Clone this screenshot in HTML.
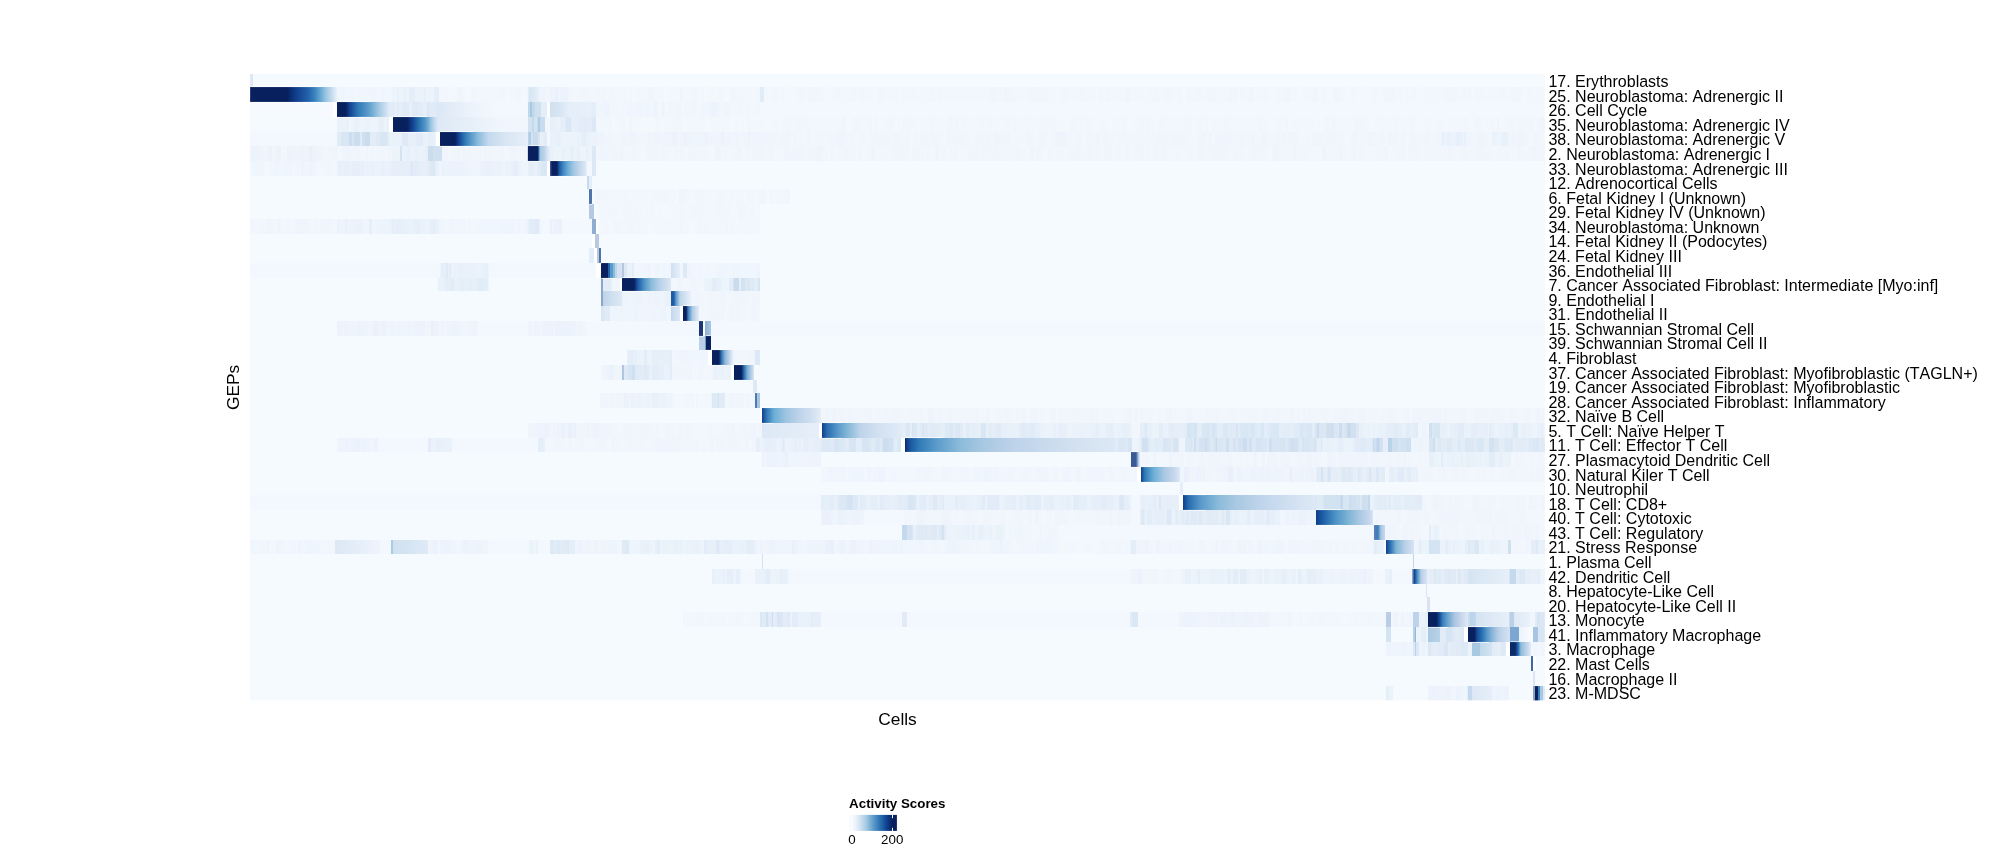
<!DOCTYPE html>
<html lang="en"><head><meta charset="utf-8"><title>GEP activity heatmap</title>
<style>html,body{margin:0;padding:0;background:#fff}body{width:2006px;height:851px;overflow:hidden;position:relative}#h{position:absolute;left:250px;top:0;width:1295px}#h div{position:absolute;left:0;width:1295px}svg{position:absolute;left:0;top:0;display:block;will-change:transform;transform:translateZ(0)}text{font-family:"Liberation Sans",Arial,Helvetica,sans-serif;fill:#000;font-kerning:none}.l{font-size:16.03px}.t{font-size:17.33px}.k{font-size:13.33px}.b{font-size:13.33px;font-weight:bold}</style></head><body>
<div id="h">
<div style="top:74px;height:13px;background:linear-gradient(90deg,#dce8f5 0.3px,#dce8f5 3px,#f5fafe 3.5px,#f5fafe 1294.7px)"></div>
<div style="top:87px;height:15px;background:linear-gradient(90deg,#08205d 0.3px,#08205d 37.5px,#0d3580 43px,#134493 48px,#2262aa 58px,#3d85c0 65px,#62a5d3 70px,#9dc6e1 76px,#c8dcf0 82px,#e6eff9 86.5px,#f0f6fd 86.7px,#eff5fd 86.9px 88px,#f0f6fd 88.4px 90px,#f0f6fd 90.4px 92px,#eff5fd 92.4px 96px,#f1f7fd 96.4px 97.5px,#eff6fd 97.9px 102.5px,#eff5fd 102.9px 105px,#f1f7fd 105.4px 107px,#eff6fd 107.4px 111px,#f0f6fd 111.4px 114px,#f0f6fd 114.4px 120px,#f0f6fd 120.4px 123px,#eff5fd 123.4px 125px,#f0f6fd 125.4px 126.5px,#f1f7fd 126.9px 129.5px,#f0f6fd 129.9px 131.5px,#eef4fd 131.9px 134px,#eff6fd 134.4px 136px,#f1f7fd 136.4px 138.5px,#f0f6fd 138.9px 141.8px,#eaf2fa 142px,#edf4fb 142.2px 146.8px,#e9f1fa 147.2px 148.8px,#ebf3fb 149.2px 151.8px,#ecf3fb 152.2px 153.3px,#e8f1f9 153.7px 155.8px,#ecf4fb 156.2px 158.8px,#e5eef8 159.2px 164.8px,#eaf2fa 165.2px 167.8px,#ebf3fa 168.2px 173.8px,#e7f0f9 174.2px 175.8px,#edf4fb 176.2px 177.8px,#eaf2fa 178.2px 180.8px,#edf4fb 181.2px 183.8px,#e7f0f9 184.2px 185.8px,#e4eef8 186.2px 188.8px,#f2f7fd 189px,#f2f7fd 189.2px 192.8px,#f2f7fd 193.2px 194.8px,#f2f7fd 195.2px 197.8px,#f3f8fd 198.2px 199.8px,#f3f8fd 200.2px 204.8px,#f2f7fd 205.2px 207.8px,#f0f5fc 208.2px 212.8px,#f2f7fd 213.2px 214.8px,#f3f8fd 215.2px 219.8px,#f2f7fd 220.2px 221.8px,#f1f6fd 222.2px 224.3px,#f2f7fd 224.7px 230.3px,#f2f7fd 230.7px 236.3px,#f2f7fd 236.7px 238.3px,#f2f7fd 238.7px 240.3px,#f2f7fd 240.7px 244.3px,#f2f7fd 244.7px 246.3px,#f2f7fd 246.7px 251.3px,#f1f6fd 251.7px 254.3px,#f3f8fd 254.7px 259.3px,#f2f7fd 259.7px 261.3px,#f2f7fd 261.7px 265.3px,#f2f7fd 265.7px 266.8px,#f1f6fd 267.2px 270.8px,#f3f8fd 271.2px 275.8px,#f2f7fd 276.2px 278.3px,#d5e4f2 278.7px,#dde9f6 284px,#e6eff9 288px,#f1f6fd 291px,#eff4fc 291.2px 295.8px,#f1f6fd 296.2px 297.8px,#f0f5fd 298.2px 299.8px,#eef4fc 300px,#edf3fc 300.2px 305.8px,#e9f0fb 306.2px 308.3px,#f0f6fd 308.7px 310.3px,#ecf3fc 310.7px 312.3px,#edf3fc 312.7px 314.3px,#ecf3fc 314.7px 316.3px,#edf3fc 316.7px 317.8px,#f1f6fd 318px,#f1f6fd 318.2px 321.8px,#f2f7fd 322.2px 323.3px,#f2f7fd 323.7px 329.3px,#f1f6fd 329.7px 332.3px,#f1f6fd 332.7px 337.3px,#f2f7fd 337.7px 343.3px,#f2f7fd 343.7px 345.3px,#f1f6fd 345.7px 349.8px,#f2f7fd 350px,#f2f7fd 350.2px 351.3px,#f1f6fd 351.7px 355.3px,#f2f7fd 355.7px 361.3px,#f1f6fd 361.7px 363.8px,#f2f7fd 364.2px 365.8px,#f2f7fd 366.2px 367.8px,#f2f7fd 368.2px 369.8px,#f2f7fd 370.2px 372.8px,#f1f6fd 373.2px 375.8px,#f3f8fd 376.2px 377.3px,#f2f7fd 377.7px 382.3px,#f3f8fd 382.7px 386.3px,#f2f7fd 386.7px 391.3px,#f1f6fd 391.7px 393.3px,#f2f7fd 393.7px 398.3px,#f0f5fc 398.7px 403.3px,#f2f7fd 403.7px 407.3px,#f2f7fd 407.7px 413.3px,#f3f8fd 413.7px 419.3px,#f2f7fd 419.7px 424.3px,#f2f7fd 424.7px 427.3px,#f3f8fd 427.7px 429.3px,#f0f5fc 429.7px 431.8px,#f1f6fd 432.2px 433.8px,#f3f8fd 434.2px 436.8px,#f2f7fd 437.2px 440.8px,#f1f6fd 441.2px 442.3px,#f1f6fd 442.7px 445.3px,#f2f7fd 445.7px 448.3px,#f3f8fd 448.7px 450.3px,#f2f7fd 450.7px 451.8px,#f2f7fd 452.2px 453.8px,#f3f8fd 454.2px 458.8px,#f2f7fd 459.2px 463.8px,#f3f8fd 464.2px 466.3px,#f2f7fd 466.7px 469.3px,#f1f6fd 469.7px 471.3px,#f2f7fd 471.7px 474.3px,#f3f8fd 474.7px 480.3px,#f1f6fd 480.7px 485.3px,#f2f7fd 485.7px 489.3px,#f2f7fd 489.7px 490.8px,#f1f6fd 491.2px 492.8px,#f2f7fd 493.2px 497.8px,#f2f7fd 498.2px 501.8px,#f3f8fd 502.2px 503.8px,#f2f7fd 504.2px 506.8px,#f2f7fd 507.2px 509.8px,#e0ecf7 510px,#e0ecf7 514px,#f2f7fd 514px,#f2f7fd 514.2px 515.8px,#f2f7fd 516.2px 518.8px,#f3f8fd 519.2px 520.8px,#f2f7fd 521.2px 523.3px,#f1f6fd 523.7px 526.3px,#f1f6fd 526.7px 528.3px,#f3f8fd 528.7px 529.8px,#f2f7fd 530.2px 534.8px,#f3f8fd 535.2px 539.8px,#f3f8fd 540.2px 545.8px,#f2f7fd 546.2px 547.8px,#f2f7fd 548.2px 549.8px,#f1f6fd 550.2px 551.8px,#f1f6fd 552.2px 554.8px,#f3f8fd 555.2px 556.8px,#f1f6fd 557.2px 562.8px,#f1f6fd 563.2px 568.8px,#f1f6fd 569.2px 570.8px,#f2f7fd 571.2px 573.8px,#f3f8fd 574.2px 577.8px,#f3f8fd 578.2px 580.8px,#f2f7fd 581.2px 584.8px,#f2f7fd 585.2px 587.3px,#f1f6fd 587.7px 589.8px,#f2f7fd 590.2px 591.3px,#f2f7fd 591.7px 594.3px,#f3f8fd 594.7px 595.8px,#f2f7fd 596.2px 598.8px,#f2f7fd 599.2px 600.3px,#f1f6fd 600.7px 603.3px,#f1f6fd 603.7px 606.3px,#f3f8fd 606.7px 608.8px,#f1f6fd 609.2px 613.8px,#f2f7fd 614.2px 617.8px,#f2f7fd 618.2px 622.8px,#f3f8fd 623.2px 624.8px,#f3f8fd 625.2px 627.8px,#f1f6fd 628.2px 633.8px,#f2f7fd 634.2px 635.3px,#f2f7fd 635.7px 640.3px,#f2f7fd 640.7px 646.3px,#f2f7fd 646.7px 648.8px,#f3f8fd 649.2px 651.3px,#f2f7fd 651.7px 653.8px,#f2f7fd 654.2px 655.8px,#f2f7fd 656.2px 660.8px,#f1f6fd 661.2px 663.8px,#f2f7fd 664.2px 666.3px,#f2f7fd 666.7px 672.3px,#f2f7fd 672.7px 674.3px,#f3f8fd 674.7px 675.8px,#f2f7fd 676.2px 678.3px,#f1f6fd 678.7px 683.3px,#f2f7fd 683.7px 686.3px,#f2f7fd 686.7px 687.8px,#f1f6fd 688.2px 691.8px,#f2f7fd 692.2px 696.8px,#f2f7fd 697.2px 699.8px,#f2f7fd 700.2px 702.8px,#f2f7fd 703.2px 704.3px,#f2f7fd 704.7px 708.3px,#f2f7fd 708.7px 713.3px,#f2f7fd 713.7px 715.8px,#f2f7fd 716.2px 720.8px,#f3f8fd 721.2px 722.3px,#f1f6fd 722.7px 723.8px,#f2f7fd 724.2px 725.8px,#f2f7fd 726.2px 728.3px,#f2f7fd 728.7px 730.3px,#f2f7fd 730.7px 733.3px,#f2f7fd 733.7px 738.3px,#f1f6fd 738.7px 740.3px,#f0f5fc 740.7px 745.3px,#f1f6fd 745.7px 748.3px,#f1f6fd 748.7px 750.3px,#f1f6fd 750.7px 751.8px,#f3f8fd 752.2px 753.3px,#f0f5fc 753.7px 758.3px,#f1f6fd 758.7px 761.3px,#f1f6fd 761.7px 764.3px,#f2f7fd 764.7px 768.3px,#f2f7fd 768.7px 770.3px,#f2f7fd 770.7px 772.3px,#f2f7fd 772.7px 774.3px,#f2f7fd 774.7px 777.3px,#f1f6fd 777.7px 783.3px,#f1f6fd 783.7px 789.3px,#f1f6fd 789.7px 791.3px,#f1f6fd 791.7px 796.3px,#f2f7fd 796.7px 799.3px,#f2f7fd 799.7px 804.3px,#f3f8fd 804.7px 809.3px,#f2f7fd 809.7px 811.8px,#f1f6fd 812.2px 813.8px,#f1f6fd 814.2px 817.8px,#f2f7fd 818.2px 819.8px,#f2f7fd 820.2px 825.8px,#f2f7fd 826.2px 828.8px,#f1f6fd 829.2px 830.8px,#f1f6fd 831.2px 834.8px,#f3f8fd 835.2px 836.3px,#f1f6fd 836.7px 838.3px,#f2f7fd 838.7px 839.8px,#f2f7fd 840.2px 845.8px,#f3f8fd 846.2px 848.3px,#f1f6fd 848.7px 850.8px,#f1f6fd 851.2px 852.8px,#f3f8fd 853.2px 854.8px,#f1f6fd 855.2px 860.8px,#f2f7fd 861.2px 862.8px,#f2f7fd 863.2px 865.8px,#f2f7fd 866.2px 868.3px,#f2f7fd 868.7px 870.8px,#f1f6fd 871.2px 872.8px,#f2f7fd 873.2px 875.3px,#f0f5fc 875.7px 880.3px,#f2f7fd 880.7px 883.3px,#f2f7fd 883.7px 885.3px,#f2f7fd 885.7px 890.3px,#f1f6fd 890.7px 892.3px,#f2f7fd 892.7px 894.3px,#f3f8fd 894.7px 897.3px,#f2f7fd 897.7px 899.8px,#f2f7fd 900.2px 902.8px,#f1f6fd 903.2px 908.8px,#f2f7fd 909.2px 910.8px,#f2f7fd 911.2px 913.8px,#f1f6fd 914.2px 919.8px,#f1f6fd 920.2px 922.3px,#f2f7fd 922.7px 924.8px,#f2f7fd 925.2px 927.3px,#f2f7fd 927.7px 929.3px,#f1f6fd 929.7px 930.8px,#f3f8fd 931.2px 936.8px,#f1f6fd 937.2px 939.3px,#f1f6fd 939.7px 940.8px,#f2f7fd 941.2px 942.8px,#f2f7fd 943.2px 944.3px,#f1f6fd 944.7px 949.3px,#f1f6fd 949.7px 951.3px,#f2f7fd 951.7px 954.3px,#f2f7fd 954.7px 957.3px,#f1f6fd 957.7px 963.3px,#f1f6fd 963.7px 964.8px,#f2f7fd 965.2px 967.8px,#f3f8fd 968.2px 969.8px,#f2f7fd 970.2px 971.8px,#f2f7fd 972.2px 973.8px,#f2f7fd 974.2px 978.8px,#f0f5fc 979.2px 981.8px,#f1f6fd 982.2px 987.8px,#f3f8fd 988.2px 990.3px,#f0f5fc 990.7px 992.3px,#f2f7fd 992.7px 995.3px,#f2f7fd 995.7px 997.3px,#f1f6fd 997.7px 998.8px,#f0f5fc 999.2px 1003.8px,#f3f8fd 1004.2px 1005.8px,#f2f7fd 1006.2px 1009.8px,#f2f7fd 1010.2px 1011.3px,#f2f7fd 1011.7px 1013.3px,#f1f6fd 1013.7px 1015.3px,#f1f6fd 1015.7px 1016.8px,#f2f7fd 1017.2px 1018.8px,#f3f8fd 1019.2px 1024.8px,#f2f7fd 1025.2px 1027.8px,#f2f7fd 1028.2px 1029.8px,#f2f7fd 1030.2px 1031.8px,#f2f7fd 1032.2px 1034.3px,#f0f5fc 1034.7px 1040.3px,#f2f7fd 1040.7px 1045.3px,#f2f7fd 1045.7px 1046.8px,#f3f8fd 1047.2px 1049.8px,#f3f8fd 1050.2px 1052.8px,#f2f7fd 1053.2px 1054.3px,#f2f7fd 1054.7px 1056.3px,#f2f7fd 1056.7px 1061.3px,#f1f6fd 1061.7px 1064.3px,#f0f5fc 1064.7px 1067.3px,#f3f8fd 1067.7px 1072.3px,#f1f6fd 1072.7px 1075.3px,#f2f7fd 1075.7px 1077.3px,#f3f8fd 1077.7px 1083.3px,#f0f5fc 1083.7px 1089.3px,#f2f7fd 1089.7px 1093.3px,#f2f7fd 1093.7px 1095.3px,#f3f8fd 1095.7px 1101.3px,#f2f7fd 1101.7px 1103.3px,#f2f7fd 1103.7px 1106.3px,#f3f8fd 1106.7px 1108.3px,#f3f8fd 1108.7px 1110.8px,#f2f7fd 1111.2px 1113.8px,#f3f8fd 1114.2px 1116.8px,#f3f8fd 1117.2px 1119.3px,#f3f8fd 1119.7px 1120.8px,#f2f7fd 1121.2px 1123.8px,#f2f7fd 1124.2px 1128.8px,#f3f8fd 1129.2px 1132.8px,#f2f7fd 1133.2px 1135.3px,#f1f6fd 1135.7px 1140.3px,#f1f6fd 1140.7px 1142.3px,#f0f5fc 1142.7px 1144.3px,#f2f7fd 1144.7px 1148.3px,#f2f7fd 1148.7px 1150.3px,#f2f7fd 1150.7px 1152.3px,#f3f8fd 1152.7px 1154.8px,#f2f7fd 1155.2px 1159.8px,#f2f7fd 1160.2px 1163.8px,#f1f6fd 1164.2px 1165.8px,#f3f8fd 1166.2px 1168.3px,#f3f8fd 1168.7px 1172.3px,#f3f8fd 1172.7px 1174.3px,#f2f7fd 1174.7px 1177.3px,#f2f7fd 1177.7px 1179.8px,#f3f8fd 1180.2px 1181.3px,#f2f7fd 1181.7px 1186.3px,#f3f8fd 1186.7px 1188.3px,#f2f7fd 1188.7px 1190.3px,#f2f7fd 1190.7px 1193.3px,#f1f6fd 1193.7px 1195.3px,#f1f6fd 1195.7px 1198.3px,#f1f6fd 1198.7px 1201.3px,#f1f6fd 1201.7px 1207.3px,#f2f7fd 1207.7px 1213.3px,#f1f6fd 1213.7px 1215.8px,#f2f7fd 1216.2px 1218.8px,#f1f6fd 1219.2px 1220.8px,#f3f8fd 1221.2px 1224.8px,#f1f6fd 1225.2px 1227.8px,#f1f6fd 1228.2px 1231.8px,#f2f7fd 1232.2px 1233.3px,#f2f7fd 1233.7px 1237.3px,#f2f7fd 1237.7px 1240.3px,#f2f7fd 1240.7px 1244.3px,#f2f7fd 1244.7px 1249.3px,#f2f7fd 1249.7px 1251.3px,#f1f6fd 1251.7px 1254.3px,#f2f7fd 1254.7px 1260.3px,#f1f6fd 1260.7px 1264.3px,#f1f6fd 1264.7px 1269.3px,#f1f6fd 1269.7px 1271.3px,#f3f8fd 1271.7px 1272.8px,#f3f8fd 1273.2px 1274.8px,#f3f8fd 1275.2px 1276.8px,#f2f7fd 1277.2px 1279.8px,#f2f7fd 1280.2px 1282.3px,#f3f8fd 1282.7px 1285.3px,#f2f7fd 1285.7px 1286.8px,#f2f7fd 1287.2px 1289.8px,#f3f8fd 1290.2px 1291.8px,#f2f7fd 1292.2px 1294.5px)"></div>
<div style="top:102px;height:15px;background:linear-gradient(90deg,#f6faff 0.3px,#f6faff 83px,#fff 83px,#fff 86.5px,#08205d 86.7px,#08205d 95.4px,#134493 100px,#2f79b5 108px,#5a9acb 118px,#9dc6e1 128px,#c8dcf0 135px,#e0eaf6 139px,#e3edf8 139px,#e2ecf8 139.2px 144.8px,#e7f0f9 145.2px 146.8px,#e1ebf7 147.2px 148.8px,#e6eff9 149.2px 150.3px,#e4eef8 150.7px 151.8px,#e0ebf7 152.2px 153.8px,#e0ebf7 154.2px 158.8px,#e7f0f9 159.2px 161.8px,#dfeaf7 162.2px 167.8px,#e2ecf8 168.2px 172.8px,#e7f0f9 173.2px 174.8px,#e4eef8 175.2px 176.8px,#dae7f5 177.2px 178.8px,#e0ebf7 179.2px 184.8px,#dfeaf7 185.2px 186.3px,#dce8f6 186.7px 188.5px,#dce8f5 190px,#e4eef8 205px,#eef4fc 225px,#f3f8fe 250px,#f3f8fe 277.6px,#b3d0e6 278.7px,#c3daec 278.9px 280px,#a7c8e2 280.4px 282px,#c2daec 282.4px 284.8px,#cfe0ef 285.3px,#cfe0ef 291px,#e4eef8 291.3px,#e4eef8 297px,#fafcff 297px,#fafcff 300px,#d0e0f0 300px,#d8e5f3 310px,#e4eef8 318px,#e8f0fa 340px,#e4eef8 342px,#e4eef8 346px,#f0f6fd 346px,#eff5fd 346.2px 348.3px,#f0f6fd 348.7px 351.3px,#f1f6fd 351.7px 353.3px,#eef4fd 353.7px 359.3px,#f1f7fd 359.7px 360.8px,#f0f6fd 361.2px 363.8px,#eff6fd 364.2px 366.8px,#f1f7fd 367.2px 368.3px,#f1f7fd 368.7px 372.3px,#f0f6fd 372.7px 374.3px,#f1f7fd 374.7px 377.3px,#eff5fd 377.7px 381.3px,#eff6fd 381.7px 384.3px,#eff5fd 384.7px 389.3px,#eff5fd 389.7px 392.3px,#eff6fd 392.7px 396.3px,#eff5fd 396.7px 399.3px,#f0f6fd 399.7px 404.3px,#edf3fc 404.7px 407.3px,#f1f7fd 407.7px 409.3px,#f1f7fd 409.7px 411.3px,#edf3fc 411.7px 414.3px,#f1f7fd 414.7px 418.3px,#eef5fd 418.7px 420.8px,#f1f6fd 421.2px 423.3px,#f0f6fd 423.7px 426.3px,#eff5fd 426.7px 431.3px,#f1f7fd 431.7px 434.3px,#eff5fd 434.7px 436.3px,#f0f6fd 436.7px 439.3px,#f0f6fd 439.7px 441.8px,#eff5fd 442.2px 445.8px,#f1f7fd 446.2px 450.8px,#f0f6fd 451.2px 452.3px,#eff5fd 452.7px 454.3px,#f1f7fd 454.7px 455.8px,#f0f6fd 456.2px 460.8px,#edf3fc 461.2px 465.8px,#edf4fc 466.2px 468.8px,#f0f6fd 469.2px 470.3px,#f1f6fd 470.7px 474.3px,#eef4fd 474.7px 477.3px,#eff5fd 477.7px 479.3px,#f1f7fd 479.7px 485.3px,#f1f7fd 485.7px 487.3px,#f0f6fd 487.7px 491.3px,#f1f7fd 491.7px 495.3px,#f1f7fd 495.7px 497.3px,#eff5fd 497.7px 498.8px,#f1f7fd 499.2px 504.8px,#f0f6fd 505.2px 506.8px,#f0f6fd 507.2px 509.8px,#f3f8fe 510px,#f3f8fe 1294.7px)"></div>
<div style="top:117px;height:15px;background:linear-gradient(90deg,#f5fafe 0.3px,#f5fafe 86.7px,#eaf2fa 86.7px,#eaf2fa 86.9px 91.5px,#eaf2fa 91.9px 96.5px,#e4eef8 96.9px 98px,#edf4fb 98.4px 104px,#e9f2fa 104.4px 107px,#e9f1fa 107.4px 108.5px,#edf4fb 108.9px 114.5px,#eaf2fa 114.9px 120.5px,#edf4fb 120.9px 123.5px,#edf4fb 123.9px 127.5px,#e8f0f9 127.9px 129.5px,#e7f0f9 129.9px 133.5px,#eaf2fa 133.9px 136.5px,#e8f0f9 136.9px 138.8px,#fff 139px,#fff 142.5px,#08205d 142.7px,#08205d 157px,#134493 163px,#2f79b5 170px,#5a9acb 176px,#9dc6e1 181px,#c8dcf0 185px,#dce8f5 188px,#dee9f6 188px,#e6eff9 220px,#f0f6fd 250px,#f1f6fd 277.6px,#caddee 278.7px,#d2e2f1 278.9px 281.5px,#c5d9ec 281.9px 284px,#d2e3f1 284.4px 287.3px,#b0cce5 288px,#b0cce5 290px,#c9dbee 290.3px,#c9dbee 295px,#f1f6fd 295px,#f1f6fd 300px,#e6eff9 300px,#e7f0f9 300.2px 303.8px,#e9f1fa 304.2px 307.8px,#eaf2fa 308.2px 310.3px,#e4edf8 310.7px 313.3px,#e6eff9 313.7px 315.3px,#dce7f6 315.7px 321.3px,#e8f1fa 321.7px 323.3px,#e6eff9 323.7px 328.3px,#e3edf8 328.7px 330.8px,#e4eef8 331.2px 333.8px,#e2ecf8 334.2px 337.8px,#e3ecf8 338.2px 341.8px,#dce8f5 342px,#dce8f5 346px,#f2f7fd 346px,#f2f7fd 346.2px 347.3px,#f3f8fd 347.7px 348.8px,#f2f7fd 349.2px 354.8px,#f2f7fd 355.2px 356.8px,#f2f7fd 357.2px 359.8px,#f1f6fd 360.2px 361.8px,#f3f8fd 362.2px 364.8px,#f2f7fd 365.2px 368.8px,#f1f6fd 369.2px 374.8px,#f3f8fd 375.2px 378.8px,#f0f5fc 379.2px 381.8px,#f2f7fd 382.2px 384.3px,#f2f7fd 384.7px 386.8px,#f2f7fd 387.2px 388.8px,#f3f8fd 389.2px 391.8px,#f3f8fd 392.2px 394.3px,#f3f8fd 394.7px 399.3px,#f3f8fd 399.7px 405.3px,#f1f6fd 405.7px 406.8px,#f2f7fd 407.2px 408.8px,#f2f7fd 409.2px 411.8px,#f3f8fd 412.2px 414.8px,#f2f7fd 415.2px 420.8px,#f2f7fd 421.2px 422.3px,#f1f6fd 422.7px 427.3px,#f1f6fd 427.7px 430.3px,#f1f6fd 430.7px 432.8px,#f3f8fd 433.2px 434.8px,#f2f7fd 435.2px 438.8px,#f2f7fd 439.2px 440.8px,#f2f7fd 441.2px 443.8px,#f2f7fd 444.2px 446.8px,#f2f7fd 447.2px 450.8px,#f2f7fd 451.2px 454.8px,#f3f8fd 455.2px 460.8px,#f2f7fd 461.2px 463.8px,#f2f7fd 464.2px 468.8px,#f2f7fd 469.2px 473.8px,#f2f7fd 474.2px 479.8px,#f3f8fd 480.2px 484.8px,#f2f7fd 485.2px 487.8px,#f3f8fd 488.2px 491.8px,#f2f7fd 492.2px 494.3px,#f3f8fd 494.7px 497.3px,#f1f6fd 497.7px 500.3px,#f2f7fd 500.7px 502.3px,#f3f8fd 502.7px 504.3px,#f2f7fd 504.7px 507.3px,#f3f8fd 507.7px 509.3px,#f2f7fd 509.7px 515.3px,#f3f8fd 515.7px 520.3px,#f2f7fd 520.7px 522.8px,#f2f7fd 523.2px 525.8px,#f2f7fd 526.2px 528.8px,#f3f8fd 529.2px 532.8px,#f1f6fd 533.2px 535.8px,#f1f6fd 536.2px 538.8px,#f1f6fd 539.2px 542.8px,#f2f7fd 543.2px 544.3px,#f1f6fd 544.7px 547.3px,#f0f5fc 547.7px 549.8px,#f1f6fd 550.2px 552.8px,#f1f6fd 553.2px 558.8px,#f2f7fd 559.2px 561.3px,#f2f7fd 561.7px 565.3px,#f2f7fd 565.7px 571.3px,#f2f7fd 571.7px 577.3px,#f2f7fd 577.7px 578.8px,#f2f7fd 579.2px 581.3px,#f2f7fd 581.7px 584.3px,#f2f7fd 584.7px 590.3px,#f1f6fd 590.7px 592.3px,#f0f5fc 592.7px 595.3px,#f3f8fd 595.7px 597.3px,#f3f8fd 597.7px 600.3px,#f2f7fd 600.7px 603.3px,#f1f6fd 603.7px 608.3px,#f2f7fd 608.7px 614.3px,#f2f7fd 614.7px 617.3px,#f2f7fd 617.7px 618.8px,#f1f6fd 619.2px 621.8px,#f3f8fd 622.2px 623.3px,#f1f6fd 623.7px 627.3px,#f3f8fd 627.7px 630.3px,#f2f7fd 630.7px 636.3px,#f1f6fd 636.7px 641.3px,#f1f6fd 641.7px 642.8px,#f2f7fd 643.2px 644.8px,#f3f8fd 645.2px 647.8px,#f2f7fd 648.2px 649.3px,#f2f7fd 649.7px 650.8px,#f3f8fd 651.2px 652.3px,#f1f6fd 652.7px 658.3px,#f1f6fd 658.7px 660.3px,#f1f6fd 660.7px 662.3px,#f2f7fd 662.7px 664.3px,#f2f7fd 664.7px 667.3px,#f3f8fd 667.7px 670.3px,#f2f7fd 670.7px 675.3px,#f2f7fd 675.7px 679.3px,#f1f6fd 679.7px 684.3px,#f2f7fd 684.7px 690.3px,#f2f7fd 690.7px 692.3px,#f2f7fd 692.7px 698.3px,#f0f5fc 698.7px 701.3px,#f1f6fd 701.7px 703.3px,#f2f7fd 703.7px 704.8px,#f0f5fc 705.2px 707.8px,#f2f7fd 708.2px 710.3px,#f2f7fd 710.7px 713.3px,#f0f5fc 713.7px 715.3px,#f2f7fd 715.7px 720.3px,#f2f7fd 720.7px 722.3px,#f2f7fd 722.7px 725.3px,#f2f7fd 725.7px 728.3px,#f2f7fd 728.7px 731.3px,#f1f6fd 731.7px 733.8px,#f2f7fd 734.2px 736.8px,#f1f6fd 737.2px 741.8px,#f2f7fd 742.2px 743.8px,#f2f7fd 744.2px 746.8px,#f2f7fd 747.2px 751.8px,#f2f7fd 752.2px 753.8px,#f2f7fd 754.2px 755.8px,#f1f6fd 756.2px 758.8px,#f2f7fd 759.2px 760.8px,#f2f7fd 761.2px 762.8px,#f1f6fd 763.2px 766.8px,#f2f7fd 767.2px 768.8px,#f2f7fd 769.2px 771.8px,#f2f7fd 772.2px 773.8px,#f2f7fd 774.2px 775.8px,#f1f6fd 776.2px 777.8px,#f2f7fd 778.2px 780.8px,#f2f7fd 781.2px 786.8px,#f2f7fd 787.2px 789.3px,#f1f6fd 789.7px 792.3px,#f1f6fd 792.7px 797.3px,#f2f7fd 797.7px 799.3px,#f1f6fd 799.7px 804.3px,#f1f6fd 804.7px 806.3px,#f3f8fd 806.7px 810.3px,#f2f7fd 810.7px 813.3px,#f3f8fd 813.7px 818.3px,#f2f7fd 818.7px 820.3px,#f1f6fd 820.7px 821.8px,#f1f6fd 822.2px 824.8px,#f2f7fd 825.2px 829.8px,#f1f6fd 830.2px 832.3px,#f2f7fd 832.7px 836.3px,#f1f6fd 836.7px 840.3px,#f2f7fd 840.7px 844.3px,#f3f8fd 844.7px 849.3px,#f2f7fd 849.7px 852.3px,#f2f7fd 852.7px 854.8px,#f2f7fd 855.2px 856.8px,#f3f8fd 857.2px 861.8px,#f2f7fd 862.2px 867.8px,#f2f7fd 868.2px 870.8px,#f2f7fd 871.2px 873.3px,#f1f6fd 873.7px 876.3px,#f3f8fd 876.7px 878.3px,#f3f8fd 878.7px 880.8px,#f3f8fd 881.2px 882.8px,#f2f7fd 883.2px 888.8px,#f1f6fd 889.2px 891.8px,#f1f6fd 892.2px 893.8px,#f2f7fd 894.2px 895.3px,#f1f6fd 895.7px 897.3px,#f1f6fd 897.7px 899.3px,#f2f7fd 899.7px 904.3px,#f3f8fd 904.7px 906.3px,#f3f8fd 906.7px 908.3px,#f1f6fd 908.7px 912.3px,#f2f7fd 912.7px 914.3px,#f2f7fd 914.7px 920.3px,#f2f7fd 920.7px 922.3px,#f2f7fd 922.7px 926.3px,#f2f7fd 926.7px 928.3px,#f2f7fd 928.7px 934.3px,#f2f7fd 934.7px 938.3px,#f1f6fd 938.7px 941.3px,#f3f8fd 941.7px 943.3px,#f2f7fd 943.7px 947.3px,#f2f7fd 947.7px 949.3px,#f0f5fc 949.7px 952.3px,#f3f8fd 952.7px 953.8px,#f1f6fd 954.2px 955.8px,#f1f6fd 956.2px 958.3px,#f3f8fd 958.7px 961.3px,#f1f6fd 961.7px 963.3px,#f2f7fd 963.7px 969.3px,#f2f7fd 969.7px 971.3px,#f2f7fd 971.7px 973.3px,#f1f6fd 973.7px 977.3px,#f1f6fd 977.7px 978.8px,#f2f7fd 979.2px 981.8px,#f2f7fd 982.2px 984.8px,#f2f7fd 985.2px 986.8px,#f2f7fd 987.2px 989.8px,#f2f7fd 990.2px 994.8px,#f2f7fd 995.2px 997.8px,#f2f7fd 998.2px 1001.8px,#f3f8fd 1002.2px 1003.8px,#f2f7fd 1004.2px 1007.8px,#f0f5fc 1008.2px 1009.3px,#f1f6fd 1009.7px 1013.3px,#f2f7fd 1013.7px 1016.3px,#f2f7fd 1016.7px 1019.3px,#f3f8fd 1019.7px 1022.3px,#f2f7fd 1022.7px 1023.8px,#f3f8fd 1024.2px 1025.3px,#f1f6fd 1025.7px 1028.3px,#f2f7fd 1028.7px 1030.3px,#f1f6fd 1030.7px 1031.8px,#f2f7fd 1032.2px 1035.8px,#f0f5fc 1036.2px 1037.8px,#f3f8fd 1038.2px 1041.8px,#f2f7fd 1042.2px 1044.8px,#f2f7fd 1045.2px 1047.8px,#f2f7fd 1048.2px 1053.8px,#f2f7fd 1054.2px 1055.8px,#f2f7fd 1056.2px 1058.3px,#f2f7fd 1058.7px 1064.3px,#f3f8fd 1064.7px 1067.3px,#f2f7fd 1067.7px 1069.3px,#f3f8fd 1069.7px 1073.3px,#f1f6fd 1073.7px 1079.3px,#f2f7fd 1079.7px 1082.3px,#f0f5fc 1082.7px 1085.3px,#f2f7fd 1085.7px 1091.3px,#f2f7fd 1091.7px 1094.3px,#f2f7fd 1094.7px 1097.3px,#f2f7fd 1097.7px 1099.3px,#f2f7fd 1099.7px 1102.3px,#f3f8fd 1102.7px 1103.8px,#f1f6fd 1104.2px 1106.8px,#f1f6fd 1107.2px 1108.8px,#f1f6fd 1109.2px 1111.8px,#f1f6fd 1112.2px 1115.8px,#f2f7fd 1116.2px 1119.8px,#f3f8fd 1120.2px 1122.8px,#f3f8fd 1123.2px 1124.8px,#f2f7fd 1125.2px 1130.8px,#f1f6fd 1131.2px 1132.8px,#f2f7fd 1133.2px 1134.8px,#f2f7fd 1135.2px 1136.8px,#f2f7fd 1137.2px 1139.8px,#f2f7fd 1140.2px 1144.8px,#f1f6fd 1145.2px 1146.8px,#f2f7fd 1147.2px 1148.8px,#f2f7fd 1149.2px 1154.8px,#f2f7fd 1155.2px 1160.8px,#f1f6fd 1161.2px 1163.8px,#f2f7fd 1164.2px 1166.8px,#f3f8fd 1167.2px 1172.8px,#f3f8fd 1173.2px 1174.3px,#f2f7fd 1174.7px 1179.3px,#f2f7fd 1179.7px 1182.3px,#f3f8fd 1182.7px 1185.3px,#f2f7fd 1185.7px 1189.3px,#f2f7fd 1189.7px 1193.3px,#f3f8fd 1193.7px 1196.3px,#f3f8fd 1196.7px 1197.8px,#f2f7fd 1198.2px 1203.8px,#f2f7fd 1204.2px 1205.8px,#f2f7fd 1206.2px 1208.3px,#f2f7fd 1208.7px 1210.8px,#f2f7fd 1211.2px 1213.8px,#f1f6fd 1214.2px 1215.8px,#f2f7fd 1216.2px 1218.8px,#f3f8fd 1219.2px 1223.8px,#f2f7fd 1224.2px 1225.3px,#f1f6fd 1225.7px 1227.3px,#f1f6fd 1227.7px 1232.3px,#f3f8fd 1232.7px 1234.3px,#f2f7fd 1234.7px 1239.3px,#f2f7fd 1239.7px 1241.3px,#f1f6fd 1241.7px 1243.8px,#f3f8fd 1244.2px 1246.8px,#f0f5fc 1247.2px 1248.8px,#f3f8fd 1249.2px 1251.8px,#f3f8fd 1252.2px 1253.8px,#f2f7fd 1254.2px 1256.8px,#f1f6fd 1257.2px 1261.8px,#f1f6fd 1262.2px 1264.3px,#f2f7fd 1264.7px 1266.8px,#f2f7fd 1267.2px 1268.8px,#f1f6fd 1269.2px 1273.8px,#f1f6fd 1274.2px 1279.8px,#f0f5fc 1280.2px 1282.8px,#f2f7fd 1283.2px 1285.8px,#f2f7fd 1286.2px 1288.8px,#f0f5fc 1289.2px 1294.5px)"></div>
<div style="top:132px;height:14px;background:linear-gradient(90deg,#f3f8fe 0.3px,#f3f8fe 86.7px,#dce8f5 86.7px,#e2ecf7 86.9px 90.5px,#d9e6f4 90.9px 96.5px,#d8e5f4 96.9px 99px,#cdddf0 99.4px 101.5px,#d7e5f3 101.9px 103.5px,#cdddf0 103.9px 109.5px,#e1ebf7 109.9px 111.5px,#d0e0f1 111.9px 114.5px,#cbdcef 114.9px 119.5px,#e3edf7 119.9px 125.5px,#dfeaf6 125.9px 129.5px,#dae6f4 129.9px 131.5px,#d8e5f3 131.9px 136.5px,#e0ebf6 136.9px 138.8px,#eaf2fa 139px,#eaf2fa 142px,#e6eff9 142px,#e9f1fa 142.2px 146.8px,#e9f1fa 147.2px 151.8px,#e0eaf7 152.2px 157.8px,#e7eff9 158.2px 160.8px,#e7eff9 161.2px 165.8px,#e2ecf8 166.2px 170.8px,#e2ecf8 171.2px 172.8px,#e8f0fa 173.2px 175.3px,#e9f1fa 175.7px 177.8px,#e6eff9 178.2px 182.8px,#e9f1fa 183.2px 186.3px,#fff 186.5px,#fff 189.5px,#08205d 189.8px,#08205d 205px,#134493 209px,#2f79b5 215px,#5a9acb 221px,#8bbbda 228px,#c5d9ee 238.6px,#d8e5f3 255px,#e6eff9 277.6px,#b0cfe6 278.7px,#b0cfe6 281px,#d0e0f0 281.3px,#d3e2f1 281.5px 283.1px,#c9dbed 283.5px 288.1px,#d8e5f3 288.5px 289.8px,#e4eef8 290.3px,#e8f1f9 290.5px 291.6px,#e6eff9 292px 294.1px,#e1ecf7 294.5px 296.8px,#f3f8fe 297px,#f3f8fe 300px,#eaf2fa 300px,#e9f1fa 300.2px 305.8px,#e8f1f9 306.2px 307.3px,#e7f0f9 307.7px 309.8px,#eaf2fa 310.2px 312.8px,#edf4fb 313.2px 314.3px,#ecf4fb 314.7px 320.3px,#ecf3fb 320.7px 324.3px,#ecf3fb 324.7px 327.3px,#e8f0f9 327.7px 329.3px,#edf4fb 329.7px 330.8px,#e6eff9 331.2px 333.8px,#e4eef8 334.2px 335.8px,#e9f1fa 336.2px 340.8px,#ecf3fb 341.2px 344.8px,#eff5fc 345px,#ecf2fb 345.2px 347.3px,#edf4fb 347.7px 350.3px,#eef4fc 350.7px 351.8px,#eef4fc 352.2px 354.8px,#f0f6fc 355.2px 357.3px,#eff5fc 357.7px 361.3px,#f0f6fc 361.7px 367.3px,#f1f6fd 367.7px 370.3px,#f0f6fc 370.7px 372.3px,#eef4fc 372.7px 374.3px,#eff5fc 374.7px 379.3px,#eef4fc 379.7px 384.3px,#eef4fc 384.7px 386.3px,#f0f6fc 386.7px 389.3px,#f0f6fc 389.7px 392.3px,#f0f6fc 392.7px 397.3px,#eef4fc 397.7px 399.8px,#eff5fc 400.2px 402.8px,#eef4fc 403.2px 404.8px,#eef4fc 405.2px 407.8px,#eef4fc 408.2px 409.3px,#eff5fc 409.7px 410.8px,#f0f6fc 411.2px 412.8px,#eff5fc 413.2px 414.8px,#eef4fc 415.2px 418.8px,#eef4fc 419.2px 421.8px,#edf3fb 422.2px 427.8px,#f1f6fd 428.2px 429.8px,#edf4fb 430.2px 433.8px,#ebf2fb 434.2px 436.8px,#eef4fc 437.2px 439.8px,#eef4fc 440.2px 442.8px,#eff5fc 443.2px 445.3px,#eff5fc 445.7px 446.8px,#eef4fc 447.2px 449.3px,#eef4fc 449.7px 455.3px,#ecf2fb 455.7px 457.3px,#eff5fc 457.7px 463.3px,#eff5fc 463.7px 465.8px,#f0f5fc 466.2px 470.8px,#ecf2fb 471.2px 473.8px,#eff5fc 474.2px 475.8px,#eff5fc 476.2px 477.8px,#eef4fc 478.2px 479.8px,#f0f6fc 480.2px 481.3px,#f0f6fc 481.7px 484.3px,#eef5fc 484.7px 485.8px,#eef4fc 486.2px 487.8px,#f0f6fc 488.2px 491.8px,#eff5fc 492.2px 497.8px,#ecf3fb 498.2px 499.8px,#eff5fc 500.2px 504.8px,#eff5fc 505.2px 507.3px,#eff5fc 507.7px 509.8px,#f1f6fd 510px,#f0f5fd 510.2px 514.8px,#f0f5fd 515.2px 519.8px,#f0f5fd 520.2px 524.8px,#f1f6fd 525.2px 529.8px,#f0f5fd 530.2px 535.8px,#eff4fc 536.2px 538.8px,#f1f6fd 539.2px 541.3px,#f2f7fd 541.7px 544.3px,#eff4fc 544.7px 545.8px,#f2f7fd 546.2px 549.8px,#f1f6fd 550.2px 552.8px,#f2f7fd 553.2px 555.8px,#f0f5fd 556.2px 557.8px,#f0f5fd 558.2px 559.8px,#f2f7fd 560.2px 564.8px,#f1f6fd 565.2px 567.3px,#f1f6fd 567.7px 570.3px,#f1f6fd 570.7px 573.3px,#f2f7fd 573.7px 576.3px,#f1f6fd 576.7px 578.3px,#f1f6fd 578.7px 584.3px,#f0f5fd 584.7px 588.3px,#eef3fc 588.7px 591.3px,#f0f5fd 591.7px 592.8px,#f0f5fd 593.2px 596.8px,#f2f7fd 597.2px 598.8px,#f1f6fd 599.2px 604.8px,#f2f7fd 605.2px 607.8px,#f2f7fd 608.2px 610.8px,#f1f6fd 611.2px 616.8px,#f2f7fd 617.2px 619.8px,#f0f5fd 620.2px 622.3px,#f0f5fd 622.7px 625.3px,#f0f5fd 625.7px 626.8px,#f0f5fd 627.2px 631.8px,#f0f5fd 632.2px 633.3px,#f0f5fd 633.7px 635.3px,#f1f6fd 635.7px 637.3px,#f0f5fd 637.7px 640.3px,#f2f7fd 640.7px 641.8px,#f0f5fd 642.2px 647.8px,#f1f6fd 648.2px 650.8px,#f1f6fd 651.2px 653.8px,#f1f6fd 654.2px 656.8px,#f0f5fd 657.2px 658.8px,#f2f7fd 659.2px 661.3px,#f2f7fd 661.7px 664.3px,#f0f5fd 664.7px 666.3px,#f2f7fd 666.7px 669.3px,#f0f5fd 669.7px 671.3px,#f0f5fd 671.7px 676.3px,#f1f6fd 676.7px 681.3px,#f0f5fd 681.7px 686.3px,#f1f6fd 686.7px 689.3px,#f1f6fd 689.7px 692.3px,#f2f7fd 692.7px 696.3px,#f0f5fd 696.7px 699.3px,#f1f6fd 699.7px 705.3px,#f1f6fd 705.7px 708.3px,#f0f5fd 708.7px 709.8px,#f0f5fd 710.2px 711.8px,#f1f6fd 712.2px 717.8px,#f1f6fd 718.2px 720.8px,#f2f7fd 721.2px 723.3px,#f2f7fd 723.7px 725.3px,#f0f5fd 725.7px 727.3px,#f1f6fd 727.7px 729.3px,#f1f6fd 729.7px 731.3px,#f1f6fd 731.7px 734.3px,#f0f5fd 734.7px 739.3px,#f1f6fd 739.7px 741.3px,#f1f6fd 741.7px 744.3px,#eff4fc 744.7px 747.3px,#f0f5fd 747.7px 749.8px,#f1f6fd 750.2px 751.8px,#f0f5fd 752.2px 753.8px,#f1f6fd 754.2px 756.8px,#f0f5fd 757.2px 758.3px,#eff4fd 758.7px 760.8px,#f2f7fd 761.2px 766.8px,#f1f6fd 767.2px 769.8px,#f2f7fd 770.2px 775.8px,#f0f5fd 776.2px 780.8px,#f1f6fd 781.2px 783.3px,#f2f7fd 783.7px 785.8px,#f2f7fd 786.2px 788.8px,#f0f5fd 789.2px 794.8px,#f0f5fd 795.2px 796.8px,#f2f7fd 797.2px 799.8px,#f1f6fd 800.2px 802.8px,#f0f5fd 803.2px 805.8px,#eff4fc 806.2px 810.8px,#eff4fc 811.2px 815.8px,#f1f6fd 816.2px 821.8px,#f2f7fd 822.2px 823.8px,#f2f7fd 824.2px 825.8px,#f0f5fd 826.2px 831.8px,#f2f7fd 832.2px 835.8px,#f0f5fd 836.2px 837.3px,#f1f6fd 837.7px 839.8px,#f1f6fd 840.2px 845.8px,#f0f5fd 846.2px 847.8px,#f0f5fd 848.2px 849.8px,#f2f7fd 850.2px 852.8px,#f0f5fd 853.2px 855.8px,#f1f6fd 856.2px 861.8px,#f1f6fd 862.2px 864.3px,#f2f7fd 864.7px 866.3px,#f1f6fd 866.7px 867.8px,#f1f6fd 868.2px 872.8px,#f1f6fd 873.2px 875.8px,#f1f6fd 876.2px 878.8px,#f1f6fd 879.2px 884.8px,#f1f6fd 885.2px 887.8px,#f1f6fd 888.2px 893.8px,#f2f7fd 894.2px 895.3px,#f1f6fd 895.7px 901.3px,#f1f6fd 901.7px 903.8px,#f1f6fd 904.2px 906.8px,#f0f5fd 907.2px 910.8px,#f0f5fd 911.2px 916.8px,#f1f6fd 917.2px 922.8px,#f0f5fd 923.2px 928.8px,#f0f5fd 929.2px 930.3px,#f1f6fd 930.7px 931.8px,#f0f5fd 932.2px 934.3px,#f1f6fd 934.7px 936.8px,#f1f6fd 937.2px 939.8px,#f2f7fd 940.2px 944.8px,#f2f7fd 945.2px 947.8px,#f1f6fd 948.2px 949.3px,#f0f5fd 949.7px 955.3px,#f0f5fd 955.7px 956.8px,#f2f7fd 957.2px 958.8px,#eff4fc 959.2px 960.8px,#f2f7fd 961.2px 964.8px,#f0f5fd 965.2px 970.8px,#f0f5fd 971.2px 975.8px,#f0f5fd 976.2px 981.8px,#f1f6fd 982.2px 986.8px,#f1f6fd 987.2px 988.8px,#f0f5fd 989.2px 991.8px,#f0f5fd 992.2px 993.8px,#f0f5fd 994.2px 995.3px,#f1f6fd 995.7px 998.3px,#f1f6fd 998.7px 1002.3px,#eef3fc 1002.7px 1003.8px,#f1f6fd 1004.2px 1005.3px,#f1f6fd 1005.7px 1007.3px,#f1f6fd 1007.7px 1012.3px,#eef3fc 1012.7px 1015.3px,#f0f5fd 1015.7px 1017.3px,#f1f6fd 1017.7px 1019.8px,#f1f6fd 1020.2px 1022.8px,#f1f6fd 1023.2px 1024.8px,#f0f5fd 1025.2px 1027.8px,#f0f5fd 1028.2px 1029.3px,#f1f6fd 1029.7px 1031.3px,#f0f5fd 1031.7px 1034.3px,#f0f5fd 1034.7px 1036.3px,#f1f6fd 1036.7px 1038.3px,#f0f5fd 1038.7px 1039.8px,#f0f5fd 1040.2px 1041.8px,#f0f5fd 1042.2px 1047.8px,#f2f7fd 1048.2px 1053.8px,#f2f7fd 1054.2px 1057.8px,#f0f5fd 1058.2px 1059.3px,#f2f7fd 1059.7px 1062.3px,#f0f5fd 1062.7px 1064.3px,#f0f5fd 1064.7px 1069.3px,#f0f5fd 1069.7px 1072.3px,#f2f7fd 1072.7px 1073.8px,#f0f5fd 1074.2px 1075.8px,#f0f5fd 1076.2px 1077.3px,#f0f5fd 1077.7px 1079.3px,#f1f6fd 1079.7px 1081.3px,#f0f5fd 1081.7px 1085.3px,#f1f6fd 1085.7px 1087.3px,#f1f6fd 1087.7px 1093.3px,#f2f7fd 1093.7px 1094.8px,#f2f7fd 1095.2px 1100.8px,#f0f5fd 1101.2px 1103.8px,#eff4fc 1104.2px 1106.8px,#f1f6fd 1107.2px 1112.8px,#f2f7fd 1113.2px 1114.3px,#f1f6fd 1114.7px 1118.3px,#eff4fc 1118.7px 1120.3px,#f0f5fd 1120.7px 1124.3px,#f1f6fd 1124.7px 1126.8px,#f1f6fd 1127.2px 1129.8px,#f0f5fd 1130.2px 1133.8px,#f1f6fd 1134.2px 1137.8px,#eef3fc 1138.2px 1140.8px,#f0f5fd 1141.2px 1142.3px,#f1f6fd 1142.7px 1144.8px,#f0f5fd 1145.2px 1147.8px,#f2f7fd 1148.2px 1150.8px,#eff4fd 1151.2px 1153.8px,#f1f6fd 1154.2px 1155.8px,#f2f7fd 1156.2px 1158.8px,#f0f5fd 1159.2px 1160.8px,#f0f5fd 1161.2px 1164.8px,#f0f5fd 1165.2px 1166.3px,#f1f6fd 1166.7px 1168.8px,#f1f6fd 1169.2px 1172.8px,#f2f7fd 1173.2px 1174.3px,#f0f5fd 1174.7px 1179.3px,#f2f7fd 1179.7px 1182.3px,#f1f6fd 1182.7px 1186.3px,#f0f5fd 1186.7px 1191.8px,#e9f1fb 1192px,#e6effa 1192.2px 1193.8px,#ebf3fc 1194.2px 1196.3px,#e8f0fb 1196.7px 1199.3px,#eaf1fb 1199.7px 1200.8px,#eaf2fb 1201.2px 1202.8px,#ebf3fc 1203.2px 1204.8px,#e9f1fb 1205.2px 1206.8px,#e5eefa 1207.2px 1208.8px,#e8f0fb 1209.2px 1211.8px,#eaf2fb 1212.2px 1213.8px,#e7f0fb 1214.2px 1215.8px,#f1f6fd 1216px,#f0f5fd 1216.2px 1218.3px,#f0f5fd 1218.7px 1221.3px,#f1f6fd 1221.7px 1222.8px,#f1f6fd 1223.2px 1227.8px,#eff4fc 1228.2px 1233.8px,#f0f5fd 1234.2px 1235.8px,#f1f6fd 1236.2px 1238.8px,#f2f7fd 1239.2px 1241.8px,#eaf2fa 1242px,#eaf2fa 1242.2px 1244.8px,#eaf2fa 1245.2px 1246.3px,#edf4fb 1246.7px 1251.3px,#e8f1f9 1251.7px 1257.3px,#ecf4fb 1257.7px 1258.8px,#f1f6fd 1259px,#f1f6fd 1259.2px 1261.3px,#eef3fc 1261.7px 1264.3px,#f0f5fd 1264.7px 1265.8px,#f1f6fd 1266.2px 1267.8px,#eff4fc 1268.2px 1273.8px,#f0f5fd 1274.2px 1275.3px,#f0f5fd 1275.7px 1277.3px,#f2f7fd 1277.7px 1279.3px,#f2f7fd 1279.7px 1284.3px,#f0f5fd 1284.7px 1286.3px,#f1f6fd 1286.7px 1290.3px,#f2f7fd 1290.7px 1292.3px,#f2f7fd 1292.7px 1294.5px)"></div>
<div style="top:146px;height:15px;background:linear-gradient(90deg,#eef4fb 0.3px,#edf3fb 0.5px 5.1px,#edf3fa 5.5px 9.1px,#eff4fb 9.5px 12.1px,#eff5fc 12.5px 17.1px,#edf3fa 17.5px 20.1px,#ebf1fa 20.5px 21.6px,#eff5fb 22px 24.6px,#edf3fa 25px 26.6px,#ecf2fa 27px 30.6px,#f0f6fc 31px 36.6px,#edf3fa 37px 39.6px,#eef4fb 40px 44.6px,#eef4fb 45px 47.6px,#eff4fb 48px 49.1px,#edf3fa 49.5px 55.1px,#eef4fb 55.5px 57.6px,#ecf2fa 58px 59.6px,#e9f0f9 60px 62.1px,#edf3fa 62.5px 67.1px,#eff5fb 67.5px 69.1px,#edf4fb 69.5px 73.1px,#f0f6fc 73.5px 79.1px,#f0f5fc 79.5px 81.6px,#eff5fb 82px 84.6px,#eef4fb 85px 86.5px,#f1f6fd 86.7px,#f2f7fd 86.9px 90.5px,#f1f6fd 90.9px 92px,#f0f5fd 92.4px 96px,#eff4fc 96.4px 99px,#f0f5fd 99.4px 101px,#f1f6fd 101.4px 103.5px,#f0f5fd 103.9px 106.5px,#f0f5fd 106.9px 109.5px,#f2f7fd 109.9px 115.5px,#eff4fd 115.9px 117.5px,#f2f7fd 117.9px 119.5px,#f1f6fd 119.9px 124.5px,#f2f7fd 124.9px 126.5px,#f1f6fd 126.9px 130.5px,#f1f6fd 130.9px 134.5px,#f2f7fd 134.9px 137.5px,#f0f5fd 137.9px 141.8px,#e8f0fa 142px,#ecf3fb 142.2px 147.8px,#ebf3fb 148.2px 149.8px,#d5e4f2 150px,#d5e4f2 152px,#e8f0fa 152px,#e9f1fa 152.2px 156.8px,#e7effa 157.2px 159.8px,#ebf2fb 160.2px 162.8px,#ebf2fb 163.2px 164.8px,#e7f0fa 165.2px 166.8px,#e9f1fa 167.2px 168.8px,#eaf2fb 169.2px 174.8px,#e5eef9 175.2px 177.8px,#cfe0ef 178px,#cbdded 178.2px 182.8px,#d1e1f0 183.2px 184.8px,#d0e0f0 187px,#d0e0f0 192px,#f1f6fd 192px,#f0f5fd 192.2px 195.8px,#f0f5fd 196.2px 197.8px,#f2f7fd 198.2px 202.8px,#f1f6fd 203.2px 207.8px,#eff4fc 208.2px 209.8px,#f1f6fd 210.2px 211.8px,#f0f5fd 212.2px 215.8px,#f1f6fd 216.2px 217.3px,#f0f5fd 217.7px 219.3px,#f1f6fd 219.7px 225.3px,#f2f7fd 225.7px 226.8px,#f1f6fd 227.2px 229.8px,#f1f6fd 230.2px 232.8px,#f2f7fd 233.2px 234.3px,#eff4fc 234.7px 235.8px,#f1f6fd 236.2px 237.8px,#f0f5fd 238.2px 239.8px,#f1f6fd 240.2px 245.8px,#f1f6fd 246.2px 248.8px,#f0f5fd 249.2px 253.8px,#f2f7fd 254.2px 258.8px,#f0f5fd 259.2px 261.8px,#f0f5fd 262.2px 263.3px,#f0f5fd 263.7px 267.3px,#f1f6fd 267.7px 270.3px,#f1f6fd 270.7px 272.3px,#f1f6fd 272.7px 274.3px,#f1f6fd 274.7px 277.4px,#08205d 278.2px,#08205d 288px,#4d93c5 289px,#a9c8e2 290.5px,#bdd0ea 294px,#dce8f5 298px,#e6eff9 300px,#eaf2fa 300px,#e8f0f9 300.2px 302.8px,#ecf3fb 303.2px 305.8px,#ecf4fb 306.2px 307.8px,#ecf4fb 308.2px 311.8px,#e8f1f9 312.2px 314.3px,#eaf2fa 314.7px 316.3px,#ebf3fa 316.7px 320.3px,#e5eff8 320.7px 323.3px,#ecf3fb 323.7px 325.3px,#eaf2fa 325.7px 326.8px,#e8f0f9 327.2px 329.8px,#edf4fb 330.2px 335.8px,#e8f1f9 336.2px 338.3px,#ecf4fb 338.7px 341.8px,#dce8f5 342px,#dce8f5 346px,#f1f6fd 346px,#f2f7fd 346.2px 348.8px,#f0f5fd 349.2px 351.3px,#f0f5fd 351.7px 356.3px,#f1f6fd 356.7px 359.3px,#f1f6fd 359.7px 361.3px,#f0f5fd 361.7px 363.3px,#eff4fd 363.7px 366.3px,#f1f6fd 366.7px 369.3px,#eff4fc 369.7px 373.3px,#f2f7fd 373.7px 375.3px,#f1f6fd 375.7px 379.3px,#f2f7fd 379.7px 381.3px,#eff4fd 381.7px 385.3px,#f0f5fd 385.7px 387.3px,#f1f6fd 387.7px 389.8px,#f2f7fd 390.2px 392.8px,#f2f7fd 393.2px 396.8px,#eff4fd 397.2px 402.8px,#f0f5fd 403.2px 408.8px,#f2f7fd 409.2px 410.3px,#f0f5fd 410.7px 411.8px,#f0f5fd 412.2px 413.8px,#f1f6fd 414.2px 419.8px,#f2f7fd 420.2px 423.8px,#f0f5fd 424.2px 425.3px,#f1f6fd 425.7px 431.3px,#f0f5fd 431.7px 433.3px,#f2f7fd 433.7px 436.3px,#f2f7fd 436.7px 437.8px,#f1f6fd 438.2px 439.8px,#f1f6fd 440.2px 442.8px,#f0f5fd 443.2px 444.8px,#f1f6fd 445.2px 446.3px,#f1f6fd 446.7px 449.3px,#f1f6fd 449.7px 452.3px,#f1f6fd 452.7px 458.3px,#f2f7fd 458.7px 460.8px,#f2f7fd 461.2px 464.8px,#eef3fc 465.2px 467.8px,#eff4fc 468.2px 470.3px,#f2f7fd 470.7px 473.3px,#f1f6fd 473.7px 476.3px,#f2f7fd 476.7px 482.3px,#f1f6fd 482.7px 487.3px,#f0f5fd 487.7px 491.3px,#f2f7fd 491.7px 496.3px,#eff4fd 496.7px 498.3px,#f1f6fd 498.7px 504.3px,#f1f6fd 504.7px 506.3px,#f1f6fd 506.7px 508.3px,#f0f5fd 508.7px 514.3px,#f1f6fd 514.7px 520.3px,#f0f5fd 520.7px 523.3px,#f2f7fd 523.7px 528.3px,#f2f7fd 528.7px 533.3px,#f0f5fd 533.7px 536.3px,#f0f5fd 536.7px 540.3px,#f1f6fd 540.7px 542.3px,#f0f5fd 542.7px 547.3px,#f0f5fd 547.7px 553.3px,#f0f5fd 553.7px 554.8px,#f2f7fd 555.2px 557.3px,#f0f5fd 557.7px 560.3px,#f0f5fd 560.7px 564.3px,#f0f5fd 564.7px 566.3px,#eff4fc 566.7px 571.3px,#f0f5fd 571.7px 573.3px,#f1f6fd 573.7px 578.3px,#f2f7fd 578.7px 580.8px,#eff4fc 581.2px 582.8px,#f2f7fd 583.2px 585.8px,#f2f7fd 586.2px 587.8px,#f1f6fd 588.2px 589.8px,#f1f6fd 590.2px 592.8px,#f0f5fd 593.2px 597.8px,#f1f6fd 598.2px 600.8px,#f1f6fd 601.2px 603.8px,#f1f6fd 604.2px 605.8px,#f2f7fd 606.2px 608.3px,#f0f5fd 608.7px 611.3px,#f2f7fd 611.7px 616.3px,#f1f6fd 616.7px 618.8px,#f0f5fd 619.2px 621.8px,#eef3fc 622.2px 624.8px,#f2f7fd 625.2px 628.8px,#f1f6fd 629.2px 630.8px,#f2f7fd 631.2px 633.8px,#f1f6fd 634.2px 635.3px,#f2f7fd 635.7px 641.3px,#f0f5fd 641.7px 646.3px,#f1f6fd 646.7px 649.3px,#f0f5fd 649.7px 651.3px,#f1f6fd 651.7px 653.3px,#f1f6fd 653.7px 659.3px,#f2f7fd 659.7px 662.3px,#f0f5fd 662.7px 664.8px,#eff4fd 665.2px 669.8px,#f2f7fd 670.2px 671.8px,#f0f5fd 672.2px 673.3px,#f2f7fd 673.7px 676.3px,#f1f6fd 676.7px 678.3px,#f1f6fd 678.7px 680.3px,#f2f7fd 680.7px 685.3px,#eff4fc 685.7px 688.3px,#f2f7fd 688.7px 690.3px,#f1f6fd 690.7px 691.8px,#eff4fd 692.2px 695.8px,#f2f7fd 696.2px 698.8px,#f1f6fd 699.2px 704.8px,#f0f5fd 705.2px 706.8px,#f2f7fd 707.2px 710.8px,#f2f7fd 711.2px 712.8px,#f2f7fd 713.2px 715.3px,#f2f7fd 715.7px 717.3px,#f1f6fd 717.7px 721.3px,#f1f6fd 721.7px 724.3px,#f0f5fd 724.7px 729.3px,#f1f6fd 729.7px 732.3px,#f0f5fd 732.7px 734.3px,#f1f6fd 734.7px 740.3px,#f1f6fd 740.7px 743.3px,#f0f5fd 743.7px 747.3px,#f0f5fd 747.7px 751.3px,#f2f7fd 751.7px 752.8px,#f1f6fd 753.2px 755.3px,#f1f6fd 755.7px 758.3px,#f2f7fd 758.7px 761.3px,#f1f6fd 761.7px 764.3px,#f2f7fd 764.7px 765.8px,#f0f5fd 766.2px 770.8px,#f2f7fd 771.2px 772.8px,#f1f6fd 773.2px 775.3px,#f2f7fd 775.7px 779.3px,#f0f5fd 779.7px 780.8px,#f0f5fd 781.2px 783.8px,#f2f7fd 784.2px 785.3px,#f0f5fd 785.7px 788.3px,#f0f5fd 788.7px 790.8px,#f2f7fd 791.2px 793.8px,#f2f7fd 794.2px 797.8px,#f1f6fd 798.2px 799.3px,#f1f6fd 799.7px 801.3px,#f2f7fd 801.7px 806.3px,#f1f6fd 806.7px 807.8px,#f1f6fd 808.2px 812.8px,#f2f7fd 813.2px 814.8px,#f2f7fd 815.2px 818.8px,#f1f6fd 819.2px 820.3px,#f1f6fd 820.7px 824.3px,#f0f5fd 824.7px 826.3px,#f1f6fd 826.7px 827.8px,#f0f5fd 828.2px 830.3px,#f1f6fd 830.7px 831.8px,#f1f6fd 832.2px 834.8px,#f1f6fd 835.2px 837.8px,#f0f5fd 838.2px 842.8px,#f2f7fd 843.2px 844.8px,#f0f5fd 845.2px 849.8px,#f2f7fd 850.2px 852.3px,#f2f7fd 852.7px 854.3px,#f0f5fd 854.7px 856.3px,#f1f6fd 856.7px 862.3px,#f2f7fd 862.7px 864.3px,#f2f7fd 864.7px 866.3px,#f0f5fd 866.7px 867.8px,#f1f6fd 868.2px 869.8px,#f1f6fd 870.2px 871.3px,#f2f7fd 871.7px 874.3px,#f1f6fd 874.7px 876.3px,#eff4fd 876.7px 879.3px,#f2f7fd 879.7px 881.3px,#f1f6fd 881.7px 883.3px,#f1f6fd 883.7px 885.8px,#f1f6fd 886.2px 887.8px,#f0f5fd 888.2px 893.8px,#f2f7fd 894.2px 895.8px,#f0f5fd 896.2px 898.8px,#f1f6fd 899.2px 901.8px,#f1f6fd 902.2px 903.8px,#f0f5fd 904.2px 906.8px,#f1f6fd 907.2px 911.8px,#f0f5fd 912.2px 914.8px,#f1f6fd 915.2px 917.3px,#f2f7fd 917.7px 919.3px,#f2f7fd 919.7px 924.3px,#f2f7fd 924.7px 926.3px,#f1f6fd 926.7px 928.3px,#f1f6fd 928.7px 930.3px,#f2f7fd 930.7px 936.3px,#f2f7fd 936.7px 938.8px,#f1f6fd 939.2px 940.3px,#f1f6fd 940.7px 942.3px,#f2f7fd 942.7px 947.3px,#f0f5fd 947.7px 953.3px,#f1f6fd 953.7px 959.3px,#f1f6fd 959.7px 961.3px,#f0f5fd 961.7px 967.3px,#f1f6fd 967.7px 968.8px,#f0f5fd 969.2px 970.3px,#f1f6fd 970.7px 973.3px,#f0f5fd 973.7px 976.3px,#f1f6fd 976.7px 978.3px,#f1f6fd 978.7px 980.3px,#f2f7fd 980.7px 982.3px,#f1f6fd 982.7px 984.3px,#f0f5fd 984.7px 986.3px,#f1f6fd 986.7px 990.3px,#f1f6fd 990.7px 994.3px,#f2f7fd 994.7px 997.3px,#f1f6fd 997.7px 999.3px,#f1f6fd 999.7px 1001.8px,#f0f5fd 1002.2px 1006.8px,#f1f6fd 1007.2px 1009.8px,#f1f6fd 1010.2px 1015.8px,#f2f7fd 1016.2px 1021.8px,#f1f6fd 1022.2px 1023.3px,#eef3fc 1023.7px 1028.3px,#f1f6fd 1028.7px 1029.8px,#f1f6fd 1030.2px 1035.8px,#f1f6fd 1036.2px 1038.8px,#f1f6fd 1039.2px 1043.8px,#eff4fc 1044.2px 1045.8px,#f1f6fd 1046.2px 1048.8px,#f1f6fd 1049.2px 1050.8px,#f1f6fd 1051.2px 1056.8px,#f2f7fd 1057.2px 1058.8px,#f2f7fd 1059.2px 1061.8px,#f2f7fd 1062.2px 1065.8px,#f2f7fd 1066.2px 1071.8px,#f0f5fd 1072.2px 1073.3px,#eff4fc 1073.7px 1076.3px,#f2f7fd 1076.7px 1078.3px,#f1f6fd 1078.7px 1084.3px,#f1f6fd 1084.7px 1090.3px,#eff4fc 1090.7px 1091.8px,#f1f6fd 1092.2px 1097.8px,#f2f7fd 1098.2px 1099.8px,#eff4fd 1100.2px 1105.8px,#f2f7fd 1106.2px 1108.3px,#f1f6fd 1108.7px 1112.3px,#f1f6fd 1112.7px 1113.8px,#f2f7fd 1114.2px 1118.8px,#f2f7fd 1119.2px 1124.8px,#f1f6fd 1125.2px 1129.8px,#f1f6fd 1130.2px 1132.8px,#f1f6fd 1133.2px 1135.3px,#eff4fc 1135.7px 1137.3px,#f2f7fd 1137.7px 1143.3px,#f2f7fd 1143.7px 1146.3px,#f1f6fd 1146.7px 1147.8px,#f1f6fd 1148.2px 1152.8px,#eff4fd 1153.2px 1154.8px,#f2f7fd 1155.2px 1157.3px,#f1f6fd 1157.7px 1159.3px,#f1f6fd 1159.7px 1165.3px,#f0f5fd 1165.7px 1166.8px,#f0f5fd 1167.2px 1169.3px,#f2f7fd 1169.7px 1173.3px,#f1f6fd 1173.7px 1176.3px,#f1f6fd 1176.7px 1177.8px,#f1f6fd 1178.2px 1180.8px,#f1f6fd 1181.2px 1185.8px,#f1f6fd 1186.2px 1191.8px,#f1f6fd 1192.2px 1197.8px,#f0f5fd 1198.2px 1201.8px,#eff4fd 1202.2px 1203.3px,#f1f6fd 1203.7px 1206.3px,#f2f7fd 1206.7px 1210.3px,#f1f6fd 1210.7px 1213.3px,#f0f5fd 1213.7px 1217.3px,#f1f6fd 1217.7px 1221.3px,#f1f6fd 1221.7px 1224.3px,#f1f6fd 1224.7px 1226.3px,#f0f5fd 1226.7px 1231.3px,#f1f6fd 1231.7px 1237.3px,#f1f6fd 1237.7px 1241.3px,#f2f7fd 1241.7px 1243.8px,#f2f7fd 1244.2px 1246.3px,#f1f6fd 1246.7px 1248.3px,#f1f6fd 1248.7px 1250.3px,#f1f6fd 1250.7px 1255.3px,#f0f5fd 1255.7px 1257.3px,#f1f6fd 1257.7px 1259.3px,#f1f6fd 1259.7px 1260.8px,#f2f7fd 1261.2px 1263.3px,#f1f6fd 1263.7px 1264.8px,#f2f7fd 1265.2px 1267.3px,#f0f5fd 1267.7px 1268.8px,#f0f5fd 1269.2px 1270.3px,#f2f7fd 1270.7px 1272.3px,#f1f6fd 1272.7px 1274.8px,#f2f7fd 1275.2px 1276.3px,#f2f7fd 1276.7px 1277.8px,#f1f6fd 1278.2px 1281.8px,#eff4fc 1282.2px 1285.8px,#f1f6fd 1286.2px 1287.8px,#f1f6fd 1288.2px 1294.5px)"></div>
<div style="top:161px;height:15px;background:linear-gradient(90deg,#f0f6fd 0.3px,#f1f7fd 0.5px 3.1px,#eff5fd 3.5px 5.6px,#eff5fd 6px 7.1px,#f0f6fd 7.5px 10.1px,#eff5fd 10.5px 14.1px,#f1f7fd 14.5px 17.1px,#f1f7fd 17.5px 18.6px,#f1f7fd 19px 20.6px,#eff5fd 21px 22.1px,#f0f6fd 22.5px 25.1px,#eff5fd 25.5px 29.1px,#eff6fd 29.5px 31.1px,#f0f6fd 31.5px 34.1px,#eff5fd 34.5px 36.1px,#eff5fd 36.5px 42.1px,#f1f7fd 42.5px 44.6px,#eff6fd 45px 46.6px,#eef4fd 47px 48.1px,#f0f6fd 48.5px 51.1px,#eef4fd 51.5px 52.6px,#eff5fd 53px 57.6px,#f1f7fd 58px 59.1px,#eef4fd 59.5px 63.1px,#eff5fd 63.5px 65.6px,#f1f7fd 66px 70.6px,#f1f7fd 71px 75.6px,#f0f6fd 76px 81.6px,#f1f7fd 82px 84.6px,#f1f7fd 85px 86.5px,#e8f0fa 86.7px,#eaf1fa 86.9px 88.5px,#e4edf9 88.9px 90px,#e8f0fa 90.4px 94px,#e7effa 94.4px 100px,#e8f0fa 100.4px 102px,#e6eff9 102.4px 108px,#e6eff9 108.4px 109.5px,#e9f0fa 109.9px 112.5px,#e6eef9 112.9px 114px,#eaf2fb 114.4px 117px,#e9f1fa 117.4px 122px,#e8f0fa 122.4px 124.5px,#ebf2fb 124.9px 129.5px,#eaf2fb 129.9px 132px,#e7effa 132.4px 133.5px,#eaf1fb 133.9px 135px,#ebf2fb 135.4px 138.8px,#e6eff9 139px,#e8f0fa 139.2px 141.3px,#e6eff9 141.7px 145.3px,#e6eff9 145.7px 151.3px,#e5eef9 151.7px 153.3px,#e6eff9 153.7px 155.3px,#e6eff9 155.7px 160.3px,#dde8f6 160.7px 162.3px,#e2ecf8 162.7px 166.3px,#e3edf8 166.7px 169.3px,#e6eff9 169.7px 173.3px,#e7eff9 173.7px 176.3px,#e4edf8 176.7px 179.3px,#dce8f6 179.7px 185.3px,#e9f1fa 185.7px 188.5px,#ecf3fb 188.7px,#eef5fc 188.9px 191.5px,#eaf1fa 191.9px 193.5px,#ebf3fb 193.9px 195px,#edf3fb 195.4px 197.5px,#ebf2fb 197.9px 199.5px,#eaf1fa 199.9px 202px,#ebf2fb 202.4px 208px,#ebf2fb 208.4px 214px,#ecf3fb 214.4px 217px,#edf4fb 217.4px 220px,#eef5fc 220.4px 226px,#eef5fc 226.4px 228px,#eef5fc 228.4px 230px,#ebf2fb 230.4px 232px,#eaf1fa 232.4px 237px,#eaf1fa 237.4px 241px,#eaf1fa 241.4px 243px,#ebf2fb 243.4px 244.5px,#eaf2fa 244.9px 250.5px,#ecf3fb 250.9px 252.5px,#edf4fb 252.9px 255.5px,#ebf2fb 255.9px 257.5px,#ecf3fb 257.9px 260.5px,#eaf1fa 260.9px 263px,#e6eff9 263.4px 268px,#ebf2fb 268.4px 270px,#ecf3fb 270.4px 271.5px,#eef5fc 271.9px 277.4px,#e6eff9 278.7px,#e4eef8 278.9px 283.5px,#e8f0fa 283.9px 287.8px,#dce8f5 288px,#e1ebf7 288.2px 290.8px,#d9e6f4 291.2px 296.8px,#fff 297px,#fff 300px,#4a5a98 300.2px,#08205d 302px,#08205d 307px,#1a55a0 309px,#3d85c0 313px,#6baed6 318px,#9ec4e0 323px,#c0d5ea 329px,#dce8f5 336px,#f3f8fe 337px,#f3f8fe 342px,#dce8f5 342px,#dce8f5 346px,#f5fafe 346px,#f5fafe 1294.7px)"></div>
<div style="top:176px;height:13px;background:linear-gradient(90deg,#f5fafe 0.3px,#f5fafe 337px,#c9d9ec 337px,#c9d9ec 339px,#e4eef8 339px,#e4eef8 341.6px,#f5fafe 341.6px,#f5fafe 1294.7px)"></div>
<div style="top:189px;height:15px;background:linear-gradient(90deg,#f5fafe 0.3px,#f5fafe 339px,#4f74a8 339px,#4f74a8 342px,#f5fafe 342px,#f5fafe 344.8px,#f2f7fd 344.8px,#f1f6fd 345px 350.6px,#f2f7fd 351px 352.6px,#f1f6fd 353px 354.1px,#f1f6fd 354.5px 356.1px,#f2f7fd 356.5px 358.1px,#f2f7fd 358.5px 364.1px,#f2f7fd 364.5px 366.6px,#f3f8fd 367px 369.1px,#f2f7fd 369.5px 371.6px,#f3f8fd 372px 373.6px,#f1f6fd 374px 376.1px,#f2f7fd 376.5px 378.1px,#f2f7fd 378.5px 381.1px,#f2f7fd 381.5px 384.1px,#f2f7fd 384.5px 388.1px,#f2f7fd 388.5px 391.1px,#f2f7fd 391.5px 397.1px,#f3f8fd 397.5px 400.1px,#f2f7fd 400.5px 403.1px,#f2f7fd 403.5px 408.1px,#f1f6fd 408.5px 409.6px,#f2f7fd 410px 411.6px,#f1f6fd 412px 413.1px,#f1f6fd 413.5px 417.1px,#f2f7fd 417.5px 423.1px,#f2f7fd 423.5px 425.1px,#f3f8fd 425.5px 429.1px,#f0f5fc 429.5px 435.1px,#f1f6fd 435.5px 437.1px,#f2f7fd 437.5px 441.1px,#f3f8fd 441.5px 444.1px,#f2f7fd 444.5px 447.1px,#f1f6fd 447.5px 452.1px,#f1f6fd 452.5px 454.1px,#f2f7fd 454.5px 455.6px,#f2f7fd 456px 461.6px,#f2f7fd 462px 464.1px,#f2f7fd 464.5px 466.1px,#f2f7fd 466.5px 467.6px,#f1f6fd 468px 473.6px,#f2f7fd 474px 475.6px,#f1f6fd 476px 477.1px,#f3f8fd 477.5px 480.1px,#f2f7fd 480.5px 484.1px,#f3f8fd 484.5px 486.1px,#f2f7fd 486.5px 489.1px,#f2f7fd 489.5px 494.1px,#f3f8fd 494.5px 495.6px,#f2f7fd 496px 497.6px,#f1f6fd 498px 499.6px,#f2f7fd 500px 501.1px,#f2f7fd 501.5px 502.6px,#f2f7fd 503px 504.6px,#f3f8fd 505px 507.6px,#f2f7fd 508px 509.6px,#f1f6fd 510px 512.6px,#f0f5fc 513px 514.6px,#f2f7fd 515px 516.1px,#f3f8fd 516.5px 518.6px,#f2f7fd 519px 520.1px,#f1f6fd 520.5px 523.1px,#f3f8fd 523.5px 525.1px,#f2f7fd 525.5px 527.6px,#f2f7fd 528px 530.1px,#f2f7fd 530.5px 533.1px,#f1f6fd 533.5px 534.6px,#f1f6fd 535px 537.1px,#f1f6fd 537.5px 539.8px,#f5fafe 540px,#f5fafe 1294.7px)"></div>
<div style="top:204px;height:15px;background:linear-gradient(90deg,#f5fafe 0.3px,#f5fafe 339.4px,#b5c9e2 339.4px,#b5c9e2 343.7px,#f5fafe 343.7px,#f5fafe 347px,#f2f7fd 347px,#f3f8fd 347.2px 348.8px,#f2f7fd 349.2px 354.8px,#f2f7fd 355.2px 356.8px,#f2f7fd 357.2px 359.3px,#f1f6fd 359.7px 361.8px,#f2f7fd 362.2px 367.8px,#f3f8fd 368.2px 372.8px,#f1f6fd 373.2px 375.8px,#f1f6fd 376.2px 380.8px,#f2f7fd 381.2px 382.3px,#f2f7fd 382.7px 385.3px,#f1f6fd 385.7px 388.3px,#f2f7fd 388.7px 393.3px,#f3f8fd 393.7px 395.3px,#f1f6fd 395.7px 398.3px,#f3f8fd 398.7px 400.3px,#f1f6fd 400.7px 402.8px,#f3f8fd 403.2px 405.8px,#f3f8fd 406.2px 408.8px,#f2f7fd 409.2px 411.8px,#f3f8fd 412.2px 417.8px,#f2f7fd 418.2px 420.8px,#f3f8fd 421.2px 422.8px,#f2f7fd 423.2px 425.8px,#f2f7fd 426.2px 429.8px,#f1f6fd 430.2px 432.8px,#f1f6fd 433.2px 434.8px,#f2f7fd 435.2px 436.3px,#f2f7fd 436.7px 442.3px,#f1f6fd 442.7px 447.3px,#f2f7fd 447.7px 448.8px,#f1f6fd 449.2px 450.3px,#f2f7fd 450.7px 455.3px,#f2f7fd 455.7px 461.3px,#f2f7fd 461.7px 464.3px,#f1f6fd 464.7px 469.3px,#f1f6fd 469.7px 470.8px,#f2f7fd 471.2px 472.8px,#f1f6fd 473.2px 474.8px,#f2f7fd 475.2px 476.3px,#f2f7fd 476.7px 478.3px,#f1f6fd 478.7px 480.3px,#f3f8fd 480.7px 482.8px,#f3f8fd 483.2px 485.8px,#f3f8fd 486.2px 487.3px,#f1f6fd 487.7px 493.3px,#f1f6fd 493.7px 496.3px,#f2f7fd 496.7px 501.3px,#f1f6fd 501.7px 504.3px,#f3f8fd 504.7px 508.3px,#f2f7fd 508.7px 509.8px,#f5fafe 510px,#f5fafe 1294.7px)"></div>
<div style="top:219px;height:15px;background:linear-gradient(90deg,#f1f6fd 0.3px,#f1f6fd 0.5px 2.6px,#f2f7fd 3px 6.6px,#f2f7fd 7px 9.1px,#f1f6fd 9.5px 15.1px,#f1f6fd 15.5px 17.1px,#eff4fc 17.5px 20.1px,#f0f5fd 20.5px 23.1px,#f1f6fd 23.5px 25.1px,#f2f7fd 25.5px 26.6px,#f0f5fd 27px 28.1px,#eff4fc 28.5px 29.6px,#f1f6fd 30px 31.1px,#f2f7fd 31.5px 33.1px,#f2f7fd 33.5px 36.1px,#f1f6fd 36.5px 38.6px,#f1f6fd 39px 40.6px,#f2f7fd 41px 44.6px,#f0f5fd 45px 47.1px,#eff4fc 47.5px 50.1px,#f0f5fd 50.5px 52.1px,#eef3fc 52.5px 54.6px,#f0f5fd 55px 59.6px,#f2f7fd 60px 62.6px,#f1f6fd 63px 64.6px,#f1f6fd 65px 66.6px,#f1f6fd 67px 68.1px,#f2f7fd 68.5px 69.6px,#f0f5fd 70px 73.6px,#f1f6fd 74px 76.6px,#eff4fd 77px 79.6px,#f1f6fd 80px 84.6px,#f2f7fd 85px 86.5px,#ecf3fb 86.7px,#eaf2fa 86.9px 88.5px,#edf4fb 88.9px 94.5px,#eaf1fa 94.9px 97px,#edf4fb 97.4px 101px,#ecf3fb 101.4px 104px,#ebf2fb 104.4px 108px,#ebf2fb 108.4px 112px,#edf4fb 112.4px 113.5px,#eef5fc 113.9px 118.5px,#e6eef9 118.9px 121.5px,#eef5fc 121.9px 125.5px,#edf4fb 125.9px 129.5px,#ecf3fb 129.9px 134.5px,#ecf3fb 134.9px 138.8px,#e8f0fa 142px,#e5edf9 142.2px 143.8px,#e8f0fa 144.2px 145.8px,#e6eff9 146.2px 150.8px,#e6effa 151.2px 155.8px,#e9f0fa 156.2px 158.8px,#eaf2fb 159.2px 160.8px,#e9f1fa 161.2px 162.8px,#e8f0fa 163.2px 164.8px,#e6eef9 165.2px 167.3px,#e5eef9 167.7px 169.8px,#e9f1fa 170.2px 174.8px,#ebf2fb 175.2px 179.8px,#e6eef9 180.2px 185.8px,#e8f0fa 186.2px 188.5px,#f0f6fd 188.7px,#eff5fd 188.9px 190.5px,#f0f6fd 190.9px 193.5px,#eff5fd 193.9px 195px,#f1f7fd 195.4px 199px,#eff5fd 199.4px 205px,#eff6fd 205.4px 207.5px,#f1f6fd 207.9px 210px,#f0f6fd 210.4px 213px,#eff5fd 213.4px 215px,#f1f7fd 215.4px 218px,#eff5fd 218.4px 219.5px,#f1f7fd 219.9px 225.5px,#f0f6fd 225.9px 228.5px,#f1f6fd 228.9px 231px,#f0f6fd 231.4px 234px,#f0f6fd 234.4px 240px,#f0f6fd 240.4px 245px,#f0f6fd 245.4px 248px,#eff5fd 248.4px 249.5px,#eff5fd 249.9px 253.5px,#f0f6fd 253.9px 255px,#eff5fd 255.4px 260px,#eff5fd 260.4px 262.5px,#eff5fd 262.9px 264px,#f1f7fd 264.4px 267px,#eff5fd 267.4px 270px,#f0f6fd 270.4px 276px,#edf3fc 276.4px 277.4px,#e8f0fa 278.7px,#e2ebf8 278.9px 284.5px,#dfe9f7 284.9px 288.5px,#ebf2fb 288.9px 290.4px,#f3f8fe 290.6px,#f3f8fe 300px,#ecf3fb 300px,#e7eff9 300.2px 301.3px,#eef5fc 301.7px 304.3px,#eaf2fa 304.7px 305.8px,#ecf3fb 306.2px 307.3px,#ecf3fb 307.7px 308.8px,#eaf1fa 309.2px 311.8px,#f3f8fe 312px,#f3f8fe 342px,#8fadd0 342.4px,#8fadd0 345.7px,#fff 345.7px,#fff 347.5px,#f5fafe 347.5px,#f5fafe 350px,#f2f7fd 350px,#f2f7fd 350.2px 355.8px,#f1f6fd 356.2px 357.8px,#f3f8fd 358.2px 362.8px,#f1f6fd 363.2px 364.3px,#f1f6fd 364.7px 368.3px,#f1f6fd 368.7px 370.8px,#f2f7fd 371.2px 376.8px,#f1f6fd 377.2px 378.8px,#f1f6fd 379.2px 384.8px,#f2f7fd 385.2px 387.8px,#f1f6fd 388.2px 390.3px,#f2f7fd 390.7px 392.3px,#f2f7fd 392.7px 394.3px,#f2f7fd 394.7px 396.8px,#f3f8fd 397.2px 399.8px,#f3f8fd 400.2px 403.8px,#f2f7fd 404.2px 407.8px,#f2f7fd 408.2px 413.8px,#f2f7fd 414.2px 419.8px,#f1f6fd 420.2px 421.3px,#f2f7fd 421.7px 423.8px,#f2f7fd 424.2px 429.8px,#f0f5fc 430.2px 432.3px,#f2f7fd 432.7px 437.3px,#f2f7fd 437.7px 439.3px,#f3f8fd 439.7px 442.3px,#f3f8fd 442.7px 445.3px,#f2f7fd 445.7px 448.3px,#f1f6fd 448.7px 452.3px,#f2f7fd 452.7px 453.8px,#f1f6fd 454.2px 456.8px,#f2f7fd 457.2px 458.3px,#f2f7fd 458.7px 460.8px,#f2f7fd 461.2px 464.8px,#f2f7fd 465.2px 468.8px,#f2f7fd 469.2px 473.8px,#f3f8fd 474.2px 475.3px,#f0f5fc 475.7px 477.3px,#f2f7fd 477.7px 481.3px,#f1f6fd 481.7px 484.3px,#f3f8fd 484.7px 487.3px,#f2f7fd 487.7px 488.8px,#f2f7fd 489.2px 490.3px,#f2f7fd 490.7px 491.8px,#f2f7fd 492.2px 494.3px,#f2f7fd 494.7px 496.3px,#f2f7fd 496.7px 501.3px,#f3f8fd 501.7px 503.3px,#f2f7fd 503.7px 505.3px,#f2f7fd 505.7px 507.3px,#f2f7fd 507.7px 509.8px,#f5fafe 510px,#f5fafe 1294.7px)"></div>
<div style="top:234px;height:14px;background:linear-gradient(90deg,#f5fafe 0.3px,#f5fafe 342.5px,#fff 342.5px,#fff 344.8px,#b9c9e0 344.8px,#b9c9e0 348.7px,#f5fafe 348.7px,#f5fafe 1294.7px)"></div>
<div style="top:248px;height:15px;background:linear-gradient(90deg,#f5fafe 0.3px,#f5fafe 339px,#e4eef8 339px,#e4eef8 344.5px,#fff 344.5px,#fff 346.8px,#bac9e0 347px,#bac9e0 349px,#4f74a8 349px,#4f74a8 351px,#f5fafe 351px,#f5fafe 1294.7px)"></div>
<div style="top:263px;height:15px;background:linear-gradient(90deg,#f3f8fe 0.3px,#f3f8fe 190px,#e8f0fa 190.8px,#e6eff9 191px 195.6px,#e0eaf7 196px 197.6px,#e9f1fa 198px 199.1px,#e2ebf8 199.5px 200.6px,#ebf2fb 201px 203.6px,#e9f1fa 204px 205.6px,#ebf2fb 206px 208.1px,#e9f0fa 208.5px 210.1px,#e8f0fa 210.5px 215.1px,#e9f1fa 215.5px 218.1px,#eaf1fa 218.5px 219.6px,#e9f1fa 220px 225.6px,#ebf2fb 226px 231.6px,#e8f0fa 232px 235.6px,#e7effa 236px 238.4px,#f3f8fe 238.6px,#f3f8fe 346px,#fff 346px,#fff 350.8px,#08205d 351.2px,#08205d 357.8px,#2262aa 358.3px,#2262aa 359.8px,#5a9acb 360.3px,#5a9acb 362.8px,#8bbbda 363.3px,#8bbbda 364.8px,#c0d5ea 365.3px,#c0d5ea 366.8px,#d5e2f1 367.3px,#d5e2f1 371.8px,#b9c5de 372px,#b9c5de 373.7px,#dce8f5 373.9px,#dce8f5 377px,#e8f0fa 377.2px,#eaf1fb 377.4px 380px,#eaf1fb 380.4px 381.5px,#e3ecf9 381.9px 383.8px,#f0f6fd 384px,#f0f6fd 384.2px 389.8px,#eff6fd 390.2px 392.8px,#eff5fd 393.2px 395.8px,#eff5fd 396.2px 397.8px,#edf4fc 398.2px 400.8px,#f1f7fd 401.2px 403.3px,#f1f6fd 403.7px 405.3px,#eff5fd 405.7px 406.8px,#eff5fd 407.2px 409.8px,#f1f7fd 410.2px 412.3px,#eff5fd 412.7px 415.3px,#f1f7fd 415.7px 417.3px,#eff5fd 417.7px 420.6px,#d0e0f0 421.2px,#e6eff9 430px,#f0f6fd 430px,#f0f6fd 433px,#dee9f6 433px,#dee9f6 437px,#f0f6fd 437px,#eef4fd 437.2px 439.3px,#eff5fd 439.7px 440.8px,#f0f6fd 441.2px 442.3px,#f0f6fd 442.7px 447.3px,#f0f6fd 447.7px 450.3px,#eff5fd 450.7px 452.3px,#f1f7fd 452.7px 455.3px,#f0f6fd 455.7px 461.3px,#f1f7fd 461.7px 466.3px,#eef5fd 466.7px 471.3px,#eff5fd 471.7px 476.3px,#f0f6fd 476.7px 479.3px,#f0f6fd 479.7px 482.3px,#edf4fc 482.7px 484.3px,#eff5fd 484.7px 488.3px,#eff5fd 488.7px 490.3px,#f0f6fd 490.7px 496.3px,#f0f6fd 496.7px 502.3px,#f0f6fd 502.7px 505.3px,#eff5fd 505.7px 506.8px,#eef4fd 507.2px 509.5px,#f5fafe 509.7px,#f5fafe 1294.7px)"></div>
<div style="top:278px;height:13px;background:linear-gradient(90deg,#f5fafe 0.3px,#f5fafe 188px,#e4eef8 188.7px,#e9f1fa 188.9px 194.5px,#e5eef8 194.9px 198.5px,#e4eef8 198.9px 200.5px,#e1ecf7 200.9px 203.5px,#e8f1f9 203.9px 208.5px,#e6f0f9 208.9px 210.5px,#e3eef8 210.9px 213.5px,#e6f0f9 213.9px 219.5px,#e2ecf7 219.9px 221px,#e5eff8 221.4px 226px,#e6eff9 226.4px 227.5px,#e0ecf7 227.9px 233.5px,#e4eef8 233.9px 236px,#e4eef8 236.4px 238.4px,#f5fafe 238.6px,#f5fafe 351px,#8fa6cb 351.2px,#8fa6cb 352.7px,#e4eef8 352.7px,#e2edf7 352.9px 354.5px,#e1ecf7 354.9px 359.5px,#e4eef8 359.9px 361.8px,#f1f6fd 362px,#f1f6fd 362.2px 363.3px,#f1f6fd 363.7px 365.8px,#f0f5fd 366.2px 367.3px,#f1f6fd 367.7px 369.6px,#fff 370px,#fff 371.9px,#08205d 372.1px,#08205d 384px,#1e5ba8 388px,#4d93c5 394.2px,#8bbbda 401.3px,#b9d0e8 409.5px,#d5e2f1 418.7px,#dce8f5 420.8px,#f0f6fd 420.8px,#f0f6fd 421px 422.1px,#f1f7fd 422.5px 427.1px,#edf4fc 427.5px 430.1px,#eef5fd 430.5px 433.1px,#f1f7fd 433.5px 437.1px,#f1f7fd 437.5px 439.1px,#f1f6fd 439.5px 440.6px,#eff5fd 441px 445.6px,#f1f7fd 446px 447.1px,#f0f6fd 447.5px 449.6px,#f1f7fd 450px 454.3px,#eaf2fa 454.5px,#ebf3fa 454.7px 456.8px,#eaf2fa 457.2px 459.3px,#e9f1fa 459.7px 462.3px,#e3edf7 462.7px 466.3px,#e8f0f9 466.7px 468.3px,#e7f0f9 468.7px 471.3px,#ecf4fb 471.7px 476.3px,#edf4fb 476.7px 478.8px,#e3edf8 479.2px 482.8px,#cadbed 484px,#cadbed 489.3px,#e6eff9 489.3px,#e6eff9 491.3px,#d0e3f0 491.3px,#d0e3f0 495.4px,#e0ebf6 495.4px,#dbe8f4 495.6px 500.2px,#dfebf6 500.6px 501.7px,#dde9f5 502.1px 503.7px,#e3edf7 504.1px 507.7px,#d7e5f3 508.1px 509.5px,#f5fafe 509.7px,#f5fafe 1294.7px)"></div>
<div style="top:291px;height:15px;background:linear-gradient(90deg,#f5fafe 0.3px,#f5fafe 351px,#8fa6cb 351.2px,#8fa6cb 352.7px,#bdd3ea 352.7px,#cfe0ef 362.5px,#dee9f6 372px,#eef4fc 372px,#edf3fc 372.2px 373.8px,#eef4fc 374.2px 378.8px,#eff5fc 379.2px 382.8px,#eef4fc 383.2px 385.8px,#eef4fc 386.2px 387.3px,#edf3fc 387.7px 391.3px,#eff5fc 391.7px 397.3px,#edf3fc 397.7px 399.8px,#eef4fc 400.2px 402.3px,#f0f5fc 402.7px 404.3px,#edf3fc 404.7px 409.3px,#eef4fc 409.7px 412.3px,#f0f5fc 412.7px 414.3px,#ebf1fb 414.7px 420.8px,#1d5ba6 421.4px,#1d5ba6 423.8px,#5a9acb 425.9px,#c0d5ea 430px,#dee9f6 438px,#eef4fc 442px,#f1f6fd 442px,#f2f7fd 442.2px 443.8px,#eff4fd 444.2px 448.8px,#f1f6fd 449.2px 453.8px,#f2f7fd 454.2px 456.8px,#f1f6fd 457.2px 462.8px,#f1f6fd 463.2px 468.8px,#f1f6fd 469.2px 470.3px,#f0f5fd 470.7px 476.3px,#f2f7fd 476.7px 477.8px,#f2f7fd 478.2px 479.8px,#f1f6fd 480.2px 485.8px,#f0f5fd 486.2px 488.3px,#f1f6fd 488.7px 489.8px,#f0f5fd 490.2px 492.8px,#f1f6fd 493.2px 494.3px,#f1f6fd 494.7px 497.3px,#f2f7fd 497.7px 502.3px,#f0f5fd 502.7px 504.3px,#f1f6fd 504.7px 507.3px,#f0f5fd 507.7px 509.5px,#f5fafe 509.7px,#f5fafe 1294.7px)"></div>
<div style="top:306px;height:15px;background:linear-gradient(90deg,#f5fafe 0.3px,#f5fafe 351px,#dce8f5 351.2px,#d9e6f4 351.4px 354px,#e1ebf7 354.4px 360.2px,#eef4fc 360.4px,#eff5fc 360.6px 362.2px,#eef4fc 362.6px 367.2px,#eef4fc 367.6px 373.2px,#eff5fc 373.6px 378.2px,#eff5fc 378.6px 381.2px,#eff5fc 381.6px 384.2px,#edf3fc 384.6px 387.2px,#eff5fc 387.6px 392.2px,#eff5fc 392.6px 395.2px,#eff5fc 395.6px 397.2px,#f0f5fc 397.6px 401.2px,#eef4fc 401.6px 406.2px,#eff5fc 406.6px 408.7px,#eff5fc 409.1px 410.7px,#eef4fc 411.1px 413.7px,#edf3fc 414.1px 415.7px,#f0f6fd 416.1px 420.8px,#c5d9ee 421.2px,#dce8f5 430px,#fff 430px,#fff 433.2px,#08205d 433.4px,#08205d 436.1px,#3a7dbb 438.1px,#a9c8e2 442.2px,#d0dff0 446.3px,#e6eff9 449.4px,#f1f6fd 449.4px,#f2f7fd 449.6px 453.2px,#f2f7fd 453.6px 454.7px,#f1f6fd 455.1px 458.7px,#f0f5fd 459.1px 460.2px,#f1f6fd 460.6px 465.2px,#f0f5fd 465.6px 467.2px,#f1f6fd 467.6px 469.7px,#f1f6fd 470.1px 472.2px,#f0f5fd 472.6px 473.7px,#f2f7fd 474.1px 478.7px,#f0f5fd 479.1px 483.7px,#f2f7fd 484.1px 485.2px,#f0f5fd 485.6px 489.2px,#f1f6fd 489.6px 491.2px,#f1f6fd 491.6px 494.2px,#f1f6fd 494.6px 496.2px,#f2f7fd 496.6px 501.2px,#f0f5fd 501.6px 504.2px,#f0f5fd 504.6px 507.2px,#f2f7fd 507.6px 509.5px,#f5fafe 509.7px,#f5fafe 1294.7px)"></div>
<div style="top:321px;height:15px;background:linear-gradient(90deg,#f5fafe 0.3px,#f5fafe 86.7px,#eef4fc 86.7px,#ecf3fc 86.9px 91.5px,#eff4fc 91.9px 93.5px,#edf3fc 93.9px 96.5px,#edf3fc 96.9px 98px,#edf4fc 98.4px 104px,#eff5fc 104.4px 107px,#ecf3fc 107.4px 112px,#edf4fc 112.4px 114px,#eef4fc 114.4px 116px,#eef4fc 116.4px 118px,#eff5fc 118.4px 120px,#f0f5fc 120.4px 123px,#eaf1fb 123.4px 128px,#eef4fc 128.4px 129.5px,#eef4fc 129.9px 131.5px,#ecf2fb 131.9px 135.5px,#eff5fc 135.9px 140.5px,#eef4fc 140.9px 142.5px,#ecf3fc 142.9px 144px,#eff5fc 144.4px 147px,#edf4fc 147.4px 149.5px,#edf4fc 149.9px 153.5px,#eff5fc 153.9px 156.5px,#eef4fc 156.9px 159px,#eef4fc 159.4px 161px,#eff5fc 161.4px 164px,#edf3fc 164.4px 170px,#edf3fc 170.4px 175px,#f0f5fc 175.4px 181px,#e9f0fb 181.4px 183px,#edf3fc 183.4px 185px,#edf3fc 185.4px 188px,#f0f5fc 188.4px 190px,#eff5fc 190.4px 192.5px,#eef4fc 192.9px 194px,#f0f6fd 194.4px 197px,#eef4fc 197.4px 200px,#eef4fc 200.4px 203px,#edf3fc 203.4px 205.5px,#ecf3fc 205.9px 207.5px,#eef4fc 207.9px 211.5px,#f0f6fd 211.9px 216.5px,#eff5fc 216.9px 218.5px,#eef4fc 218.9px 222.5px,#eef4fc 222.9px 224px,#edf3fc 224.4px 226px,#eff5fc 226.4px 227.5px,#f3f8fe 227.7px,#f3f8fe 278px,#eef4fc 278.7px,#eff4fc 278.9px 281.5px,#f0f6fd 281.9px 284px,#eef4fc 284.4px 287px,#eef4fc 287.4px 289.5px,#eff5fc 289.9px 292.5px,#edf3fc 292.9px 294px,#edf3fc 294.4px 298px,#edf3fc 298.4px 303px,#f0f5fc 303.4px 305px,#ecf2fb 305.4px 311px,#ecf2fb 311.4px 315px,#edf3fc 315.4px 317px,#ecf2fb 317.4px 319.5px,#edf3fc 319.9px 325.5px,#f0f5fc 325.9px 328.5px,#eef4fc 328.9px 330px,#eef4fc 330.4px 332px,#eff5fc 332.4px 335.8px,#f3f8fe 336px,#f3f8fe 449px,#1b3a75 449.4px,#1b3a75 453.5px,#fff 453.5px,#fff 455.5px,#8fb3d6 455.5px,#a9c4e0 460.6px,#f3f8fe 460.6px,#f3f8fe 1294.7px)"></div>
<div style="top:336px;height:14px;background:linear-gradient(90deg,#f5fafe 0.3px,#f5fafe 449.4px,#bdd3ea 449.4px,#b9d0e8 449.6px 453.2px,#b7cfe8 453.6px 455.3px,#08205d 455.9px,#08205d 460.6px,#f5fafe 460.6px,#f5fafe 1294.7px)"></div>
<div style="top:350px;height:15px;background:linear-gradient(90deg,#f5fafe 0.3px,#f5fafe 376.8px,#e6eff9 376.8px,#e7f0f9 377px 378.1px,#e6eff9 378.5px 380.6px,#e3edf8 381px 383.1px,#e7f0f9 383.5px 387.1px,#e9f1fa 387.5px 390.1px,#eaf2fa 390.5px 394.1px,#e3edf8 394.5px 397.1px,#eaf2fa 397.5px 402.1px,#e5eef9 402.5px 404.1px,#e5eef9 404.5px 410.1px,#e7eff9 410.5px 412.1px,#e5eef9 412.5px 414.1px,#e7f0f9 414.5px 419.1px,#e4edf8 419.5px 421.6px,#f0f6fd 421.8px,#f1f7fd 422px 424.6px,#f0f6fd 425px 427.6px,#f0f6fd 428px 430.1px,#eff5fd 430.5px 436.1px,#eff5fd 436.5px 439.1px,#f0f6fd 439.5px 444.1px,#f0f6fd 444.5px 450.1px,#f0f6fd 450.5px 451.6px,#eff5fd 452px 454.6px,#f0f6fd 455px 457.8px,#fff 458px,#fff 462.1px,#08205d 462.3px,#08205d 468.8px,#3a7dbb 471.9px,#8bb5d8 475px,#c9dbee 480px,#e6eff9 483.1px,#f1f6fd 483.1px,#f0f5fd 483.3px 484.4px,#f1f6fd 484.8px 488.4px,#f1f6fd 488.8px 491.4px,#f0f5fd 491.8px 492.9px,#f2f7fd 493.3px 494.4px,#f1f6fd 494.8px 497.4px,#f0f5fd 497.8px 501.4px,#f0f5fd 501.8px 503.4px,#f0f5fd 503.8px 504.8px,#dce8f5 505.2px,#dce8f5 509.7px,#f5fafe 509.7px,#f5fafe 1294.7px)"></div>
<div style="top:365px;height:15px;background:linear-gradient(90deg,#f5fafe 0.3px,#f5fafe 351px,#eef4fc 351px,#f0f6fd 351.2px 352.8px,#eff5fc 353.2px 354.8px,#eff4fc 355.2px 357.8px,#ecf3fc 358.2px 360.8px,#eaf0fb 361.2px 362.3px,#eef4fc 362.7px 364.3px,#eff5fc 364.7px 366.3px,#f0f5fc 366.7px 371.8px,#b0c5e0 372.1px,#b0c5e0 373.7px,#dce8f5 373.7px,#dde9f6 373.9px 377.5px,#d8e5f4 377.9px 379.5px,#d6e4f3 379.9px 381.5px,#d1e0f1 381.9px 384.5px,#deeaf6 384.9px 386.5px,#e0ebf7 386.9px 390.8px,#e6eff9 391px,#e3edf8 391.2px 393.3px,#e0eaf7 393.7px 397.3px,#e2ecf8 397.7px 399.3px,#e9f1fa 399.7px 401.8px,#e3edf8 402.2px 407.8px,#e5eef9 408.2px 410.8px,#e6eff9 411.2px 413.8px,#e9f1fa 414.2px 419.8px,#e3edf8 420.2px 421.6px,#f1f6fd 421.8px,#f0f5fd 422px 424.6px,#f1f6fd 425px 427.1px,#f0f5fd 427.5px 429.1px,#f1f6fd 429.5px 431.1px,#f0f5fd 431.5px 433.1px,#f1f6fd 433.5px 439.1px,#f0f5fd 439.5px 442.1px,#f2f7fd 442.5px 444.6px,#f2f7fd 445px 448.6px,#f0f5fd 449px 452.6px,#f2f7fd 453px 455.6px,#f2f7fd 456px 459.6px,#f1f6fd 460px 462.5px,#eaf2fa 462.7px,#e9f1fa 462.9px 466.5px,#eaf2fa 466.9px 470.5px,#e9f1f9 470.9px 473.5px,#ecf3fb 473.9px 475.5px,#ebf3fa 475.9px 480.8px,#fff 481px,#fff 483.9px,#08205d 484.1px,#08205d 491.3px,#2f75b5 494.4px,#7bafd4 497.4px,#b9d0e8 501.5px,#d5e2f1 503.6px,#f5fafe 503.6px,#f5fafe 1294.7px)"></div>
<div style="top:380px;height:13px;background:linear-gradient(90deg,#f5fafe 0.3px,#f5fafe 503px,#e0e8f5 503px,#e0e8f5 506.6px,#f5fafe 506.6px,#f5fafe 1294.7px)"></div>
<div style="top:393px;height:15px;background:linear-gradient(90deg,#f5fafe 0.3px,#f5fafe 350px,#f1f6fd 350px,#f1f6fd 350.2px 351.8px,#f0f5fd 352.2px 353.8px,#f1f6fd 354.2px 355.8px,#f1f6fd 356.2px 358.3px,#f0f5fd 358.7px 363.3px,#f1f6fd 363.7px 367.3px,#f0f5fd 367.7px 371.8px,#ecf3fb 372.1px,#eef5fc 372.3px 373.9px,#ebf2fb 374.3px 375.9px,#ecf3fb 376.3px 378.9px,#eef5fc 379.3px 380.9px,#ebf2fb 381.3px 383.4px,#edf4fb 383.8px 385.4px,#ecf3fb 385.8px 388.4px,#edf3fb 388.8px 391.4px,#edf4fb 391.8px 393.4px,#edf4fb 393.8px 395.4px,#edf4fb 395.8px 397.4px,#ebf2fb 397.8px 398.9px,#eef5fc 399.3px 400.4px,#ebf2fb 400.8px 402.9px,#e8f0fa 403.3px 406.9px,#eaf1fa 407.3px 409.9px,#ecf3fb 410.3px 412.4px,#ebf2fb 412.8px 415.4px,#ebf2fb 415.8px 416.9px,#eef4fc 417.3px 421.6px,#f2f7fd 421.8px,#f1f6fd 422px 423.1px,#f2f7fd 423.5px 425.1px,#f3f8fd 425.5px 428.1px,#f3f8fd 428.5px 434.1px,#f2f7fd 434.5px 437.1px,#f1f6fd 437.5px 439.1px,#f2f7fd 439.5px 440.6px,#f1f6fd 441px 443.6px,#f3f8fd 444px 446.1px,#f1f6fd 446.5px 447.6px,#f3f8fd 448px 450.6px,#f2f7fd 451px 453.1px,#f3f8fd 453.5px 455.1px,#f2f7fd 455.5px 457.6px,#f3f8fd 458px 459.6px,#f1f6fd 460px 462.3px,#dce8f5 462.5px,#deeaf6 462.7px 467.3px,#d5e3f3 467.7px 468.8px,#e1ebf7 469.2px 473.8px,#e1ecf7 474.2px 475.3px,#f1f6fd 475.5px,#f2f7fd 475.7px 479.3px,#f0f5fd 479.7px 483.3px,#f1f6fd 483.7px 488.3px,#f1f6fd 488.7px 491.3px,#f0f5fd 491.7px 493.3px,#f2f7fd 493.7px 496.3px,#f0f5fd 496.7px 499.3px,#f2f7fd 499.7px 503.3px,#f1f6fd 503.7px 504.8px,#4d7ab0 505.3px,#4d7ab0 507px,#a9c4e0 507px,#a9c4e0 509.8px,#f5fafe 509.8px,#f5fafe 1294.7px)"></div>
<div style="top:408px;height:15px;background:linear-gradient(90deg,#f5fafe 0.3px,#f5fafe 509.7px,#fff 509.7px,#fff 511.8px,#0f3f8c 512px,#2f75b5 516.5px,#6baed6 524px,#9ec4e0 536px,#bdd3ea 549px,#d5e2f1 564.5px,#e6eff9 571px,#f1f6fd 571px,#f1f6fd 571.2px 575.8px,#eef3fc 576.2px 577.8px,#f1f6fd 578.2px 581.8px,#eef3fc 582.2px 585.8px,#f1f6fd 586.2px 588.8px,#f0f5fd 589.2px 594.8px,#f2f7fd 595.2px 597.3px,#f0f5fd 597.7px 602.3px,#f1f6fd 602.7px 607.3px,#f1f6fd 607.7px 609.3px,#f1f6fd 609.7px 612.3px,#f1f6fd 612.7px 615.3px,#f1f6fd 615.7px 617.8px,#f0f5fd 618.2px 620.3px,#f1f6fd 620.7px 621.8px,#f2f7fd 622.2px 626.8px,#f1f6fd 627.2px 632.8px,#f1f6fd 633.2px 635.8px,#f0f5fd 636.2px 637.8px,#f1f6fd 638.2px 641.8px,#eff4fd 642.2px 644.3px,#f0f5fd 644.7px 649.3px,#f1f6fd 649.7px 652.3px,#f2f7fd 652.7px 656.3px,#f1f6fd 656.7px 657.8px,#f1f6fd 658.2px 663.8px,#f1f6fd 664.2px 665.3px,#f2f7fd 665.7px 669.3px,#f0f5fd 669.7px 671.8px,#f2f7fd 672.2px 677.8px,#eff4fc 678.2px 683.8px,#f1f6fd 684.2px 688.8px,#f0f5fd 689.2px 691.8px,#f1f6fd 692.2px 697.8px,#f0f5fd 698.2px 699.3px,#f0f5fd 699.7px 701.3px,#f1f6fd 701.7px 704.3px,#f1f6fd 704.7px 706.3px,#f1f6fd 706.7px 709.3px,#f1f6fd 709.7px 711.3px,#f1f6fd 711.7px 714.3px,#f1f6fd 714.7px 716.3px,#f1f6fd 716.7px 718.8px,#f1f6fd 719.2px 722.8px,#f1f6fd 723.2px 725.8px,#f0f5fd 726.2px 728.8px,#f2f7fd 729.2px 730.8px,#f1f6fd 731.2px 732.8px,#f2f7fd 733.2px 735.8px,#f0f5fd 736.2px 738.8px,#f2f7fd 739.2px 741.3px,#f2f7fd 741.7px 744.3px,#f1f6fd 744.7px 746.3px,#f1f6fd 746.7px 748.3px,#f1f6fd 748.7px 751.3px,#f1f6fd 751.7px 753.3px,#f1f6fd 753.7px 756.3px,#eff4fd 756.7px 758.8px,#f1f6fd 759.2px 761.8px,#f2f7fd 762.2px 763.8px,#f2f7fd 764.2px 765.8px,#f0f5fd 766.2px 767.3px,#f1f6fd 767.7px 771.3px,#f0f5fd 771.7px 773.8px,#eff4fd 774.2px 775.8px,#f2f7fd 776.2px 777.8px,#f2f7fd 778.2px 779.8px,#f0f5fd 780.2px 785.8px,#f0f5fd 786.2px 787.8px,#f2f7fd 788.2px 789.8px,#f1f6fd 790.2px 794.8px,#f2f7fd 795.2px 799.8px,#f0f5fd 800.2px 801.3px,#f0f5fd 801.7px 804.3px,#f1f6fd 804.7px 806.3px,#f2f7fd 806.7px 809.3px,#f0f5fd 809.7px 812.3px,#f1f6fd 812.7px 815.3px,#f1f6fd 815.7px 820.3px,#f1f6fd 820.7px 821.8px,#f1f6fd 822.2px 824.8px,#f0f5fd 825.2px 826.3px,#f1f6fd 826.7px 828.8px,#f1f6fd 829.2px 830.3px,#f1f6fd 830.7px 831.8px,#f1f6fd 832.2px 836.8px,#f1f6fd 837.2px 838.8px,#f0f5fd 839.2px 841.3px,#f0f5fd 841.7px 844.3px,#f1f6fd 844.7px 845.8px,#f0f5fd 846.2px 848.3px,#f2f7fd 848.7px 851.3px,#f1f6fd 851.7px 857.3px,#f1f6fd 857.7px 863.3px,#f2f7fd 863.7px 869.3px,#f2f7fd 869.7px 870.8px,#f1f6fd 871.2px 876.8px,#f0f5fd 877.2px 881.8px,#f2f7fd 882.2px 883.8px,#f1f6fd 884.2px 885.3px,#f0f5fd 885.7px 887.3px,#f2f7fd 887.7px 890.3px,#f0f5fd 890.7px 893.3px,#f1f6fd 893.7px 898.3px,#f1f6fd 898.7px 902.3px,#f2f7fd 902.7px 907.3px,#f1f6fd 907.7px 911.3px,#f2f7fd 911.7px 912.8px,#f1f6fd 913.2px 915.8px,#f0f5fd 916.2px 921.8px,#f2f7fd 922.2px 923.8px,#f1f6fd 924.2px 926.3px,#f2f7fd 926.7px 929.3px,#f1f6fd 929.7px 930.8px,#f2f7fd 931.2px 933.8px,#f2f7fd 934.2px 936.3px,#f0f5fd 936.7px 941.3px,#f1f6fd 941.7px 943.3px,#f2f7fd 943.7px 945.8px,#f2f7fd 946.2px 951.8px,#f2f7fd 952.2px 955.8px,#eff4fd 956.2px 958.8px,#f1f6fd 959.2px 960.8px,#f1f6fd 961.2px 962.8px,#f1f6fd 963.2px 965.8px,#f0f5fd 966.2px 968.3px,#f2f7fd 968.7px 969.8px,#f1f6fd 970.2px 971.8px,#f2f7fd 972.2px 977.8px,#f1f6fd 978.2px 983.8px,#f1f6fd 984.2px 985.3px,#f2f7fd 985.7px 990.3px,#f1f6fd 990.7px 994.3px,#f2f7fd 994.7px 997.3px,#f1f6fd 997.7px 1001.3px,#f1f6fd 1001.7px 1007.3px,#f2f7fd 1007.7px 1012.3px,#f0f5fd 1012.7px 1016.3px,#f1f6fd 1016.7px 1020.3px,#f1f6fd 1020.7px 1025.3px,#f1f6fd 1025.7px 1026.8px,#f0f5fd 1027.2px 1029.8px,#f1f6fd 1030.2px 1031.8px,#f2f7fd 1032.2px 1033.3px,#f1f6fd 1033.7px 1036.3px,#f2f7fd 1036.7px 1038.3px,#f1f6fd 1038.7px 1039.8px,#f0f5fd 1040.2px 1041.8px,#f0f5fd 1042.2px 1043.8px,#f2f7fd 1044.2px 1047.8px,#f0f5fd 1048.2px 1049.3px,#f2f7fd 1049.7px 1053.3px,#eff4fc 1053.7px 1054.8px,#f1f6fd 1055.2px 1056.8px,#f0f5fd 1057.2px 1059.8px,#f1f6fd 1060.2px 1061.8px,#f1f6fd 1062.2px 1063.3px,#f1f6fd 1063.7px 1064.8px,#f1f6fd 1065.2px 1068.8px,#f1f6fd 1069.2px 1073.8px,#f0f5fd 1074.2px 1075.8px,#f1f6fd 1076.2px 1079.8px,#f2f7fd 1080.2px 1082.8px,#f1f6fd 1083.2px 1084.8px,#f1f6fd 1085.2px 1088.8px,#f0f5fd 1089.2px 1092.8px,#eff4fc 1093.2px 1095.8px,#f0f5fd 1096.2px 1101.8px,#f0f5fd 1102.2px 1103.3px,#f1f6fd 1103.7px 1104.8px,#f2f7fd 1105.2px 1106.3px,#f0f5fd 1106.7px 1112.3px,#eff4fc 1112.7px 1115.3px,#f2f7fd 1115.7px 1116.8px,#f1f6fd 1117.2px 1118.3px,#f1f6fd 1118.7px 1120.3px,#f1f6fd 1120.7px 1123.3px,#f1f6fd 1123.7px 1125.3px,#f2f7fd 1125.7px 1126.8px,#f1f6fd 1127.2px 1129.3px,#f2f7fd 1129.7px 1131.8px,#f0f5fd 1132.2px 1133.3px,#f1f6fd 1133.7px 1139.3px,#f0f5fd 1139.7px 1141.8px,#f0f5fd 1142.2px 1144.8px,#f1f6fd 1145.2px 1146.8px,#f2f7fd 1147.2px 1152.8px,#f1f6fd 1153.2px 1154.8px,#f0f5fd 1155.2px 1156.8px,#f0f5fd 1157.2px 1158.8px,#f2f7fd 1159.2px 1160.3px,#f2f7fd 1160.7px 1162.3px,#f0f5fd 1162.7px 1166.3px,#f0f5fd 1166.7px 1172.3px,#f1f6fd 1172.7px 1175.3px,#f1f6fd 1175.7px 1180.3px,#f0f5fd 1180.7px 1183.3px,#f0f5fd 1183.7px 1184.8px,#f0f5fd 1185.2px 1186.3px,#f0f5fd 1186.7px 1191.3px,#f2f7fd 1191.7px 1193.3px,#f0f5fd 1193.7px 1196.3px,#f1f6fd 1196.7px 1200.3px,#f1f6fd 1200.7px 1201.8px,#f2f7fd 1202.2px 1203.3px,#f1f6fd 1203.7px 1208.3px,#f1f6fd 1208.7px 1210.3px,#f0f5fd 1210.7px 1213.3px,#eff4fc 1213.7px 1215.3px,#f2f7fd 1215.7px 1218.3px,#f2f7fd 1218.7px 1221.3px,#f2f7fd 1221.7px 1224.3px,#f0f5fd 1224.7px 1229.3px,#f1f6fd 1229.7px 1233.3px,#f1f6fd 1233.7px 1235.3px,#f0f5fd 1235.7px 1237.3px,#f1f6fd 1237.7px 1241.3px,#f0f5fd 1241.7px 1243.3px,#f0f5fd 1243.7px 1245.8px,#f0f5fd 1246.2px 1249.8px,#f1f6fd 1250.2px 1255.8px,#f2f7fd 1256.2px 1258.8px,#f0f5fd 1259.2px 1261.8px,#f0f5fd 1262.2px 1264.3px,#f2f7fd 1264.7px 1265.8px,#f1f6fd 1266.2px 1268.8px,#f2f7fd 1269.2px 1271.8px,#f1f6fd 1272.2px 1274.8px,#f0f5fd 1275.2px 1279.8px,#f2f7fd 1280.2px 1283.8px,#f2f7fd 1284.2px 1285.3px,#f0f5fd 1285.7px 1290.3px,#f2f7fd 1290.7px 1292.3px,#f0f5fd 1292.7px 1294.5px)"></div>
<div style="top:423px;height:15px;background:linear-gradient(90deg,#f5fafe 0.3px,#f5fafe 278px,#eef4fc 278.7px,#eef4fc 278.9px 280px,#f0f5fc 280.4px 286px,#eef4fc 286.4px 289px,#edf3fc 289.4px 291px,#eef4fc 291.4px 293px,#edf3fc 293.4px 299px,#f0f6fd 299.4px 301px,#f0f5fc 301.4px 303px,#eff4fc 303.4px 304.5px,#eff5fc 304.9px 306.5px,#edf3fc 306.9px 308.5px,#eef4fc 308.9px 310.5px,#edf3fc 310.9px 312px,#e9f0fb 312.4px 313.5px,#ecf3fc 313.9px 315.5px,#eef4fc 315.9px 317.5px,#eaf0fb 317.9px 321.5px,#edf3fc 321.9px 323.5px,#eaf1fb 323.9px 326px,#eff5fc 326.4px 329px,#f0f5fc 329.4px 335px,#eff5fc 335.4px 337px,#edf3fc 337.4px 339px,#eff5fc 339.4px 341px,#eef4fc 341.4px 344px,#edf3fc 344.4px 349px,#f0f5fc 349.4px 350.8px,#f1f6fd 351px,#f0f5fd 351.2px 356.8px,#f0f5fd 357.2px 362.8px,#f2f7fd 363.2px 364.3px,#f1f6fd 364.7px 366.3px,#f2f7fd 366.7px 369.3px,#f2f7fd 369.7px 372.3px,#f1f6fd 372.7px 374.8px,#f0f5fd 375.2px 376.8px,#f1f6fd 377.2px 378.8px,#f1f6fd 379.2px 381.8px,#f1f6fd 382.2px 384.3px,#f1f6fd 384.7px 386.8px,#f1f6fd 387.2px 389.8px,#f0f5fd 390.2px 393.8px,#f1f6fd 394.2px 395.3px,#f0f5fd 395.7px 397.3px,#f1f6fd 397.7px 400.3px,#f2f7fd 400.7px 406.3px,#f0f5fd 406.7px 407.8px,#f2f7fd 408.2px 409.8px,#f2f7fd 410.2px 412.3px,#f2f7fd 412.7px 415.3px,#f0f5fd 415.7px 417.3px,#f0f5fd 417.7px 420.3px,#f1f6fd 420.7px 425.3px,#f2f7fd 425.7px 427.3px,#f0f5fd 427.7px 431.3px,#f1f6fd 431.7px 435.3px,#f0f5fd 435.7px 439.3px,#f1f6fd 439.7px 444.3px,#f2f7fd 444.7px 448.3px,#f2f7fd 448.7px 452.3px,#f2f7fd 452.7px 456.3px,#f1f6fd 456.7px 458.3px,#f1f6fd 458.7px 462.3px,#f2f7fd 462.7px 464.8px,#f2f7fd 465.2px 468.8px,#f2f7fd 469.2px 471.3px,#f2f7fd 471.7px 473.8px,#f1f6fd 474.2px 475.8px,#f1f6fd 476.2px 478.8px,#f1f6fd 479.2px 481.8px,#f0f5fd 482.2px 484.8px,#f2f7fd 485.2px 487.8px,#f1f6fd 488.2px 492.8px,#f0f5fd 493.2px 495.8px,#f1f6fd 496.2px 500.8px,#f0f5fd 501.2px 503.8px,#eff4fc 504.2px 505.8px,#f1f6fd 506.2px 508.3px,#f1f6fd 508.7px 511.8px,#dce8f5 512.4px,#e6eff9 569px,#fff 569px,#fff 571.8px,#0f3f8c 572px,#2b6fb2 577.5px,#5a9acb 588.3px,#8bbbda 599.2px,#bdd3ea 610px,#d0dff0 625.2px,#dee9f6 646.9px,#e6eff9 655.5px,#e0ebf6 655.5px,#dbe7f4 655.7px 658.3px,#dbe7f4 658.7px 659.8px,#e4eef8 660.2px 661.8px,#d8e5f3 662.2px 663.8px,#dae7f4 664.2px 666.8px,#e5eef8 667.2px 669.8px,#e0ebf6 670.2px 672.3px,#d5e3f2 672.7px 673.8px,#dee9f5 674.2px 677.8px,#e3edf7 678.2px 679.3px,#e0ebf6 679.7px 681.3px,#deeaf5 681.7px 686.3px,#e2ecf7 686.7px 690.3px,#e5eff8 690.7px 693.3px,#e4eef7 693.7px 694.8px,#dde9f5 695.2px 699.8px,#d9e6f3 700.2px 702.8px,#e1ecf6 703.2px 704.8px,#dee9f5 705.2px 706.3px,#dbe8f4 706.7px 709.8px,#e4eef8 710px,#e1ecf7 710.2px 712.8px,#e9f1fa 713.2px 715.3px,#e4eef8 715.7px 716.8px,#dfebf6 717.2px 719.3px,#e7f0f9 719.7px 721.3px,#e3edf8 721.7px 724.3px,#e5eff8 724.7px 725.8px,#e5eff8 726.2px 730.8px,#d9e7f4 731.2px 735.8px,#e8f1f9 736.2px 738.3px,#e1ecf7 738.7px 741.3px,#e6eff9 741.7px 745.3px,#e1ecf7 745.7px 748.3px,#e0ebf7 748.7px 750.8px,#e6f0f9 751.2px 756.8px,#e8f1fa 757.2px 762.8px,#e8f1f9 763.2px 768.8px,#e4eef8 769.2px 770.3px,#e2ecf7 770.7px 771.8px,#e0ebf7 772.2px 776.8px,#e3edf8 777.2px 778.8px,#e0ebf7 779.2px 784.8px,#e5eff9 785.2px 789.8px,#e9f1fa 790px,#ebf2fb 790.2px 795.8px,#ecf3fb 796.2px 800.8px,#ecf3fb 801.2px 802.8px,#e8f0fa 803.2px 805.8px,#ebf2fb 806.2px 808.8px,#e6eff9 809.2px 811.8px,#e7eff9 812.2px 816.8px,#ecf3fb 817.2px 821.8px,#ebf2fb 822.2px 824.8px,#eaf2fa 825.2px 826.8px,#ebf2fb 827.2px 830.8px,#e9f1fa 831.2px 833.8px,#eaf2fa 834.2px 839.8px,#e9f1fa 840.2px 842.8px,#e8f0fa 843.2px 845.8px,#e6eff9 846.2px 848.8px,#eaf2fa 849.2px 854.8px,#e7f0f9 855.2px 856.8px,#e6eff9 857.2px 860.8px,#e4edf8 861.2px 863.3px,#ebf2fb 863.7px 867.3px,#e9f1fa 867.7px 872.3px,#e7eff9 872.7px 878.3px,#e9f1fa 878.7px 880.8px,#f1f6fd 881px,#f1f6fd 881.2px 882.8px,#f1f6fd 883.2px 885.3px,#f1f6fd 885.7px 888.3px,#f2f7fd 888.7px 889.8px,#e6eff9 890px,#e4eef8 890.2px 891.3px,#e5eff9 891.7px 894.3px,#dde9f6 894.7px 896.8px,#e7f0f9 897.2px 901.8px,#eaf2fa 902.2px 904.8px,#eaf2fa 905.2px 906.8px,#eaf2fa 907.2px 908.8px,#e3edf8 909.2px 912.8px,#e9f1fa 913.2px 917.8px,#e5eef9 918.2px 920.3px,#e3edf8 920.7px 924.3px,#e6eff9 924.7px 930.3px,#e6eff9 930.7px 933.5px,#deeaf6 933.7px,#e2edf7 933.9px 936.5px,#d5e4f3 936.9px 940.5px,#d9e7f4 940.9px 943.5px,#d5e4f3 943.9px 946.5px,#e2edf7 946.9px 951.5px,#d9e6f4 951.9px 953.5px,#d9e6f4 953.9px 956px,#d8e6f4 956.4px 960px,#dde9f5 960.4px 962px,#d5e4f3 962.4px 965px,#dae7f4 965.4px 966.5px,#e3eef8 966.9px 969px,#e3edf8 969.4px 973px,#dae7f5 973.4px 974.5px,#dbe8f5 974.9px 977.5px,#e2edf7 977.9px 979px,#dfeaf6 979.4px 983px,#e0ebf7 983.4px 986px,#d8e6f4 986.4px 988px,#e1ecf7 988.4px 990px,#dae7f5 990.4px 991.5px,#d9e6f4 991.9px 997.5px,#dbe8f5 997.9px 1000.5px,#d8e6f4 1000.9px 1003.5px,#d9e7f4 1003.9px 1005px,#deeaf6 1005.4px 1006.5px,#e0ecf7 1006.9px 1009.5px,#dce9f5 1009.9px 1011.5px,#d9e6f4 1011.9px 1014px,#e3edf8 1014.4px 1017px,#dfebf6 1017.4px 1020px,#dae7f5 1020.4px 1023px,#d9e6f4 1023.4px 1029px,#e3eef8 1029.4px 1033px,#e2edf7 1033.4px 1039px,#e2edf7 1039.4px 1041px,#e3eef8 1041.4px 1044px,#dfebf6 1044.4px 1050px,#d9e6f4 1050.4px 1052.5px,#dce9f5 1052.9px 1056.5px,#d9e7f4 1056.9px 1061.5px,#e3edf8 1061.9px 1064.5px,#d9e6f4 1064.9px 1065.8px,#d5e2f1 1067px,#cddcee 1067.2px 1068.8px,#dae6f3 1069.2px 1073.8px,#dde8f4 1074.2px 1075.8px,#d1dfef 1076.2px 1081.8px,#cddcee 1082.2px 1083.3px,#dae6f3 1083.7px 1087.3px,#dce8f4 1087.7px 1088.8px,#cddcee 1089.2px 1091.8px,#dce7f4 1092.2px 1094.3px,#d7e3f2 1094.7px 1097.3px,#c5d6eb 1097.7px 1099.3px,#ceddee 1099.7px 1100.8px,#d2e0f0 1101.2px 1103.3px,#d3e0f0 1103.7px 1105.8px,#dee8f4 1106.2px 1109.2px,#eaf2fa 1109.4px,#e7f0f9 1109.6px 1113.2px,#ebf3fa 1113.6px 1118.2px,#e9f2fa 1118.6px 1120.2px,#edf4fb 1120.6px 1122.2px,#e9f2fa 1122.6px 1125.2px,#ecf4fb 1125.6px 1127.2px,#e9f1fa 1127.6px 1132.2px,#e9f1fa 1132.6px 1135.2px,#e7f0f9 1135.6px 1137.4px,#e4eef8 1137.6px,#e4eef8 1137.8px 1143.4px,#e1ecf7 1143.8px 1147.4px,#e4eef8 1147.8px 1149.9px,#e4eef8 1150.3px 1151.9px,#e8f1f9 1152.3px 1155.9px,#e1ecf7 1156.3px 1158.9px,#e4eef8 1159.3px 1160.9px,#e6eff9 1161.3px 1162.9px,#e3edf8 1163.3px 1165.4px,#e0ebf7 1165.8px 1167.8px,#eef4fc 1168px,#f0f6fd 1168.2px 1171.8px,#eef4fc 1172.2px 1176.8px,#f0f6fd 1177.2px 1178.6px,#d5e4f2 1178.8px,#cfe0f0 1179px 1181.6px,#dce9f5 1182px 1184.1px,#d7e6f3 1184.5px 1189.5px,#e6eff9 1189.7px,#e7f0f9 1189.9px 1194.5px,#e8f1fa 1194.9px 1196.5px,#eaf2fa 1196.9px 1199.5px,#e7f0f9 1199.9px 1203.5px,#e5eef9 1203.9px 1207.5px,#e2ecf8 1207.9px 1209.5px,#e2ecf8 1209.9px 1213.5px,#e9f1fa 1213.9px 1216.5px,#e9f1fa 1216.9px 1220.5px,#e4edf8 1220.9px 1226.5px,#e7eff9 1226.9px 1230.5px,#e7f0f9 1230.9px 1232.5px,#e5eef9 1232.9px 1237.5px,#eaf2fa 1237.9px 1239px,#e3edf8 1239.4px 1241px,#e6eff9 1241.4px 1243.5px,#eaf2fa 1243.9px 1246.5px,#eaf2fa 1246.9px 1248.5px,#e8f0fa 1248.9px 1252.5px,#e8f0fa 1252.9px 1255.5px,#e3edf8 1255.9px 1257px,#e8f0fa 1257.4px 1261px,#e4eef8 1261.4px 1262.8px,#dce8f5 1263px,#dce8f5 1268px,#eaf2fa 1268px,#eaf2fa 1268.2px 1272.8px,#e7f0f9 1273.2px 1275.3px,#eaf2fa 1275.7px 1278.3px,#e9f2fa 1278.7px 1281.3px,#edf4fb 1281.7px 1287.3px,#e9f1fa 1287.7px 1291.3px,#e6eff9 1291.7px 1293.3px,#ecf4fb 1293.7px 1294.5px)"></div>
<div style="top:438px;height:14px;background:linear-gradient(90deg,#f5fafe 0.3px,#f5fafe 86.7px,#eef4fc 86.7px,#f0f5fc 86.9px 89px,#edf4fc 89.4px 91.5px,#eef4fc 91.9px 94.5px,#edf3fc 94.9px 97.5px,#eef4fc 97.9px 100.5px,#edf3fc 100.9px 103.5px,#ecf2fb 103.9px 109.5px,#f0f5fc 109.9px 111px,#edf3fc 111.4px 114px,#edf3fc 114.4px 116.5px,#eff5fc 116.9px 118px,#eef4fc 118.4px 119.5px,#f0f6fd 119.9px 121px,#eff5fc 121.4px 124px,#ecf3fc 124.4px 127.8px,#f3f8fe 128px,#f3f8fe 177.8px,#e8f0fa 177.8px,#e3ecf8 178px 180.6px,#eaf1fb 181px 183.1px,#ebf2fb 183.5px 186.1px,#e6effa 186.5px 190.1px,#e8f0fa 190.5px 195.1px,#e9f1fa 195.5px 197.1px,#e9f1fa 197.5px 201.5px,#f3f8fe 201.7px,#f3f8fe 288px,#e4eef8 288.4px,#e5eef8 288.6px 290.2px,#e5eff8 290.6px 291.7px,#e1ecf7 292.1px 293.2px,#e8f1f9 293.6px 294.8px,#f1f6fd 295px,#f2f7fd 295.2px 296.3px,#f2f7fd 296.7px 301.3px,#f2f7fd 301.7px 303.3px,#f0f5fd 303.7px 307.3px,#f0f5fd 307.7px 310.3px,#f1f6fd 310.7px 312.8px,#f1f6fd 313.2px 315.8px,#f2f7fd 316.2px 318.8px,#f0f5fd 319.2px 321.8px,#f2f7fd 322.2px 323.8px,#f2f7fd 324.2px 325.3px,#f1f6fd 325.7px 328.3px,#f0f5fd 328.7px 334.3px,#f2f7fd 334.7px 339.3px,#f2f7fd 339.7px 342.3px,#f2f7fd 342.7px 343.8px,#f1f6fd 344.2px 348.8px,#f0f5fd 349.2px 351.8px,#f0f5fd 352.2px 356.8px,#f2f7fd 357.2px 361.8px,#eff4fc 362.2px 363.3px,#f1f6fd 363.7px 365.8px,#f1f6fd 366.2px 370.8px,#f2f7fd 371.2px 373.8px,#f1f6fd 374.2px 376.8px,#f0f5fd 377.2px 378.3px,#f0f5fd 378.7px 379.8px,#f0f5fd 380.2px 381.8px,#f1f6fd 382.2px 386.8px,#f1f6fd 387.2px 392.8px,#f1f6fd 393.2px 395.8px,#f2f7fd 396.2px 399.8px,#f1f6fd 400.2px 404.8px,#f0f5fd 405.2px 407.8px,#f0f5fd 408.2px 412.8px,#f0f5fd 413.2px 416.8px,#f0f5fd 417.2px 419.8px,#f0f5fd 420.2px 425.8px,#f0f5fd 426.2px 429.8px,#f1f6fd 430.2px 434.8px,#f1f6fd 435.2px 436.3px,#f1f6fd 436.7px 440.3px,#f1f6fd 440.7px 445.3px,#f0f5fd 445.7px 448.3px,#f2f7fd 448.7px 451.3px,#f1f6fd 451.7px 454.3px,#f1f6fd 454.7px 456.8px,#f2f7fd 457.2px 458.8px,#f0f5fd 459.2px 463.8px,#f2f7fd 464.2px 466.3px,#f0f5fd 466.7px 472.3px,#f1f6fd 472.7px 474.3px,#f1f6fd 474.7px 478.3px,#f1f6fd 478.7px 481.3px,#f1f6fd 481.7px 484.3px,#f0f5fd 484.7px 485.8px,#f1f6fd 486.2px 489.8px,#f2f7fd 490.2px 494.8px,#f0f5fd 495.2px 497.8px,#f2f7fd 498.2px 499.8px,#f2f7fd 500.2px 501.8px,#eff4fd 502.2px 503.3px,#f1f6fd 503.7px 505.8px,#e8f0fa 506px,#e7effa 506.2px 509.8px,#ebf2fb 510.2px 511.8px,#eaf1fb 512.2px 513.8px,#e6eff9 514.2px 516.8px,#e6eff9 517.2px 520.8px,#e7effa 521.2px 524.8px,#e8f0fa 525.2px 526.3px,#ebf2fb 526.7px 529.3px,#e9f1fa 529.7px 532.3px,#e0e9f7 532.7px 534.3px,#eaf2fb 534.7px 536.3px,#eaf2fb 536.7px 539.3px,#ebf2fb 539.7px 541.3px,#e8f0fa 541.7px 544.3px,#e5eef9 544.7px 547.3px,#ebf2fb 547.7px 548.8px,#e7effa 549.2px 550.8px,#ebf2fb 551.2px 552.8px,#e5eef9 553.2px 557.8px,#e9f0fa 558.2px 563.8px,#e5eef9 564.2px 570.8px,#dce8f5 572px,#dce8f5 572.2px 577.8px,#dce8f5 578.2px 580.8px,#dfeaf6 581.2px 583.8px,#d6e4f3 584.2px 588.8px,#dae7f4 589.2px 591.8px,#dde8f5 592.2px 594.8px,#e0ebf7 595.2px 598.8px,#d8e5f3 599.2px 602.8px,#d7e4f3 603.2px 605.8px,#e3edf7 606.2px 611.8px,#d7e4f3 612.2px 616.8px,#d6e4f3 617.2px 619.3px,#dde9f5 619.7px 622.3px,#e1ecf7 622.7px 624.3px,#dae6f4 624.7px 626.8px,#d7e4f3 627.2px 629.3px,#dee9f6 629.7px 632.3px,#cdddf0 632.7px 638.3px,#d2e1f1 638.7px 643.3px,#e1ecf7 643.7px 645.3px,#e2edf7 645.7px 647.3px,#dae7f4 647.7px 651px,#fff 651.2px,#fff 654.7px,#0b2a6b 654.9px,#1a55a0 659.9px,#2f79b5 668.6px,#5a9acb 685.9px,#8bbbda 709.8px,#a9c8e2 733.6px,#bdd3ea 764px,#c9dbee 798.7px,#d5e2f1 831px,#dce8f5 865px,#e2ecf7 865.2px 867.8px,#dae7f4 868.2px 870.8px,#dbe7f5 871.2px 875.8px,#e0ebf6 876.2px 877.3px,#d6e4f3 877.7px 881.5px,#eef4fc 881.7px,#eef4fc 881.9px 886.5px,#ecf2fb 886.9px 889.8px,#e0ebf6 890px,#e1ecf6 890.2px 891.8px,#d2e1f1 892.2px 897.8px,#dde9f5 898.2px 899.8px,#e4eef7 900.2px 904.8px,#dfebf6 905.2px 907.8px,#e3edf7 908.2px 910.8px,#e2edf7 911.2px 912.8px,#d8e5f3 913.2px 916.8px,#dbe8f4 917.2px 920.8px,#e2ecf7 921.2px 922.8px,#d7e4f2 923.2px 927.8px,#dce8f5 928.2px 929.2px,#eef4fc 929.4px,#eef4fc 934.8px,#d8e5f3 934.8px,#dde8f5 935px 939.6px,#d8e5f3 940px 942.1px,#dfeaf6 942.5px 944.1px,#d1e0f0 944.5px 945.6px,#dee9f5 946px 948.6px,#d4e2f2 949px 954.6px,#cedeef 955px 956.6px,#d3e1f1 957px 959.1px,#dae6f4 959.5px 961.1px,#dde8f5 961.5px 964.1px,#d6e4f2 964.5px 965.6px,#cadbee 966px 967.1px,#dae6f4 967.5px 971.1px,#d9e6f4 971.5px 973.1px,#dce8f4 973.5px 975.6px,#d0dff0 976px 978.6px,#dee9f5 979px 982.6px,#d5e3f2 983px 985.6px,#dce8f4 986px 987.6px,#d4e2f2 988px 992.6px,#ccddef 993px 996.6px,#d9e6f3 997px 999.1px,#d2e1f1 999.5px 1001.6px,#dfeaf6 1002px 1003.6px,#dde8f5 1004px 1005.6px,#d5e3f2 1006px 1011.6px,#d9e6f3 1012px 1016.6px,#deeaf5 1017px 1018.6px,#d1e0f0 1019px 1021.6px,#d8e5f3 1022px 1027.6px,#d8e5f3 1028px 1030.1px,#d7e4f2 1030.5px 1032.6px,#d6e4f2 1033px 1034.6px,#dbe7f4 1035px 1037.6px,#d7e5f3 1038px 1040.1px,#d1e0f0 1040.5px 1042.6px,#d1e0f1 1043px 1044.6px,#d2e1f1 1045px 1046.6px,#d7e4f3 1047px 1049.1px,#dfeaf6 1049.5px 1052.1px,#d5e3f2 1052.5px 1053.6px,#d8e5f3 1054px 1059.6px,#dbe7f4 1060px 1063.6px,#d6e3f2 1064px 1065.8px,#e6eff9 1067px,#e6eff9 1067.2px 1070.8px,#dee9f6 1071.2px 1072.3px,#e9f1fa 1072.7px 1075.3px,#e8f1fa 1075.7px 1081.3px,#eaf2fa 1081.7px 1087.3px,#e6eff9 1087.7px 1090.3px,#e6eff9 1090.7px 1093.3px,#eaf2fa 1093.7px 1095.3px,#eaf2fa 1095.7px 1101.3px,#e8f0fa 1101.7px 1104.3px,#e2ecf8 1104.7px 1110.3px,#dfeaf7 1110.7px 1115.3px,#e3edf8 1115.7px 1119.3px,#e3edf8 1119.7px 1122.2px,#c9dbee 1123.5px,#d2e1f1 1123.7px 1126.3px,#c1d6eb 1126.7px 1129.3px,#d2e1f1 1129.7px 1133.1px,#e6eff9 1133.3px,#e6eff9 1137.6px,#b9d3e8 1137.6px,#b9d3e8 1142px,#cfe0ef 1142px,#cedfef 1142.2px 1147.8px,#d6e5f2 1148.2px 1150.3px,#d2e2f0 1150.7px 1156.3px,#cedfef 1156.7px 1161.3px,#eef4fc 1161.5px,#eef4fc 1161.7px 1167.3px,#edf4fc 1167.7px 1169.3px,#ecf3fc 1169.7px 1171.3px,#f0f5fc 1171.7px 1174.3px,#eef4fc 1174.7px 1178.6px,#cfe0ef 1178.8px,#d8e6f2 1179px 1182.6px,#cedfef 1183px 1185.1px,#e0ebf6 1185.3px,#e1ecf6 1185.5px 1188.1px,#dde9f5 1188.5px 1191.1px,#e1ecf6 1191.5px 1197.1px,#dce8f4 1197.5px 1199.6px,#dde9f5 1200px 1202.1px,#e3edf7 1202.5px 1206.1px,#e4eef8 1206.5px 1208.1px,#dce8f5 1208.5px 1209.6px,#e3edf7 1210px 1214.6px,#dbe7f4 1215px 1219.6px,#dce8f4 1220px 1221.6px,#dce8f4 1222px 1223.6px,#e1ebf6 1224px 1226.6px,#dae7f4 1227px 1229.6px,#dae7f4 1230px 1231.6px,#dbe8f4 1232px 1233.6px,#e4eef7 1234px 1238.6px,#d3e2f1 1239px 1243.6px,#dbe8f4 1244px 1248.6px,#e3edf7 1249px 1253.6px,#e1ebf6 1254px 1255.1px,#dce8f5 1255.5px 1257.1px,#dce8f4 1257.5px 1258.6px,#dde9f5 1259px 1260.1px,#dae7f4 1260.5px 1261.6px,#dde9f5 1262px 1263.1px,#e5eef8 1263.5px 1265.6px,#e2ecf7 1266px 1268.1px,#e2ecf7 1268.5px 1274.1px,#e2edf7 1274.5px 1279.1px,#dfeaf6 1279.5px 1282.8px,#dce8f5 1283px,#dbe8f5 1283.2px 1286.8px,#d8e5f3 1287.2px 1288.3px,#e0ebf7 1288.7px 1291.3px,#dfeaf6 1291.7px 1294.5px)"></div>
<div style="top:452px;height:15px;background:linear-gradient(90deg,#f5fafe 0.3px,#f5fafe 512px,#eef4fc 512px,#ecf2fb 512.2px 513.3px,#eff5fc 513.7px 516.3px,#edf3fc 516.7px 521.3px,#edf3fc 521.7px 527.3px,#eef4fc 527.7px 532.3px,#edf3fc 532.7px 534.8px,#eaf1fb 535.2px 537.8px,#eff5fc 538.2px 542.8px,#eff5fc 543.2px 547.8px,#eff5fc 548.2px 550.8px,#eef4fc 551.2px 553.8px,#eff5fc 554.2px 557.8px,#eff4fc 558.2px 562.8px,#eef4fc 563.2px 565.8px,#eef4fc 566.2px 570.8px,#f5fafe 571px,#f5fafe 881px,#3a5a98 881px,#3a5a98 886px,#a9c4e0 888.2px,#e6eff9 890px,#f1f6fd 890px,#f2f7fd 890.2px 891.3px,#f2f7fd 891.7px 893.3px,#f1f6fd 893.7px 895.3px,#f0f5fd 895.7px 896.8px,#f1f6fd 897.2px 899.8px,#f2f7fd 900.2px 902.8px,#eff4fc 903.2px 904.8px,#f0f5fd 905.2px 906.3px,#f2f7fd 906.7px 908.8px,#f2f7fd 909.2px 911.8px,#f1f6fd 912.2px 913.8px,#f2f7fd 914.2px 918.8px,#eff4fc 919.2px 921.8px,#f1f6fd 922.2px 925.8px,#f1f6fd 926.2px 930.8px,#f0f5fd 931.2px 933.8px,#f2f7fd 934.2px 936.8px,#f0f5fd 937.2px 939.8px,#f1f6fd 940.2px 941.8px,#f1f6fd 942.2px 944.3px,#f2f7fd 944.7px 947.3px,#f1f6fd 947.7px 950.3px,#eff4fc 950.7px 952.8px,#f1f6fd 953.2px 958.8px,#f0f5fd 959.2px 960.8px,#f0f5fd 961.2px 966.8px,#f0f5fd 967.2px 968.8px,#f0f5fd 969.2px 971.8px,#f1f6fd 972.2px 975.8px,#f0f5fd 976.2px 981.8px,#f2f7fd 982.2px 983.3px,#f2f7fd 983.7px 989.3px,#f1f6fd 989.7px 991.3px,#f2f7fd 991.7px 993.3px,#f2f7fd 993.7px 995.8px,#f1f6fd 996.2px 998.3px,#f2f7fd 998.7px 1001.3px,#f1f6fd 1001.7px 1003.8px,#eef3fc 1004.2px 1006.8px,#f2f7fd 1007.2px 1011.8px,#eef3fc 1012.2px 1014.8px,#f2f7fd 1015.2px 1016.8px,#f0f5fd 1017.2px 1018.8px,#f0f5fd 1019.2px 1021.3px,#f0f5fd 1021.7px 1027.3px,#f2f7fd 1027.7px 1030.3px,#f0f5fd 1030.7px 1032.3px,#f0f5fd 1032.7px 1034.3px,#f0f5fd 1034.7px 1039.3px,#f2f7fd 1039.7px 1042.3px,#f2f7fd 1042.7px 1045.3px,#f1f6fd 1045.7px 1048.3px,#f0f5fd 1048.7px 1052.3px,#f1f6fd 1052.7px 1057.3px,#eef3fc 1057.7px 1061.3px,#f1f6fd 1061.7px 1065.3px,#f0f5fd 1065.7px 1067.3px,#f1f6fd 1067.7px 1069.3px,#f1f6fd 1069.7px 1071.3px,#f2f7fd 1071.7px 1072.8px,#f2f7fd 1073.2px 1074.3px,#f2f7fd 1074.7px 1077.3px,#eef3fc 1077.7px 1082.3px,#f0f5fd 1082.7px 1085.3px,#f2f7fd 1085.7px 1088.3px,#f0f5fd 1088.7px 1094.3px,#f0f5fd 1094.7px 1099.3px,#f0f5fd 1099.7px 1105.3px,#f0f5fd 1105.7px 1107.3px,#f0f5fd 1107.7px 1111.3px,#f0f5fd 1111.7px 1117.3px,#f2f7fd 1117.7px 1119.3px,#f2f7fd 1119.7px 1120.8px,#f0f5fd 1121.2px 1123.8px,#f0f5fd 1124.2px 1125.8px,#eff4fd 1126.2px 1127.8px,#f1f6fd 1128.2px 1132.8px,#f1f6fd 1133.2px 1135.8px,#f0f5fd 1136.2px 1141.8px,#f1f6fd 1142.2px 1146.8px,#f0f5fd 1147.2px 1149.8px,#f1f6fd 1150.2px 1153.8px,#eff4fc 1154.2px 1155.8px,#f1f6fd 1156.2px 1159.8px,#f1f6fd 1160.2px 1161.8px,#f2f7fd 1162.2px 1167.8px,#f1f6fd 1168.2px 1171.8px,#f2f7fd 1172.2px 1174.8px,#f1f6fd 1175.2px 1176.8px,#f2f7fd 1177.2px 1178.6px,#eaf2fa 1178.8px,#e7f0f9 1179px 1182.6px,#e8f1f9 1183px 1184.1px,#ebf3fa 1184.5px 1186.1px,#ebf3fa 1186.5px 1189.1px,#edf4fb 1189.5px 1191.1px,#e3edf8 1191.5px 1193.1px,#ebf3fa 1193.5px 1197.1px,#e9f1fa 1197.5px 1202.1px,#e8f1f9 1202.5px 1204.6px,#eaf2fa 1205px 1208.6px,#ebf3fa 1209px 1210.6px,#e7f0f9 1211px 1212.6px,#ecf4fb 1213px 1214.1px,#eaf2fa 1214.5px 1216.1px,#e7f0f9 1216.5px 1218.1px,#e7f0f9 1218.5px 1220.1px,#e8f0f9 1220.5px 1224.1px,#e9f1fa 1224.5px 1227.1px,#eaf2fa 1227.5px 1229.1px,#e9f2fa 1229.5px 1232.1px,#edf4fb 1232.5px 1234.1px,#eaf2fa 1234.5px 1239.1px,#e3edf7 1239.5px 1245.1px,#e9f1fa 1245.5px 1246.6px,#ebf3fa 1247px 1248.6px,#e7f0f9 1249px 1251.1px,#e7f0f9 1251.5px 1252.6px,#ecf3fb 1253px 1255.1px,#ebf3fa 1255.5px 1257.1px,#eaf2fa 1257.5px 1258.6px,#eaf2fa 1259px 1260.8px,#f1f6fd 1261px,#f2f7fd 1261.2px 1263.8px,#f1f6fd 1264.2px 1265.8px,#f0f5fd 1266.2px 1268.3px,#f1f6fd 1268.7px 1274.3px,#f1f6fd 1274.7px 1275.8px,#f2f7fd 1276.2px 1278.3px,#f1f6fd 1278.7px 1284.3px,#f2f7fd 1284.7px 1287.3px,#f1f6fd 1287.7px 1289.3px,#f0f5fd 1289.7px 1291.3px,#f2f7fd 1291.7px 1294.5px)"></div>
<div style="top:467px;height:15px;background:linear-gradient(90deg,#f5fafe 0.3px,#f5fafe 571px,#f0f6fd 571px,#f1f7fd 571.2px 572.3px,#f1f7fd 572.7px 577.3px,#eff5fd 577.7px 581.3px,#f0f6fd 581.7px 582.8px,#f0f6fd 583.2px 585.8px,#eff6fd 586.2px 590.8px,#eff5fd 591.2px 592.8px,#eff5fd 593.2px 594.8px,#f1f7fd 595.2px 597.8px,#f0f6fd 598.2px 601.8px,#eff5fd 602.2px 603.3px,#eff5fd 603.7px 605.3px,#eff5fd 605.7px 608.3px,#f0f6fd 608.7px 610.3px,#eff5fd 610.7px 613.3px,#f1f7fd 613.7px 617.3px,#eff5fd 617.7px 619.3px,#edf4fc 619.7px 620.8px,#f1f7fd 621.2px 622.8px,#eef5fd 623.2px 628.8px,#eef4fd 629.2px 634.8px,#f1f7fd 635.2px 639.8px,#f1f7fd 640.2px 641.8px,#f0f6fd 642.2px 646.8px,#f1f7fd 647.2px 652.8px,#f1f7fd 653.2px 654.3px,#f1f7fd 654.7px 660.3px,#f1f7fd 660.7px 664.3px,#f1f7fd 664.7px 666.3px,#eff5fd 666.7px 669.3px,#f0f6fd 669.7px 673.3px,#eff5fd 673.7px 679.3px,#f0f6fd 679.7px 683.3px,#f1f7fd 683.7px 686.3px,#f1f7fd 686.7px 692.3px,#eff5fd 692.7px 694.8px,#eff5fd 695.2px 696.3px,#f0f6fd 696.7px 702.3px,#f1f7fd 702.7px 705.3px,#f1f7fd 705.7px 707.3px,#f1f7fd 707.7px 709.8px,#f0f6fd 710.2px 714.8px,#eff6fd 715.2px 718.8px,#f1f7fd 719.2px 722.8px,#eff5fd 723.2px 725.8px,#eff5fd 726.2px 728.8px,#eff5fd 729.2px 731.8px,#f0f6fd 732.2px 733.8px,#eef4fd 734.2px 736.8px,#eff5fd 737.2px 741.8px,#f0f6fd 742.2px 744.8px,#eef4fd 745.2px 746.8px,#f0f6fd 747.2px 752.8px,#f1f6fd 753.2px 754.3px,#f1f7fd 754.7px 757.3px,#eff5fd 757.7px 762.3px,#eff5fd 762.7px 764.8px,#f1f7fd 765.2px 767.8px,#f1f7fd 768.2px 770.8px,#f0f6fd 771.2px 773.8px,#eff5fd 774.2px 779.8px,#f0f6fd 780.2px 782.3px,#f1f7fd 782.7px 786.3px,#eff5fd 786.7px 792.3px,#eff5fd 792.7px 797.3px,#f1f7fd 797.7px 802.3px,#f0f6fd 802.7px 804.3px,#eff5fd 804.7px 806.8px,#f1f7fd 807.2px 808.8px,#f1f7fd 809.2px 811.8px,#eff5fd 812.2px 816.8px,#eef4fd 817.2px 819.3px,#f0f6fd 819.7px 821.8px,#f1f7fd 822.2px 825.8px,#eff5fd 826.2px 827.8px,#edf4fc 828.2px 830.8px,#f1f7fd 831.2px 835.8px,#f0f6fd 836.2px 837.8px,#f0f6fd 838.2px 840.3px,#f0f6fd 840.7px 845.3px,#f0f6fd 845.7px 848.3px,#f1f6fd 848.7px 850.8px,#edf4fc 851.2px 852.3px,#f0f6fd 852.7px 855.3px,#f1f7fd 855.7px 858.3px,#eff5fd 858.7px 862.3px,#f1f6fd 862.7px 864.3px,#f1f7fd 864.7px 866.3px,#f1f7fd 866.7px 869.3px,#f1f6fd 869.7px 872.3px,#eff5fd 872.7px 874.3px,#f0f6fd 874.7px 876.8px,#f0f6fd 877.2px 879.8px,#f1f7fd 880.2px 883.8px,#f0f6fd 884.2px 886.8px,#fff 887px,#fff 890.8px,#0f3f8c 891px,#2f79b5 894.7px,#6baed6 903.4px,#a9c8e2 914.2px,#c9d8ee 925px,#dce8f5 929.8px,#eef4fc 930px,#eff5fc 930.2px 931.8px,#eff5fc 932.2px 933.8px,#eaf0fb 934.2px 937.8px,#ecf2fb 938.2px 939.3px,#eef4fc 939.7px 943.3px,#f0f5fc 943.7px 945.8px,#edf3fc 946.2px 948.3px,#edf3fc 948.7px 950.8px,#eff5fc 951.2px 952.3px,#ecf2fb 952.7px 954.3px,#f0f5fc 954.7px 959.3px,#f0f5fc 959.7px 963.3px,#f0f6fd 963.7px 966.3px,#eef4fc 966.7px 971.3px,#eff4fc 971.7px 977.3px,#eaf0fb 977.7px 983.3px,#f0f6fd 983.7px 986.3px,#ecf3fc 986.7px 988.3px,#edf3fc 988.7px 990.8px,#eff5fc 991.2px 992.8px,#eff5fc 993.2px 994.8px,#eff5fc 995.2px 998.8px,#eff5fc 999.2px 1000.8px,#edf3fc 1001.2px 1003.8px,#eef4fc 1004.2px 1008.8px,#edf3fc 1009.2px 1010.3px,#edf3fc 1010.7px 1013.3px,#edf4fc 1013.7px 1016.3px,#edf3fc 1016.7px 1018.3px,#ecf2fb 1018.7px 1019.8px,#edf4fc 1020.2px 1022.8px,#edf4fc 1023.2px 1025.3px,#ecf3fc 1025.7px 1029.3px,#eff5fc 1029.7px 1030.8px,#ebf2fb 1031.2px 1032.3px,#eff5fc 1032.7px 1034.3px,#eff5fc 1034.7px 1039.3px,#eaf0fb 1039.7px 1042.3px,#f0f5fc 1042.7px 1044.8px,#eff4fc 1045.2px 1046.8px,#eef4fc 1047.2px 1050.8px,#edf3fc 1051.2px 1053.8px,#eef4fc 1054.2px 1055.8px,#edf3fc 1056.2px 1057.8px,#eef4fc 1058.2px 1059.8px,#ecf2fb 1060.2px 1063.8px,#eef4fc 1064.2px 1065.8px,#e2ecf7 1067px,#e0eaf6 1067.2px 1068.3px,#e2ecf7 1068.7px 1070.8px,#d6e3f3 1071.2px 1072.8px,#e1ecf7 1073.2px 1075.3px,#e6eff8 1075.7px 1077.3px,#d7e4f3 1077.7px 1080.3px,#e5eef8 1080.7px 1086.3px,#e6eff8 1086.7px 1091.3px,#dee9f5 1091.7px 1096.3px,#e2ecf7 1096.7px 1098.3px,#dae6f4 1098.7px 1099.8px,#e1ebf6 1100.2px 1102.8px,#e6eff9 1103.2px 1107.8px,#dde8f5 1108.2px 1109.3px,#e2ecf7 1109.7px 1112.3px,#e7eff9 1112.7px 1116.3px,#e3edf7 1116.7px 1118.8px,#d9e5f4 1119.2px 1120.3px,#e1ebf6 1120.7px 1121.8px,#e6eff9 1122.2px 1125.8px,#dce8f5 1126.2px 1128.8px,#e4edf8 1129.2px 1131.8px,#e2ecf7 1132.2px 1135.2px,#f1f6fd 1135.4px,#f1f6fd 1138.7px,#e6eff9 1138.7px,#e7f0f9 1138.9px 1141px,#e4eef8 1141.4px 1143px,#e7f0f9 1143.4px 1148px,#e2ecf8 1148.4px 1154px,#e8f0fa 1154.4px 1156.5px,#e3edf8 1156.9px 1159.5px,#e2ecf8 1159.9px 1161px,#e8f1fa 1161.4px 1164px,#e8f0fa 1164.4px 1167.8px,#f1f6fd 1168px,#f2f7fd 1168.2px 1170.8px,#f0f5fd 1171.2px 1172.8px,#f1f6fd 1173.2px 1174.3px,#f0f5fd 1174.7px 1176.3px,#f1f6fd 1176.7px 1179.3px,#f1f6fd 1179.7px 1182.3px,#f2f7fd 1182.7px 1184.3px,#f2f7fd 1184.7px 1185.8px,#f2f7fd 1186.2px 1187.3px,#f1f6fd 1187.7px 1192.3px,#eff4fd 1192.7px 1194.3px,#f1f6fd 1194.7px 1198.3px,#f2f7fd 1198.7px 1200.3px,#f1f6fd 1200.7px 1203.3px,#eff4fd 1203.7px 1205.3px,#f0f5fd 1205.7px 1209.3px,#f2f7fd 1209.7px 1211.3px,#f0f5fd 1211.7px 1214.3px,#f1f6fd 1214.7px 1217.3px,#f2f7fd 1217.7px 1222.3px,#f2f7fd 1222.7px 1224.3px,#f1f6fd 1224.7px 1227.3px,#f1f6fd 1227.7px 1233.3px,#f0f5fd 1233.7px 1235.3px,#f2f7fd 1235.7px 1240.3px,#f0f5fd 1240.7px 1241.8px,#f1f6fd 1242.2px 1244.8px,#f2f7fd 1245.2px 1246.8px,#f2f7fd 1247.2px 1249.3px,#f1f6fd 1249.7px 1254.3px,#f1f6fd 1254.7px 1257.3px,#f1f6fd 1257.7px 1259.3px,#f0f5fd 1259.7px 1265.3px,#f1f6fd 1265.7px 1268.3px,#f1f6fd 1268.7px 1270.8px,#f2f7fd 1271.2px 1273.8px,#f1f6fd 1274.2px 1276.8px,#f1f6fd 1277.2px 1279.8px,#f0f5fd 1280.2px 1281.8px,#f0f5fd 1282.2px 1284.3px,#f2f7fd 1284.7px 1286.3px,#f0f5fd 1286.7px 1289.3px,#f1f6fd 1289.7px 1291.8px,#f0f5fd 1292.2px 1294.5px)"></div>
<div style="top:482px;height:13px;background:linear-gradient(90deg,#f5fafe 0.3px,#f5fafe 929.8px,#e6eff9 929.8px,#e6eff9 932.7px,#f5fafe 932.7px,#f5fafe 1294.7px)"></div>
<div style="top:495px;height:15px;background:linear-gradient(90deg,#f3f8fe 0.3px,#f3f8fe 571px,#e6eff9 571px,#e4eef8 571.2px 573.8px,#e5eff9 574.2px 579.8px,#e3edf8 580.2px 583.8px,#e7f0f9 584.2px 587.8px,#dce8f5 588px,#dfeaf6 588.2px 589.8px,#dce8f5 590.2px 595.8px,#d7e4f3 596.2px 597.8px,#d5e3f3 598.2px 600.8px,#d3e2f2 601.2px 602.3px,#dee9f6 602.7px 607.8px,#e6eff9 608px,#e8f1fa 608.2px 609.8px,#e2ecf8 610.2px 611.8px,#e3edf8 612.2px 613.8px,#e3edf8 614.2px 615.3px,#e7f0f9 615.7px 617.8px,#eaf2fa 618.2px 619.3px,#e5eef9 619.7px 621.3px,#e4eef8 621.7px 627.3px,#eaf2fa 627.7px 629.3px,#e2ecf8 629.7px 634.3px,#e6eff9 634.7px 639.3px,#e7f0f9 639.7px 642.3px,#e8f0fa 642.7px 643.8px,#e5eef9 644.2px 646.3px,#e6eff9 646.7px 647.8px,#e2ecf8 648.2px 652.8px,#e3edf8 653.2px 654.3px,#dce8f5 655px,#e2ecf7 655.2px 657.8px,#d8e5f4 658.2px 662.8px,#dbe7f4 663.2px 666.2px,#e6eff9 666.4px,#e8f0fa 666.6px 669.2px,#e3edf8 669.6px 674.2px,#e2ecf8 674.6px 676.2px,#e9f1fa 676.6px 678.7px,#e4edf8 679.1px 680.7px,#e5eef9 681.1px 682.7px,#dee9f6 683.1px 686.7px,#e5eef9 687.1px 691.7px,#e1ecf7 692.1px 693.7px,#e9f1fa 694.1px 698.7px,#e8f0fa 699.1px 700.2px,#e9f1fa 700.6px 702.7px,#e9f1fa 703.1px 704.7px,#e3edf8 705.1px 707.7px,#e8f1fa 708.1px 709.2px,#e5eef9 709.6px 710.7px,#e6eff9 711.1px 715.7px,#e8f1fa 716.1px 719.7px,#e9f1fa 720.1px 721.7px,#e9f1fa 722.1px 726.7px,#e7f0f9 727.1px 729.2px,#e5eff9 729.6px 732.2px,#e2ecf8 732.6px 734.7px,#e9f1fa 735.1px 737.2px,#e2ecf8 737.6px 743.2px,#e2ecf8 743.6px 749.2px,#eaf2fa 749.6px 753.2px,#e7f0f9 753.6px 755.7px,#e5eef9 756.1px 758.2px,#e5eef9 758.6px 761.2px,#e5eef9 761.6px 764.2px,#e4edf8 764.6px 766.2px,#eaf2fa 766.6px 768.7px,#e4eef8 769.1px 772.7px,#e8f0fa 773.1px 775.7px,#e3edf8 776.1px 777.7px,#e1ecf7 778.1px 779.7px,#e4eef8 780.1px 784.7px,#e2ecf8 785.1px 790.7px,#eaf2fa 791.1px 793.7px,#e5eef9 794.1px 799.7px,#e4eef8 800.1px 803.7px,#e9f1fa 804.1px 809.7px,#e8f0fa 810.1px 815.7px,#e6eff9 816.1px 820.7px,#eaf2fa 821.1px 823.2px,#e2ecf8 823.6px 829.2px,#e6eff9 829.6px 831.2px,#e5eff9 831.6px 837.2px,#eaf2fa 837.6px 838.7px,#e8f0fa 839.1px 841.7px,#e5eef9 842.1px 845.7px,#e6eff9 846.1px 851.7px,#e3edf8 852.1px 855.7px,#e5eef9 856.1px 858.7px,#e6eff9 859.1px 861.7px,#e6eff9 862.1px 863.2px,#e9f1fa 863.6px 865.2px,#e9f1fa 865.6px 869.2px,#dce8f6 869.6px 874.2px,#e6eff9 874.6px 879.2px,#eaf2fa 879.6px 880.8px,#f3f8fe 881px,#f3f8fe 890px,#e6eff9 890px,#e9f1fa 890.2px 891.8px,#e6eff9 892.2px 894.8px,#e8f1fa 895.2px 897.8px,#e7f0f9 898.2px 900.8px,#e6eff9 901.2px 903.8px,#e3edf8 904.2px 905.8px,#e8f1fa 906.2px 908.8px,#dde8f6 909.2px 910.8px,#e7f0f9 911.2px 913.8px,#e7f0f9 914.2px 916.8px,#e5eef9 917.2px 919.3px,#e5eef9 919.7px 922.3px,#e7f0f9 922.7px 924.8px,#e7eff9 925.2px 927.8px,#e7eff9 928.2px 929.2px,#fff 929.4px,#fff 932.8px,#0f3f8c 933px,#2b6fb2 939.2px,#5a9acb 951px,#8bbbda 968.4px,#a9c8e2 985.8px,#bdd3ea 1007.5px,#cdddf0 1033.5px,#dce8f5 1063.9px,#dce8f5 1066px,#d5e4f2 1067px,#deeaf5 1067.2px 1071.8px,#dae7f4 1072.2px 1073.8px,#d1e1f0 1074.2px 1075.8px,#d2e2f1 1076.2px 1080.8px,#d2e2f1 1081.2px 1086.8px,#cfe0f0 1087.2px 1088.3px,#d6e5f3 1088.7px 1089.8px,#c7daed 1090.2px 1092.8px,#d8e6f3 1093.2px 1094.8px,#d8e6f3 1095.2px 1098.8px,#ccdeef 1099.2px 1101.8px,#d0e0f0 1102.2px 1105.8px,#d4e3f2 1106.2px 1107.8px,#d2e2f1 1108.2px 1109.8px,#dce9f5 1110.2px 1111.8px,#cddfef 1112.2px 1113.3px,#cedff0 1113.7px 1116.3px,#d0e1f0 1116.7px 1117.8px,#c3d8eb 1118.2px 1119.8px,#e4eef8 1120px,#e9f1fa 1120.2px 1123.8px,#e4eef8 1124.2px 1126.8px,#e1ecf7 1127.2px 1129.8px,#e1ecf7 1130.2px 1132.8px,#e3edf8 1133.2px 1134.3px,#e0ebf7 1134.7px 1136.3px,#e7f0f9 1136.7px 1138.3px,#e0ebf7 1138.7px 1140.8px,#e9f1fa 1141.2px 1142.8px,#e4eef8 1143.2px 1145.3px,#e3eef8 1145.7px 1151.3px,#e8f1f9 1151.7px 1153.3px,#e2edf7 1153.7px 1158.3px,#e4eef8 1158.7px 1164.3px,#e2edf7 1164.7px 1167.3px,#e2ecf7 1167.7px 1169.8px,#e2edf7 1170.2px 1172.1px,#f1f6fd 1172.3px,#f0f5fd 1172.5px 1176.1px,#f2f7fd 1176.5px 1177.6px,#f1f6fd 1178px 1179.6px,#f1f6fd 1180px 1182.6px,#eff4fc 1183px 1188.6px,#f1f6fd 1189px 1190.1px,#eff4fc 1190.5px 1192.1px,#f0f5fd 1192.5px 1195.1px,#f1f6fd 1195.5px 1196.6px,#f2f7fd 1197px 1198.6px,#f0f5fd 1199px 1200.6px,#f1f6fd 1201px 1204.6px,#f0f5fd 1205px 1209.6px,#f1f6fd 1210px 1212.6px,#f2f7fd 1213px 1215.6px,#f2f7fd 1216px 1221.6px,#f0f5fd 1222px 1223.6px,#f0f5fd 1224px 1225.1px,#eff4fc 1225.5px 1229.1px,#f1f6fd 1229.5px 1231.6px,#f1f6fd 1232px 1236.6px,#f1f6fd 1237px 1239.1px,#f0f5fd 1239.5px 1241.6px,#f1f6fd 1242px 1245.6px,#f2f7fd 1246px 1249.6px,#f1f6fd 1250px 1252.1px,#f1f6fd 1252.5px 1258.1px,#f1f6fd 1258.5px 1260.1px,#f1f6fd 1260.5px 1264.1px,#f1f6fd 1264.5px 1266.6px,#f0f5fd 1267px 1269.6px,#f1f6fd 1270px 1272.6px,#f0f5fd 1273px 1275.1px,#f2f7fd 1275.5px 1277.1px,#f2f7fd 1277.5px 1278.6px,#eff4fc 1279px 1281.1px,#f0f5fd 1281.5px 1287.1px,#f2f7fd 1287.5px 1289.6px,#f1f6fd 1290px 1291.6px,#eff4fd 1292px 1294.5px)"></div>
<div style="top:510px;height:15px;background:linear-gradient(90deg,#f5fafe 0.3px,#f5fafe 571px,#ecf3fb 571px,#ecf3fb 571.2px 572.3px,#eaf1fa 572.7px 574.8px,#eaf1fa 575.2px 580.8px,#ecf3fb 581.2px 582.8px,#eef5fc 583.2px 585.3px,#eef5fc 585.7px 587.3px,#eaf2fa 587.7px 590.3px,#ebf2fb 590.7px 594.3px,#edf3fb 594.7px 597.3px,#eef5fc 597.7px 599.8px,#edf4fb 600.2px 603.8px,#edf3fb 604.2px 606.8px,#ebf2fb 607.2px 608.3px,#edf4fb 608.7px 612.3px,#eef5fc 612.7px 613.8px,#f3f8fe 614px,#f3f8fe 653px,#f1f6fd 653px,#f2f7fd 653.2px 654.8px,#f1f6fd 655.2px 656.3px,#f1f6fd 656.7px 661.3px,#f2f7fd 661.7px 666.3px,#eff4fc 666.7px 672.3px,#eef3fc 672.7px 673.8px,#f0f5fd 674.2px 676.8px,#f1f6fd 677.2px 680.8px,#f1f6fd 681.2px 683.8px,#f1f6fd 684.2px 685.8px,#f1f6fd 686.2px 687.8px,#f1f6fd 688.2px 692.8px,#eff4fc 693.2px 698.8px,#f0f5fd 699.2px 701.3px,#f2f7fd 701.7px 703.3px,#f2f7fd 703.7px 705.3px,#f1f6fd 705.7px 708.3px,#f2f7fd 708.7px 714.3px,#f0f5fd 714.7px 717.3px,#f0f5fd 717.7px 721.3px,#f0f5fd 721.7px 723.8px,#f1f6fd 724.2px 728.8px,#f2f7fd 729.2px 730.8px,#f1f6fd 731.2px 732.3px,#f1f6fd 732.7px 735.3px,#f0f5fd 735.7px 737.3px,#f1f6fd 737.7px 742.3px,#f2f7fd 742.7px 745.3px,#f1f6fd 745.7px 747.3px,#f2f7fd 747.7px 749.8px,#f1f6fd 750.2px 751.8px,#eff4fd 752.2px 753.8px,#f1f6fd 754.2px 755.3px,#f2f7fd 755.7px 759.3px,#f1f6fd 759.7px 765.3px,#f0f5fd 765.7px 771.3px,#f1f6fd 771.7px 774.3px,#f2f7fd 774.7px 777.3px,#f0f5fd 777.7px 780.3px,#f0f5fd 780.7px 782.3px,#f2f7fd 782.7px 784.8px,#eef3fc 785.2px 787.8px,#f1f6fd 788.2px 790.3px,#f2f7fd 790.7px 794.3px,#f2f7fd 794.7px 796.3px,#f1f6fd 796.7px 798.8px,#f1f6fd 799.2px 801.8px,#f2f7fd 802.2px 804.8px,#f0f5fd 805.2px 808.8px,#f0f5fd 809.2px 812.8px,#eff4fd 813.2px 814.8px,#f0f5fd 815.2px 816.8px,#f1f6fd 817.2px 819.8px,#f2f7fd 820.2px 823.8px,#f1f6fd 824.2px 826.8px,#f1f6fd 827.2px 832.8px,#f1f6fd 833.2px 836.8px,#f1f6fd 837.2px 841.8px,#f1f6fd 842.2px 843.8px,#f1f6fd 844.2px 845.8px,#f0f5fd 846.2px 850.8px,#f1f6fd 851.2px 856.8px,#f1f6fd 857.2px 858.3px,#f1f6fd 858.7px 859.8px,#eef3fc 860.2px 861.8px,#f1f6fd 862.2px 867.8px,#eef3fc 868.2px 869.8px,#f0f5fd 870.2px 871.3px,#f0f5fd 871.7px 874.3px,#f0f5fd 874.7px 879.3px,#eff4fd 879.7px 880.8px,#f3f8fe 881px,#f3f8fe 890px,#e6eff9 890px,#e5eff9 890.2px 891.3px,#dce8f6 891.7px 894.3px,#e9f1fa 894.7px 896.8px,#e3edf8 897.2px 901.8px,#e8f0fa 902.2px 904.8px,#e6eff9 905.2px 910.8px,#e6eff9 911.2px 914.8px,#e9f1fa 915.2px 916.3px,#dce8f6 916.7px 921.3px,#eaf2fa 921.7px 925.3px,#e0ebf7 925.7px 927.3px,#e7f0f9 927.7px 931.4px,#e2ecf7 931.6px,#e0ebf6 931.8px 933.4px,#e3edf7 933.8px 936.4px,#dbe7f4 936.8px 937.9px,#e3edf8 938.3px 940.4px,#dfeaf6 940.8px 946.4px,#e3edf7 946.8px 948.4px,#dde9f5 948.8px 950.4px,#dfeaf6 950.8px 952.4px,#e4edf8 952.8px 954.9px,#e3ecf7 955.3px 956.9px,#e0ebf6 957.3px 961.9px,#e2ecf7 962.3px 967.9px,#e6eff8 968.3px 971.9px,#dee9f5 972.3px 973.4px,#e5eef8 973.8px 975.9px,#d9e6f4 976.3px 979.8px,#e8f0fa 980px,#e7effa 980.2px 981.8px,#e9f1fa 982.2px 984.3px,#e5eef9 984.7px 986.8px,#e8f0fa 987.2px 989.3px,#ebf2fb 989.7px 991.3px,#e9f1fa 991.7px 996.3px,#e6eef9 996.7px 997.8px,#e3ecf9 998.2px 999.3px,#e7effa 999.7px 1001.3px,#ecf3fb 1001.7px 1003.3px,#e6eff9 1003.7px 1008.3px,#e5eef9 1008.7px 1013.3px,#e8f0fa 1013.7px 1016.3px,#e1ebf8 1016.7px 1019.3px,#e7effa 1019.7px 1021.3px,#e6eef9 1021.7px 1024.3px,#e9f1fa 1024.7px 1029.8px,#eef4fc 1030px,#f0f6fd 1030.2px 1035.8px,#edf3fc 1036.2px 1037.8px,#eef4fc 1038.2px 1039.8px,#eff5fc 1040.2px 1041.8px,#edf3fc 1042.2px 1044.3px,#eef4fc 1044.7px 1045.8px,#eff5fc 1046.2px 1047.3px,#ecf2fb 1047.7px 1049.8px,#ecf2fb 1050.2px 1055.8px,#eef4fc 1056.2px 1057.8px,#edf4fc 1058.2px 1060.8px,#edf4fc 1061.2px 1062.3px,#f0f5fc 1062.7px 1063.8px,#eff5fc 1064.2px 1065.8px,#0f3f8c 1066.5px,#2060a8 1073.6px,#4d93c5 1085.5px,#7fb5d6 1098.6px,#a9c8e2 1109.4px,#c9d8ee 1120.2px,#dce8f5 1123.5px,#f1f6fd 1123.5px,#f1f6fd 1123.7px 1125.3px,#f0f5fd 1125.7px 1127.8px,#f1f6fd 1128.2px 1129.8px,#f1f6fd 1130.2px 1131.8px,#f1f6fd 1132.2px 1134.8px,#f1f6fd 1135.2px 1136.8px,#f1f6fd 1137.2px 1141.8px,#f1f6fd 1142.2px 1144.8px,#f2f7fd 1145.2px 1146.3px,#f0f5fd 1146.7px 1150.3px,#f1f6fd 1150.7px 1152.3px,#f2f7fd 1152.7px 1154.8px,#f2f7fd 1155.2px 1156.3px,#f0f5fd 1156.7px 1162.3px,#f0f5fd 1162.7px 1168.3px,#f0f5fd 1168.7px 1170.3px,#f2f7fd 1170.7px 1173.3px,#f0f5fd 1173.7px 1179.3px,#f2f7fd 1179.7px 1183.3px,#f1f6fd 1183.7px 1187.3px,#f1f6fd 1187.7px 1188.8px,#f0f5fd 1189.2px 1194.8px,#f0f5fd 1195.2px 1196.8px,#f0f5fd 1197.2px 1198.3px,#f1f6fd 1198.7px 1200.3px,#f0f5fd 1200.7px 1204.3px,#f0f5fd 1204.7px 1207.3px,#f0f5fd 1207.7px 1208.8px,#f1f6fd 1209.2px 1214.8px,#f1f6fd 1215.2px 1220.8px,#f1f6fd 1221.2px 1225.8px,#f0f5fd 1226.2px 1231.8px,#f0f5fd 1232.2px 1237.8px,#f0f5fd 1238.2px 1239.8px,#f0f5fd 1240.2px 1241.8px,#f2f7fd 1242.2px 1243.8px,#f1f6fd 1244.2px 1245.8px,#f1f6fd 1246.2px 1248.3px,#f0f5fd 1248.7px 1250.3px,#f1f6fd 1250.7px 1251.8px,#f0f5fd 1252.2px 1254.3px,#f0f5fd 1254.7px 1257.3px,#f1f6fd 1257.7px 1261.3px,#f1f6fd 1261.7px 1263.8px,#f1f6fd 1264.2px 1269.8px,#f0f5fd 1270.2px 1275.8px,#f1f6fd 1276.2px 1277.3px,#f2f7fd 1277.7px 1280.3px,#f2f7fd 1280.7px 1283.3px,#f2f7fd 1283.7px 1289.3px,#f2f7fd 1289.7px 1294.5px)"></div>
<div style="top:525px;height:15px;background:linear-gradient(90deg,#f5fafe 0.3px,#f5fafe 652px,#c5d9ee 652px,#c5d9ee 656.6px,#e2ecf7 656.6px,#d5e2f2 656.8px 662.4px,#e7f0f9 662.8px 665.4px,#e1ebf6 665.8px 668.4px,#dfeaf6 668.8px 673.4px,#e2ecf7 673.8px 674.9px,#dde8f5 675.3px 676.4px,#e1ebf7 676.8px 677.9px,#e0ebf6 678.3px 680.4px,#e2ecf7 680.8px 681.9px,#dee9f5 682.3px 686.9px,#e4edf8 687.3px 688.9px,#dde9f5 689.3px 691.4px,#d5e2f2 691.8px 694.4px,#eaf2fa 694.6px,#e8f0f9 694.8px 696.9px,#ecf3fb 697.3px 702.9px,#ecf4fb 703.3px 705.9px,#eaf2fa 706.3px 711.9px,#e9f2fa 712.3px 717.9px,#e8f0f9 718.3px 719.9px,#ecf3fb 720.3px 721.9px,#e7f0f9 722.3px 724.9px,#ecf3fb 725.3px 728.9px,#e7f0f9 729.3px 731.4px,#e8f0f9 731.8px 733.9px,#ecf4fb 734.3px 735.9px,#ebf3fb 736.3px 738.9px,#e9f2fa 739.3px 741.9px,#edf4fb 742.3px 743.4px,#edf4fb 743.8px 745.9px,#e9f1f9 746.3px 751.9px,#ecf4fb 752.3px 754.8px,#f0f6fd 755px,#f1f7fd 755.2px 758.8px,#eff5fd 759.2px 761.3px,#f1f7fd 761.7px 763.3px,#f0f6fd 763.7px 767.3px,#eff5fd 767.7px 771.3px,#f0f6fd 771.7px 773.3px,#f0f6fd 773.7px 776.3px,#f0f6fd 776.7px 780.3px,#f1f7fd 780.7px 785.3px,#f1f7fd 785.7px 789.3px,#eef4fd 789.7px 791.3px,#f1f7fd 791.7px 793.3px,#f0f6fd 793.7px 794.8px,#f1f6fd 795.2px 797.8px,#eff5fd 798.2px 799.3px,#f0f6fd 799.7px 802.3px,#f0f6fd 802.7px 806.3px,#f0f6fd 806.7px 808.8px,#f3f8fe 809px,#f3f8fe 1124px,#5a7fb5 1124.2px,#3a7dbb 1127.8px,#a9c8e2 1131px,#c9dbee 1135.4px,#f1f6fd 1135.4px,#f0f5fd 1135.6px 1137.2px,#f0f5fd 1137.6px 1138.7px,#f0f5fd 1139.1px 1141.2px,#eff4fd 1141.6px 1144.2px,#f1f6fd 1144.6px 1149.2px,#f2f7fd 1149.6px 1153.2px,#eff4fc 1153.6px 1155.2px,#eff4fd 1155.6px 1157.7px,#f2f7fd 1158.1px 1159.2px,#f0f5fd 1159.6px 1162.2px,#f1f6fd 1162.6px 1165.2px,#f1f6fd 1165.6px 1171.2px,#f2f7fd 1171.6px 1174.2px,#f2f7fd 1174.6px 1178.6px,#eaf2fa 1178.8px,#e5eef8 1179px 1181.1px,#edf4fb 1181.5px 1184.1px,#e8f1f9 1184.5px 1186.1px,#e9f1fa 1186.5px 1188.1px,#edf4fb 1188.5px 1189.5px,#f1f6fd 1189.7px,#f2f7fd 1189.9px 1192.5px,#f0f5fd 1192.9px 1195.5px,#f1f6fd 1195.9px 1198.5px,#f1f6fd 1198.9px 1204.5px,#f0f5fd 1204.9px 1207.5px,#f2f7fd 1207.9px 1213.5px,#f1f6fd 1213.9px 1215.5px,#f0f5fd 1215.9px 1218.5px,#f1f6fd 1218.9px 1224.5px,#f0f5fd 1224.9px 1226px,#f2f7fd 1226.4px 1231px,#f1f6fd 1231.4px 1233px,#f1f6fd 1233.4px 1237px,#f1f6fd 1237.4px 1242px,#eef3fc 1242.4px 1245px,#f1f6fd 1245.4px 1250px,#f2f7fd 1250.4px 1252px,#f1f6fd 1252.4px 1254px,#f0f5fd 1254.4px 1259px,#f1f6fd 1259.4px 1262px,#f0f5fd 1262.4px 1265px,#f0f5fd 1265.4px 1267.5px,#f0f5fd 1267.9px 1271.5px,#f2f7fd 1271.9px 1274px,#eff4fc 1274.4px 1275.5px,#f0f5fd 1275.9px 1281.5px,#f1f6fd 1281.9px 1285.5px,#f0f5fd 1285.9px 1288.5px,#f2f7fd 1288.9px 1291.5px,#f2f7fd 1291.9px 1294.5px)"></div>
<div style="top:540px;height:14px;background:linear-gradient(90deg,#f0f6fd 0.3px,#f0f6fd 0.5px 4.1px,#f0f6fd 4.5px 6.1px,#f1f7fd 6.5px 8.6px,#f1f6fd 9px 11.1px,#f0f6fd 11.5px 17.1px,#edf4fc 17.5px 18.6px,#f1f7fd 19px 21.6px,#f1f7fd 22px 24.6px,#f1f7fd 25px 26.1px,#eef4fd 26.5px 28.1px,#eff5fd 28.5px 33.1px,#f0f6fd 33.5px 35.1px,#f1f7fd 35.5px 40.1px,#f0f6fd 40.5px 42.1px,#f0f6fd 42.5px 46.1px,#f1f7fd 46.5px 48.1px,#eef4fd 48.5px 51.1px,#f1f7fd 51.5px 53.1px,#f0f6fd 53.5px 56.1px,#eff5fd 56.5px 58.1px,#eef4fd 58.5px 60.1px,#eff5fd 60.5px 62.6px,#f0f6fd 63px 65.1px,#eff5fd 65.5px 67.1px,#f0f6fd 67.5px 70.1px,#f1f7fd 70.5px 73.1px,#f1f7fd 73.5px 77.1px,#f0f6fd 77.5px 80.1px,#f1f7fd 80.5px 84.4px,#dce8f5 85.7px,#eef4fc 130px,#f3f8fe 130px,#f3f8fe 141px,#a9cbe3 141px,#a9cbe3 143.5px,#cfe0ef 143.5px,#deeaf6 177.8px,#eef4fc 177.8px,#f0f5fc 178px 180.6px,#edf3fc 181px 183.6px,#ecf2fb 184px 187.6px,#f0f6fd 188px 189.6px,#eef4fc 190px 192.1px,#edf3fc 192.5px 194.1px,#edf3fc 194.5px 200.1px,#eff5fc 200.5px 206.1px,#f0f6fd 206.5px 211.1px,#eff5fc 211.5px 213.1px,#ecf2fb 213.5px 216.1px,#edf3fc 216.5px 217.6px,#eef4fc 218px 223.6px,#eef4fc 224px 225.6px,#edf3fc 226px 230.6px,#eef4fc 231px 232.6px,#eff5fc 233px 238.4px,#f3f8fe 238.6px,#f3f8fe 278.7px,#eaf2fa 278.7px,#eaf2fa 278.9px 280px,#eaf2fa 280.4px 283px,#edf4fb 283.4px 286px,#ebf3fa 286.4px 288.2px,#f3f8fe 288.4px,#f3f8fe 300.4px,#e0ebf6 300.4px,#dee9f5 300.6px 304.2px,#e4eef7 304.6px 306.2px,#dde9f5 306.6px 310.2px,#e2ecf7 310.6px 313.2px,#deeaf5 313.6px 317.2px,#dde9f5 317.6px 319.2px,#e4eef8 319.6px 325.1px,#eef4fc 325.3px,#eff5fc 325.5px 328.1px,#edf3fc 328.5px 331.1px,#ecf3fc 331.5px 333.1px,#f0f6fd 333.5px 334.6px,#eef4fc 335px 336.6px,#eef4fc 337px 338.6px,#f0f5fc 339px 343.6px,#edf3fc 344px 346.6px,#edf4fc 347px 348.1px,#f0f5fc 348.5px 350.6px,#eef4fc 351px 354.6px,#eff5fc 355px 357.6px,#eef4fc 358px 362.6px,#eef4fc 363px 366.6px,#f0f6fd 367px 371.8px,#dce8f5 372px,#e0ebf6 372.2px 374.8px,#dee9f6 375.2px 379.3px,#eaf2fa 379.5px,#edf4fb 379.7px 384.3px,#edf4fb 384.7px 389.3px,#ebf3fa 389.7px 390.8px,#e8f1f9 391.2px 392.3px,#e9f1fa 392.7px 393.8px,#e8f1f9 394.2px 398.8px,#ebf3fa 399.2px 401.8px,#edf4fb 402.2px 404.8px,#e7f0f9 405.2px 406.8px,#e3edf7 407.2px 409.8px,#ecf3fb 410.2px 412.3px,#e8f1f9 412.7px 414.3px,#e9f1f9 414.7px 417.3px,#eaf2fa 417.7px 423.3px,#e8f1f9 423.7px 427.3px,#eaf2fa 427.7px 430.3px,#e7f0f9 430.7px 431.8px,#ecf3fb 432.2px 433.3px,#edf4fb 433.7px 434.8px,#eaf2fa 435.2px 437.8px,#ebf3fa 438.2px 440.8px,#ebf3fa 441.2px 442.8px,#e9f1fa 443.2px 445.3px,#e8f1f9 445.7px 446.8px,#e9f1fa 447.2px 449.8px,#ecf3fb 450.2px 453.8px,#e6eff9 454px,#e2ecf8 454.2px 455.8px,#e5eef9 456.2px 461.8px,#e7f0f9 462.2px 464.8px,#e4eef8 465.2px 466.3px,#dde8f6 466.7px 469.3px,#e7f0f9 469.7px 473.3px,#e5eef9 473.7px 475.3px,#e4edf8 475.7px 481.3px,#e9f1fa 481.7px 485.3px,#e9f2fa 485.7px 488.3px,#e8f1fa 488.7px 491.3px,#e8f0fa 491.7px 496.3px,#e3edf8 496.7px 500.3px,#e4eef8 500.7px 503.3px,#e7eff9 503.7px 504.6px,#eef4fc 504.8px,#ecf2fb 505px 506.1px,#eff4fc 506.5px 508.1px,#eff5fc 508.5px 510.1px,#edf3fc 510.5px 512.1px,#f0f5fc 512.5px 516.1px,#eef4fc 516.5px 519.1px,#ecf3fc 519.5px 525.1px,#eff5fc 525.5px 527.6px,#edf3fc 528px 529.1px,#eff5fc 529.5px 535.1px,#eef4fc 535.5px 539.1px,#edf4fc 539.5px 542.1px,#e9f0fb 542.5px 543.6px,#edf3fc 544px 547.6px,#eff5fc 548px 550.6px,#eff5fc 551px 552.1px,#f0f6fd 552.5px 557.1px,#eef4fc 557.5px 562.1px,#eef4fc 562.5px 565.1px,#ecf3fc 565.5px 567.1px,#eef4fc 567.5px 573.1px,#eef4fc 573.5px 575.1px,#ebf1fb 575.5px 581.1px,#e9f0fb 581.5px 584.1px,#f0f6fd 584.5px 587.1px,#eff5fc 587.5px 588.6px,#eef4fc 589px 590.1px,#ecf3fc 590.5px 596.1px,#f0f6fd 596.5px 599.1px,#edf3fc 599.5px 601.1px,#ecf2fb 601.5px 606.1px,#eef4fc 606.5px 608.6px,#eff5fc 609px 610.1px,#eff5fc 610.5px 612.6px,#f0f5fc 613px 616.6px,#eff5fc 617px 619.6px,#ecf2fb 620px 622.1px,#eef4fc 622.5px 625.1px,#eef4fc 625.5px 631.1px,#eff5fc 631.5px 633.1px,#eef4fc 633.5px 635.1px,#eff5fc 635.5px 637.6px,#eff5fc 638px 639.6px,#eef4fc 640px 645.6px,#edf3fc 646px 647.1px,#f0f6fd 647.5px 649.1px,#eff5fc 649.5px 651.1px,#eef4fc 651.5px 653.1px,#f0f6fd 653.5px 655.3px,#f0f6fd 655.5px,#f0f6fd 655.7px 658.3px,#f0f6fd 658.7px 660.8px,#f0f6fd 661.2px 663.3px,#f0f6fd 663.7px 665.3px,#f0f6fd 665.7px 667.3px,#f0f6fd 667.7px 668.8px,#eff5fd 669.2px 673.8px,#f0f6fd 674.2px 675.3px,#f1f7fd 675.7px 681.3px,#eff5fd 681.7px 686.3px,#f0f6fd 686.7px 688.8px,#f1f7fd 689.2px 690.3px,#f0f6fd 690.7px 691.8px,#f1f7fd 692.2px 693.8px,#f0f6fd 694.2px 696.8px,#eef4fd 697.2px 701.8px,#edf3fc 702.2px 704.8px,#eff5fd 705.2px 706.3px,#edf4fc 706.7px 709.3px,#f0f6fd 709.7px 714.3px,#eff5fd 714.7px 716.3px,#f0f6fd 716.7px 720.3px,#f1f7fd 720.7px 721.8px,#f1f7fd 722.2px 725.8px,#eff5fd 726.2px 727.8px,#f0f6fd 728.2px 730.8px,#f1f7fd 731.2px 732.8px,#f1f7fd 733.2px 734.3px,#f1f7fd 734.7px 739.3px,#eff5fd 739.7px 745.3px,#eff5fd 745.7px 747.8px,#eff5fd 748.2px 749.8px,#edf3fc 750.2px 752.8px,#f0f6fd 753.2px 755.3px,#eff5fd 755.7px 761.3px,#f1f7fd 761.7px 767.3px,#f0f6fd 767.7px 769.3px,#f0f6fd 769.7px 772.3px,#eff5fd 772.7px 774.3px,#f0f6fd 774.7px 779.3px,#f0f6fd 779.7px 780.8px,#f0f6fd 781.2px 783.8px,#f1f7fd 784.2px 785.8px,#eff5fd 786.2px 791.8px,#eef5fd 792.2px 794.8px,#f0f6fd 795.2px 796.3px,#eff5fd 796.7px 799.3px,#eff5fd 799.7px 801.3px,#f0f6fd 801.7px 804.3px,#f0f6fd 804.7px 809.3px,#f2f7fd 809.5px,#f3f8fd 809.7px 815.3px,#f2f7fd 815.7px 818.3px,#f2f7fd 818.7px 820.3px,#f2f7fd 820.7px 822.3px,#f2f7fd 822.7px 827.3px,#f3f8fd 827.7px 829.8px,#f3f8fd 830.2px 832.8px,#f2f7fd 833.2px 838.8px,#f2f7fd 839.2px 841.8px,#f3f8fd 842.2px 845.8px,#f3f8fd 846.2px 847.8px,#f2f7fd 848.2px 850.8px,#f1f6fd 851.2px 853.8px,#f1f6fd 854.2px 857.8px,#f2f7fd 858.2px 860.3px,#f2f7fd 860.7px 866.3px,#f1f6fd 866.7px 869.3px,#f1f6fd 869.7px 871.8px,#f3f8fd 872.2px 873.3px,#f2f7fd 873.7px 877.3px,#f2f7fd 877.7px 880.4px,#e4eef8 880.6px,#e4eef8 886px,#f0f6fd 886px,#edf4fc 886.2px 891.8px,#eff5fd 892.2px 894.8px,#edf3fc 895.2px 897.8px,#eff5fd 898.2px 899.3px,#f1f6fd 899.7px 901.3px,#f0f6fd 901.7px 903.3px,#f1f7fd 903.7px 905.8px,#eef4fd 906.2px 909.8px,#f0f6fd 910.2px 914.8px,#f0f6fd 915.2px 916.8px,#f0f6fd 917.2px 919.8px,#edf4fc 920.2px 921.8px,#f1f7fd 922.2px 923.8px,#f0f6fd 924.2px 928.8px,#eff5fd 929.2px 931.8px,#f0f6fd 932.2px 937.8px,#f0f6fd 938.2px 943.8px,#f1f7fd 944.2px 948.8px,#eef5fd 949.2px 953.8px,#eff5fd 954.2px 955.3px,#f1f7fd 955.7px 957.3px,#f1f7fd 957.7px 959.8px,#f0f6fd 960.2px 961.8px,#f0f6fd 962.2px 965.8px,#edf3fc 966.2px 967.3px,#f1f7fd 967.7px 970.3px,#eff5fd 970.7px 976.3px,#eef5fd 976.7px 978.8px,#f0f6fd 979.2px 981.8px,#f0f6fd 982.2px 983.8px,#f1f7fd 984.2px 986.8px,#edf4fc 987.2px 991.8px,#f0f6fd 992.2px 993.3px,#edf3fc 993.7px 995.3px,#f0f6fd 995.7px 997.3px,#eef5fd 997.7px 1003.3px,#f1f7fd 1003.7px 1007.3px,#eef4fd 1007.7px 1012.3px,#f0f6fd 1012.7px 1013.8px,#eff5fd 1014.2px 1016.8px,#f0f6fd 1017.2px 1022.8px,#eff5fd 1023.2px 1025.8px,#edf4fc 1026.2px 1031.8px,#f0f6fd 1032.2px 1035.8px,#f1f7fd 1036.2px 1037.8px,#eff5fd 1038.2px 1042.8px,#f0f6fd 1043.2px 1044.3px,#eff5fd 1044.7px 1048.3px,#f1f6fd 1048.7px 1051.3px,#f0f6fd 1051.7px 1055.3px,#f0f6fd 1055.7px 1058.3px,#f0f6fd 1058.7px 1060.3px,#f0f6fd 1060.7px 1063.3px,#eff5fd 1063.7px 1065.8px,#f1f6fd 1066px,#f0f5fd 1066.2px 1070.8px,#f0f5fd 1071.2px 1073.3px,#f1f6fd 1073.7px 1075.3px,#f1f6fd 1075.7px 1077.3px,#f1f6fd 1077.7px 1078.8px,#f0f5fd 1079.2px 1081.8px,#f2f7fd 1082.2px 1084.8px,#f0f5fd 1085.2px 1087.3px,#f2f7fd 1087.7px 1089.8px,#f2f7fd 1090.2px 1093.8px,#f1f6fd 1094.2px 1096.8px,#f1f6fd 1097.2px 1098.8px,#f2f7fd 1099.2px 1100.8px,#f2f7fd 1101.2px 1102.3px,#f1f6fd 1102.7px 1106.3px,#f2f7fd 1106.7px 1112.3px,#f2f7fd 1112.7px 1114.3px,#f1f6fd 1114.7px 1117.3px,#f1f6fd 1117.7px 1121.3px,#f0f5fd 1121.7px 1123.3px,#e6eff9 1124px,#e1ecf7 1124.2px 1126.3px,#e7f0f9 1126.7px 1127.8px,#e8f0fa 1128.2px 1132.8px,#eaf2fa 1133.2px 1134.1px,#f5fafe 1134.3px,#f5fafe 1135.8px,#0f3f8c 1136px,#2b6fb2 1140.2px,#7fb5d6 1146.3px,#b9d0e8 1155px,#d5e2f1 1163.6px,#eaf2fa 1163.6px,#edf4fb 1163.8px 1166.4px,#edf4fb 1166.8px 1168.4px,#e3edf7 1168.8px 1170.4px,#e9f2fa 1170.8px 1171.9px,#ecf4fb 1172.3px 1174.9px,#ecf4fb 1175.3px 1176.4px,#eaf2fa 1176.8px 1178.6px,#d5e4f2 1178.8px,#d4e3f1 1179px 1181.1px,#d4e4f2 1181.5px 1186.1px,#d5e4f2 1186.5px 1189.5px,#eaf2fa 1189.7px,#ebf2fa 1189.9px 1192.5px,#ecf3fb 1192.9px 1195px,#e4edf8 1195.4px 1198px,#e8f0f9 1198.4px 1200.5px,#ecf4fb 1200.9px 1202.5px,#e7f0f9 1202.9px 1205px,#ebf3fa 1205.4px 1211px,#ecf4fb 1211.4px 1215px,#e5eff8 1215.4px 1217.6px,#dce8f5 1217.8px,#dde9f5 1218px 1219.6px,#e2ecf7 1220px 1222.6px,#e1ebf7 1223px 1225.1px,#dae7f4 1225.5px 1228.5px,#eaf2fa 1228.7px,#ebf3fa 1228.9px 1230.5px,#e8f0f9 1230.9px 1233.5px,#ebf3fb 1233.9px 1236.5px,#ecf3fb 1236.9px 1239.5px,#e8f1f9 1239.9px 1242.5px,#e8f0f9 1242.9px 1244px,#ebf3fa 1244.4px 1247px,#e9f1fa 1247.4px 1249px,#ecf4fb 1249.4px 1251.5px,#edf4fb 1251.9px 1256.5px,#edf4fb 1256.9px 1257.8px,#cfe0ef 1258px,#cfe0ef 1261.2px,#f1f6fd 1261.2px,#f2f7fd 1261.4px 1262.5px,#f1f6fd 1262.9px 1265px,#f1f6fd 1265.4px 1268px,#f2f7fd 1268.4px 1271px,#f2f7fd 1271.4px 1276px,#f0f5fd 1276.4px 1279px,#f2f7fd 1279.4px 1280.8px,#e6eff9 1281px,#e4edf8 1281.2px 1285.8px,#dde9f6 1286.2px 1287.8px,#e8f0fa 1288.2px 1289.3px,#e8f0fa 1289.7px 1294.5px)"></div>
<div style="top:554px;height:15px;background:linear-gradient(90deg,#f5fafe 0.3px,#f5fafe 512px,#d5e0f0 512px,#d5e0f0 513.5px,#f5fafe 513.5px,#f5fafe 1162.5px,#c5d5e8 1162.5px,#c5d5e8 1163.6px,#f5fafe 1163.6px,#f5fafe 1294.7px)"></div>
<div style="top:569px;height:15px;background:linear-gradient(90deg,#f5fafe 0.3px,#f5fafe 462px,#e8f0fa 462.5px,#e7effa 462.7px 463.8px,#ebf2fb 464.2px 467.8px,#eaf2fb 468.2px 470.3px,#ebf2fb 470.7px 472.3px,#e8f0fa 472.7px 474.8px,#eaf2fb 475.2px 476.8px,#e5eef9 477.2px 482.8px,#ebf3fb 483.2px 485.8px,#e5eef9 486.2px 488.8px,#e9f1fa 489.2px 490.5px,#f3f8fe 490.7px,#f3f8fe 504.8px,#eaf2fa 504.8px,#e9f2fa 505px 506.6px,#e9f2fa 507px 508.6px,#e9f1fa 509px 512.6px,#e8f1f9 513px 515.6px,#e3edf7 516px 519.6px,#e9f2fa 520px 521.1px,#ecf3fb 521.5px 523.6px,#ecf4fb 524px 525.6px,#ebf3fa 526px 529.6px,#e6eff8 530px 532.6px,#e8f0f9 533px 538.2px,#f3f8fe 538.4px,#f3f8fe 880px,#eef4fc 880.6px,#eff5fc 880.8px 882.4px,#eef4fc 882.8px 885.4px,#eff5fc 885.8px 887.4px,#ecf2fb 887.8px 889.9px,#edf3fc 890.3px 892.3px,#f1f6fd 892.5px,#f1f6fd 892.7px 894.3px,#f1f6fd 894.7px 897.3px,#f1f6fd 897.7px 900.3px,#f1f6fd 900.7px 902.3px,#f0f5fd 902.7px 908.3px,#f2f7fd 908.7px 910.8px,#f2f7fd 911.2px 913.8px,#f1f6fd 914.2px 917.8px,#f0f5fd 918.2px 919.8px,#f1f6fd 920.2px 922.8px,#f2f7fd 923.2px 927.8px,#f2f7fd 928.2px 929.8px,#f0f5fd 930.2px 932.5px,#eaf2fa 932.7px,#ecf3fb 932.9px 935px,#e8f0f9 935.4px 941px,#ecf4fb 941.4px 943px,#ebf3fa 943.4px 946px,#e9f1fa 946.4px 948px,#e5eef8 948.4px 950px,#ecf3fb 950.4px 952px,#ecf4fb 952.4px 957px,#ebf3fa 957.4px 961px,#e8f0f9 961.4px 962.5px,#e9f1fa 962.9px 967.5px,#e9f2fa 967.9px 973.5px,#eaf2fa 973.9px 976.5px,#e8f0f9 976.9px 978px,#e3edf7 978.4px 980px,#e9f1fa 980.4px 982.5px,#e2edf7 982.9px 987.5px,#eaf2fa 987.9px 989.5px,#e2edf7 989.9px 994.5px,#e5eef8 994.9px 996.5px,#ebf3fa 996.9px 998.5px,#e9f1fa 998.9px 1000px,#ebf3fb 1000.4px 1006px,#ebf2fa 1006.4px 1009px,#e8f1f9 1009.4px 1012px,#edf4fb 1012.4px 1013.5px,#e8f0f9 1013.9px 1018.5px,#ebf3fb 1018.9px 1024.5px,#e8f0f9 1024.9px 1026.5px,#e9f1fa 1026.9px 1031.5px,#e6eff8 1031.9px 1036.5px,#eaf2fa 1036.9px 1041.5px,#e8f1f9 1041.9px 1043.5px,#e9f2fa 1043.9px 1046px,#edf4fb 1046.4px 1047.5px,#e4eef8 1047.9px 1050.5px,#e8f0f9 1050.9px 1052px,#eaf2fa 1052.4px 1054px,#eaf2fa 1054.4px 1057px,#e4eef8 1057.4px 1061px,#e6eff8 1061.4px 1065.8px,#eef4fc 1066px,#eaf1fb 1066.2px 1071.8px,#edf3fc 1072.2px 1073.8px,#eef4fc 1074.2px 1078.8px,#edf3fc 1079.2px 1082.8px,#eef4fc 1083.2px 1088.8px,#edf3fc 1089.2px 1092.8px,#edf3fc 1093.2px 1095.8px,#eef4fc 1096.2px 1098.3px,#eff5fc 1098.7px 1100.3px,#edf3fc 1100.7px 1105.3px,#eef4fc 1105.7px 1108.3px,#ecf3fc 1108.7px 1113.3px,#ebf1fb 1113.7px 1116.3px,#eef4fc 1116.7px 1121.3px,#eff4fc 1121.7px 1123.3px,#f3f8fe 1123.5px,#f3f8fe 1135px,#eaf2fa 1135.4px,#ebf3fa 1135.6px 1136.7px,#e9f1fa 1137.1px 1139.2px,#e7f0f9 1139.6px 1141.8px,#f3f8fe 1142px,#f3f8fe 1162px,#8fa6cb 1162.5px,#0f3f8c 1164.3px,#4d93c5 1167.5px,#b9d0e8 1171.2px,#d5e2f1 1176.6px,#e2ecf7 1176.6px,#e6eff9 1176.8px 1178.4px,#e4edf8 1178.8px 1180.4px,#e5eef8 1180.8px 1183.4px,#dde8f5 1183.8px 1186.4px,#e6eff9 1186.8px 1187.9px,#e0eaf6 1188.3px 1189.4px,#e1ecf7 1189.8px 1191.4px,#e5eef8 1191.8px 1193.4px,#e2ecf7 1193.8px 1194.9px,#dfeaf6 1195.3px 1197.4px,#dde8f5 1197.8px 1199.9px,#dfeaf6 1200.3px 1205.9px,#e7eff9 1206.3px 1207.4px,#dde8f5 1207.8px 1210.4px,#e5eef8 1210.8px 1213.4px,#dfeaf6 1213.8px 1217.6px,#d5e4f2 1217.8px,#e6eff9 1259px,#c5d9ee 1260px,#c5d9ee 1265.6px,#e2ecf7 1265.6px,#e3edf7 1265.8px 1268.4px,#e0ebf6 1268.8px 1269.9px,#dde8f5 1270.3px 1274.9px,#e5eef8 1275.3px 1280.9px,#e7f0f9 1281.3px 1283.4px,#e7f0f9 1283.8px 1287.4px,#e4edf8 1287.8px 1290.3px,#eef4fc 1290.5px,#eef4fc 1294.7px)"></div>
<div style="top:584px;height:13px;background:linear-gradient(90deg,#f5fafe 0.3px,#f5fafe 1175.6px,#dce4f0 1175.6px,#dce4f0 1176.6px,#f5fafe 1176.6px,#f5fafe 1294.7px)"></div>
<div style="top:597px;height:15px;background:linear-gradient(90deg,#f5fafe 0.3px,#f5fafe 1177px,#d8e2f0 1177px,#d8e2f0 1179.8px,#f5fafe 1179.8px,#f5fafe 1294.7px)"></div>
<div style="top:612px;height:15px;background:linear-gradient(90deg,#f5fafe 0.3px,#f5fafe 433px,#f2f7fd 433px,#f2f7fd 433.2px 434.8px,#f3f8fd 435.2px 436.8px,#f2f7fd 437.2px 439.8px,#f2f7fd 440.2px 441.3px,#f2f7fd 441.7px 442.8px,#f2f7fd 443.2px 446.8px,#f1f6fd 447.2px 449.8px,#f2f7fd 450.2px 453.8px,#f3f8fd 454.2px 456.3px,#f2f7fd 456.7px 458.3px,#f2f7fd 458.7px 460.8px,#f2f7fd 461.2px 465.8px,#f2f7fd 466.2px 467.8px,#f2f7fd 468.2px 472.8px,#f1f6fd 473.2px 474.8px,#f3f8fd 475.2px 477.3px,#f2f7fd 477.7px 482.3px,#f2f7fd 482.7px 485.3px,#f1f6fd 485.7px 488.3px,#f2f7fd 488.7px 492.3px,#f2f7fd 492.7px 493.8px,#f3f8fd 494.2px 498.8px,#f2f7fd 499.2px 503.8px,#f1f6fd 504.2px 505.3px,#f2f7fd 505.7px 507.3px,#f2f7fd 507.7px 509.8px,#dee9f6 510.2px,#dbe7f5 510.4px 512px,#e0ebf7 512.4px 516px,#d4e1f2 516.4px 517.5px,#e0ebf7 517.9px 521.5px,#ceddf0 521.9px 523px,#e3ecf8 523.4px 525px,#e3ecf8 525.4px 526.5px,#d8e5f4 526.9px 529.5px,#dce7f5 529.9px 531.5px,#dce8f5 531.9px 533px,#e3ecf8 533.4px 537px,#e0eaf7 537.4px 539.8px,#e8f0fa 540px,#ebf2fb 540.2px 541.8px,#e3ecf8 542.2px 547.8px,#e9f1fa 548.2px 553.8px,#e9f1fa 554.2px 556.8px,#e8f0fa 557.2px 560.8px,#e2ebf8 561.2px 562.3px,#e6eff9 562.7px 568.3px,#e7effa 568.7px 570.8px,#f3f8fe 571px,#f3f8fe 652px,#e0ebf6 652px,#e0ebf6 656.6px,#f3f8fe 656.6px,#f3f8fe 880px,#deeaf6 880.6px,#e3eef8 880.8px 881.9px,#dae7f5 882.3px 888px,#f3f8fe 888.2px,#f3f8fe 929.4px,#eef4fc 929.4px,#eef4fc 929.6px 934.2px,#edf3fc 934.6px 940.2px,#edf3fc 940.6px 944.2px,#eef4fc 944.6px 947.2px,#eef4fc 947.6px 949.2px,#eef4fc 949.6px 954.2px,#eef4fc 954.6px 956.2px,#f0f5fc 956.6px 958.2px,#edf3fc 958.6px 960.2px,#edf3fc 960.6px 962.2px,#eef4fc 962.6px 964.7px,#edf3fc 965.1px 966.7px,#eef4fc 967.1px 968.2px,#eff5fc 968.6px 969.7px,#edf3fc 970.1px 971.7px,#ecf3fc 972.1px 976.7px,#eef4fc 977.1px 980.7px,#ecf2fb 981.1px 984.7px,#eff5fc 985.1px 986.2px,#eef4fc 986.6px 987.7px,#edf4fc 988.1px 989.2px,#eef4fc 989.6px 994.2px,#ecf2fb 994.6px 996.2px,#edf3fc 996.6px 1001.2px,#ecf3fc 1001.6px 1004.2px,#f0f5fc 1004.6px 1008.2px,#ecf3fc 1008.6px 1013.2px,#eef4fc 1013.6px 1020.3px,#f2f7fd 1020.5px,#f2f7fd 1020.7px 1025.3px,#f2f7fd 1025.7px 1028.3px,#f2f7fd 1028.7px 1034.3px,#f2f7fd 1034.7px 1037.3px,#f0f5fc 1037.7px 1040.3px,#f2f7fd 1040.7px 1041.8px,#f2f7fd 1042.2px 1044.3px,#f3f8fd 1044.7px 1049.3px,#f1f6fd 1049.7px 1051.8px,#f3f8fd 1052.2px 1057.8px,#f2f7fd 1058.2px 1061.8px,#f1f6fd 1062.2px 1063.3px,#f2f7fd 1063.7px 1067.3px,#f2f7fd 1067.7px 1068.8px,#f1f6fd 1069.2px 1073.8px,#f2f7fd 1074.2px 1079.8px,#f1f6fd 1080.2px 1081.8px,#f2f7fd 1082.2px 1084.3px,#f2f7fd 1084.7px 1087.3px,#f2f7fd 1087.7px 1090.3px,#f3f8fd 1090.7px 1091.8px,#f3f8fd 1092.2px 1095.8px,#f3f8fd 1096.2px 1097.8px,#f3f8fd 1098.2px 1099.3px,#f2f7fd 1099.7px 1102.3px,#f2f7fd 1102.7px 1104.8px,#f1f6fd 1105.2px 1106.8px,#f2f7fd 1107.2px 1110.8px,#f2f7fd 1111.2px 1113.3px,#f2f7fd 1113.7px 1116.3px,#f1f6fd 1116.7px 1122.3px,#f2f7fd 1122.7px 1124.8px,#f2f7fd 1125.2px 1126.8px,#f2f7fd 1127.2px 1128.3px,#f2f7fd 1128.7px 1130.8px,#f2f7fd 1131.2px 1133.8px,#f2f7fd 1134.2px 1135.8px,#b9cde5 1136.3px,#b9cde5 1140.8px,#f1f6fd 1140.8px,#f2f7fd 1141px 1142.6px,#eff4fc 1143px 1147.6px,#f2f7fd 1148px 1150.6px,#eff4fc 1151px 1153.6px,#f2f7fd 1154px 1156.1px,#f1f6fd 1156.5px 1160.1px,#f0f5fd 1160.5px 1162.8px,#bdd3ea 1163px,#bdd3ea 1168.7px,#eaf2fa 1168.7px,#ebf3fa 1168.9px 1173.5px,#ecf4fb 1173.9px 1175px,#e7f0f9 1175.4px 1177.8px,#08205d 1178.2px,#08205d 1186.4px,#134c98 1189.6px,#3a80bd 1192.8px,#6ba5cf 1197.9px,#a9c4e0 1204.2px,#c9d8ee 1211.8px,#dee9f6 1217.5px,#c5d9ee 1218.2px,#c9dcef 1218.4px 1219.5px,#bed4ec 1219.9px 1223.5px,#c2d7ed 1223.9px 1226.2px,#d5e4f2 1226.4px,#e6eff9 1258.8px,#b9d0e8 1260px,#b9d0e8 1263.8px,#dce8f5 1263.8px,#eaf2fa 1280px,#f1f6fd 1280px,#f1f6fd 1284.8px,#dce8f5 1284.8px,#e2ecf7 1285px 1287.1px,#d8e5f3 1287.5px 1289.6px,#dbe8f5 1290px 1291.1px,#dbe7f5 1291.5px 1294.5px)"></div>
<div style="top:627px;height:15px;background:linear-gradient(90deg,#f5fafe 0.3px,#f5fafe 1136px,#d5e4f2 1136.3px,#d5e4f2 1140.8px,#f5fafe 1140.8px,#f5fafe 1163px,#b9d0e8 1163px,#b9d0e8 1164.5px,#8fb8da 1164.5px,#8fb8da 1166px,#eaf2fa 1166px,#edf4fb 1166.2px 1167.8px,#eaf2fa 1168.2px 1170.8px,#e4eef8 1171.2px 1175.8px,#ebf3fb 1176.2px 1177.8px,#a9c8e2 1178.2px,#b9d3e8 1190.2px,#dce8f5 1190.2px,#e2ecf7 1190.4px 1196px,#d6e4f3 1196.4px 1202px,#dee9f6 1202.4px 1205px,#e2ecf7 1205.4px 1208px,#e1ebf7 1208.4px 1210.5px,#dde8f5 1210.9px 1213.5px,#fff 1213.7px,#fff 1218px,#08205d 1218.2px,#08205d 1224.5px,#134c98 1227px,#2b6fb2 1232px,#5a9acb 1237.2px,#8bb5d8 1242.3px,#b9cfe8 1248.6px,#d0dff0 1257.5px,#d5e2f1 1259.8px,#7ba7d2 1260px,#7ba7d2 1268.9px,#eaf2fa 1268.9px,#f8fbff 1280px,#f5fafe 1280px,#f5fafe 1283.5px,#a9c4e0 1283.5px,#a9c4e0 1288px,#d5e2f1 1288px,#dce7f4 1288.2px 1289.3px,#d8e5f2 1289.7px 1294.5px)"></div>
<div style="top:642px;height:14px;background:linear-gradient(90deg,#f5fafe 0.3px,#f5fafe 1136px,#eef4fc 1136.3px,#eff5fc 1136.5px 1138.1px,#ecf3fc 1138.5px 1140.6px,#eff5fc 1141px 1142.6px,#f0f6fd 1143px 1144.6px,#eef4fc 1145px 1146.1px,#eff5fc 1146.5px 1152.1px,#edf3fc 1152.5px 1154.1px,#eef4fc 1154.5px 1157.1px,#eff5fc 1157.5px 1159.6px,#f0f5fc 1160px 1162.8px,#dce8f5 1163px,#dce8f5 1164.5px,#b9d3e8 1164.5px,#b9d3e8 1166px,#dce8f5 1166px,#dce8f5 1168.7px,#eef4fc 1168.7px,#edf3fc 1168.9px 1170.5px,#eef4fc 1170.9px 1172.5px,#eaf1fb 1172.9px 1175px,#eef4fc 1175.4px 1177.8px,#e2ecf7 1178.2px,#dce7f5 1178.4px 1181px,#e3edf8 1181.4px 1183.5px,#e5eef8 1183.9px 1186.5px,#e3edf7 1186.9px 1188.5px,#e1ebf7 1188.9px 1193.5px,#dae6f4 1193.9px 1197.5px,#e5eef8 1197.9px 1200.5px,#e1ecf7 1200.9px 1205.5px,#e1ebf7 1205.9px 1210.5px,#dee9f6 1210.9px 1215.5px,#dde9f5 1215.9px 1217.3px,#eaf2fa 1218.2px,#eaf2fa 1222px,#a9c8e2 1222px,#a9c8e2 1229.6px,#bdd8ea 1229.6px,#d5e4f2 1242.3px,#e2ecf7 1242.3px,#e2ecf7 1242.5px 1245.1px,#e3edf7 1245.5px 1247.6px,#e6eff8 1248px 1249.6px,#e1ebf6 1250px 1252.1px,#dee9f6 1252.5px 1253.6px,#e0eaf6 1254px 1256.3px,#fff 1256.5px,#fff 1259.8px,#0b2a6b 1260px,#0b2a6b 1265px,#134c98 1267px,#3a80bd 1268.9px,#8bbbda 1270.8px,#a9c8e2 1274px,#d0dff0 1279px,#e6eff9 1281px,#f1f6fd 1281px,#f1f6fd 1281.2px 1285.8px,#f1f6fd 1286.2px 1288.3px,#f2f7fd 1288.7px 1290.3px,#f0f5fd 1290.7px 1293.3px,#f1f6fd 1293.7px 1294.5px)"></div>
<div style="top:656px;height:15px;background:linear-gradient(90deg,#f5fafe 0.3px,#f5fafe 1281px,#3f68a5 1281px,#3f68a5 1282.9px,#fbfdff 1282.9px,#fbfdff 1286px,#f5fafe 1286px,#f5fafe 1294.7px)"></div>
<div style="top:671px;height:15px;background:linear-gradient(90deg,#f5fafe 0.3px,#f5fafe 1282.9px,#dce4f2 1282.9px,#dce4f2 1284.8px,#f5fafe 1284.8px,#f5fafe 1294.7px)"></div>
<div style="top:686px;height:15px;background:linear-gradient(90deg,#f5fafe 0.3px,#f5fafe 1136px,#eaf2fa 1136.3px,#e5eff8 1136.5px 1138.6px,#eaf2fa 1139px 1142.5px,#f5fafe 1142.7px,#f5fafe 1178px,#eef4fc 1178.2px,#eef4fc 1178.4px 1180px,#edf3fc 1180.4px 1182px,#ebf2fb 1182.4px 1185px,#edf3fc 1185.4px 1189px,#eef4fc 1189.4px 1194px,#eef4fc 1194.4px 1196.5px,#ecf2fb 1196.9px 1199.5px,#f0f5fc 1199.9px 1205.5px,#ecf3fc 1205.9px 1208.5px,#edf3fc 1208.9px 1210px,#eef4fc 1210.4px 1213px,#f0f6fd 1213.4px 1215.5px,#eef4fc 1215.9px 1217.3px,#c5d9ee 1218.2px,#c5d9ee 1222px,#dce8f5 1222px,#e6eff9 1242.3px,#eef4fc 1242.3px,#eef4fc 1242.5px 1245.1px,#edf3fc 1245.5px 1247.6px,#edf3fc 1248px 1250.1px,#eef4fc 1250.5px 1251.6px,#eff5fc 1252px 1254.1px,#edf3fc 1254.5px 1258.6px,#f5fafe 1258.8px,#f5fafe 1283px,#8fa0c0 1283.1px,#8fa0c0 1284.8px,#08205d 1284.9px,#08205d 1288px,#3a80bd 1288.3px,#3a80bd 1290px,#a9c8e2 1290.3px,#a9c8e2 1293px,#dce8f5 1293.3px,#dce8f5 1294.7px)"></div>
</div>
<svg width="2006" height="851" viewBox="0 0 2006 851">
<defs><linearGradient id="lg" x1="0" y1="0" x2="1" y2="0"><stop offset="0" stop-color="#F7FBFF"/><stop offset=".07" stop-color="#F7FBFF"/><stop offset=".2" stop-color="#DCE8F5"/><stop offset=".35" stop-color="#A9CBE3"/><stop offset=".5" stop-color="#5F9FCC"/><stop offset=".65" stop-color="#2B6FB2"/><stop offset=".78" stop-color="#0F4493"/><stop offset=".9" stop-color="#08205D"/><stop offset="1" stop-color="#08205D"/></linearGradient></defs>
<rect x="249" y="73" width="1297" height="0.8" fill="#fff"/>
<rect x="249" y="700.4" width="1297" height="0.8" fill="#fff"/>
<rect x="249.5" y="73" width="0.7" height="628" fill="#fff" opacity=".6"/>
<rect x="1544.75" y="73" width="0.5" height="628" fill="#fff" opacity=".6"/>
<path d="M250.3 86.6H320.3M250.3 102.4H320.3M336.8 101.6H370.3M336.8 117.4H370.3M392.8 116.6H427.3M392.8 132.4H427.3M439.8 131.6H473.3M439.8 146.4H473.3M528.3 145.6H539.8M528.3 161.4H539.8M550.3 160.6H567.3M550.3 176.4H567.3M589.3 188.6H592.3M589.3 204.4H592.3M599.3 247.6H601.3M599.3 263.4H601.3M601.3 262.6H613.3M601.3 278.4H613.3M622.3 277.6H647.3M622.3 291.4H647.3M671.3 290.6H676.8M671.3 306.4H676.8M683.3 305.6H690.3M683.3 321.4H690.3M699.3 320.6H703.8M699.3 336.4H703.8M705.8 335.6H710.8M705.8 350.4H710.8M712.3 349.6H724.3M712.3 365.4H724.3M734.3 364.6H746.8M734.3 380.4H746.8M755.3 392.6H757.3M755.3 408.4H757.3M762.3 407.6H773.3M762.3 423.4H773.3M822.3 422.6H841.3M822.3 438.4H841.3M904.8 437.6H942.8M904.8 452.4H942.8M1131.3 451.6H1137.8M1131.3 467.4H1137.8M1141.3 466.6H1152.3M1141.3 482.4H1152.3M1183.3 494.6H1205.8M1183.3 510.4H1205.8M1316.3 509.6H1342.3M1316.3 525.4H1342.3M1374.3 524.6H1379.3M1374.3 540.4H1379.3M1386.3 539.6H1394.8M1386.3 554.4H1394.8M1412.8 568.6H1418.8M1412.8 584.4H1418.8M1428.3 611.6H1447.8M1428.3 627.4H1447.8M1468.3 626.6H1488.8M1468.3 642.4H1488.8M1510.3 641.6H1520.3M1510.3 656.4H1520.3M1531.3 655.6H1533.3M1531.3 671.4H1533.3M1535.3 685.6H1540.3" stroke="#fff" stroke-width=".8" fill="none" opacity=".9"/>
<g class="l">
<text x="1548.4" y="87">17. Erythroblasts</text>
<text x="1548.4" y="102">25. Neuroblastoma: Adrenergic II</text>
<text x="1548.4" y="116">26. Cell Cycle</text>
<text x="1548.4" y="131">35. Neuroblastoma: Adrenergic IV</text>
<text x="1548.4" y="145">38. Neuroblastoma: Adrenergic V</text>
<text x="1548.4" y="160">2. Neuroblastoma: Adrenergic I</text>
<text x="1548.4" y="175">33. Neuroblastoma: Adrenergic III</text>
<text x="1548.4" y="189">12. Adrenocortical Cells</text>
<text x="1548.4" y="204">6. Fetal Kidney I (Unknown)</text>
<text x="1548.4" y="218">29. Fetal Kidney IV (Unknown)</text>
<text x="1548.4" y="233">34. Neuroblastoma: Unknown</text>
<text x="1548.4" y="247">14. Fetal Kidney II (Podocytes)</text>
<text x="1548.4" y="262">24. Fetal Kidney III</text>
<text x="1548.4" y="277">36. Endothelial III</text>
<text x="1548.4" y="291">7. Cancer Associated Fibroblast: Intermediate [Myo:inf]</text>
<text x="1548.4" y="306">9. Endothelial I</text>
<text x="1548.4" y="320">31. Endothelial II</text>
<text x="1548.4" y="335">15. Schwannian Stromal Cell</text>
<text x="1548.4" y="349">39. Schwannian Stromal Cell II</text>
<text x="1548.4" y="364">4. Fibroblast</text>
<text x="1548.4" y="379">37. Cancer Associated Fibroblast: Myofibroblastic (TAGLN+)</text>
<text x="1548.4" y="393">19. Cancer Associated Fibroblast: Myofibroblastic</text>
<text x="1548.4" y="408">28. Cancer Associated Fibroblast: Inflammatory</text>
<text x="1548.4" y="422">32. Naïve B Cell</text>
<text x="1548.4" y="437">5. T Cell: Naïve Helper T</text>
<text x="1548.4" y="451">11. T Cell: Effector T Cell</text>
<text x="1548.4" y="466">27. Plasmacytoid Dendritic Cell</text>
<text x="1548.4" y="481">30. Natural Kiler T Cell</text>
<text x="1548.4" y="495">10. Neutrophil</text>
<text x="1548.4" y="510">18. T Cell: CD8+</text>
<text x="1548.4" y="524">40. T Cell: Cytotoxic</text>
<text x="1548.4" y="539">43. T Cell: Regulatory</text>
<text x="1548.4" y="553">21. Stress Response</text>
<text x="1548.4" y="568">1. Plasma Cell</text>
<text x="1548.4" y="583">42. Dendritic Cell</text>
<text x="1548.4" y="597">8. Hepatocyte-Like Cell</text>
<text x="1548.4" y="612">20. Hepatocyte-Like Cell II</text>
<text x="1548.4" y="626">13. Monocyte</text>
<text x="1548.4" y="641">41. Inflammatory Macrophage</text>
<text x="1548.4" y="655">3. Macrophage</text>
<text x="1548.4" y="670">22. Mast Cells</text>
<text x="1548.4" y="685">16. Macrophage II</text>
<text x="1548.4" y="699">23. M-MDSC</text>
</g>
<text class="t" x="897.5" y="724.6" text-anchor="middle">Cells</text>
<text class="t" transform="translate(238.8 387.4) rotate(-90)" text-anchor="middle">GEPs</text>
<text class="b" x="849.1" y="807.9">Activity Scores</text>
<rect x="849" y="814.9" width="47.9" height="16" fill="url(#lg)"/>
<path d="M851.7 815v3.2M851.7 831v-3.2M892.5 815v3.2M892.5 831v-3.2" stroke="#fff" stroke-width="1" fill="none"/>
<text class="k" x="851.9" y="843.8" text-anchor="middle">0</text>
<text class="k" x="892.2" y="843.8" text-anchor="middle">200</text>
</svg></body></html>
